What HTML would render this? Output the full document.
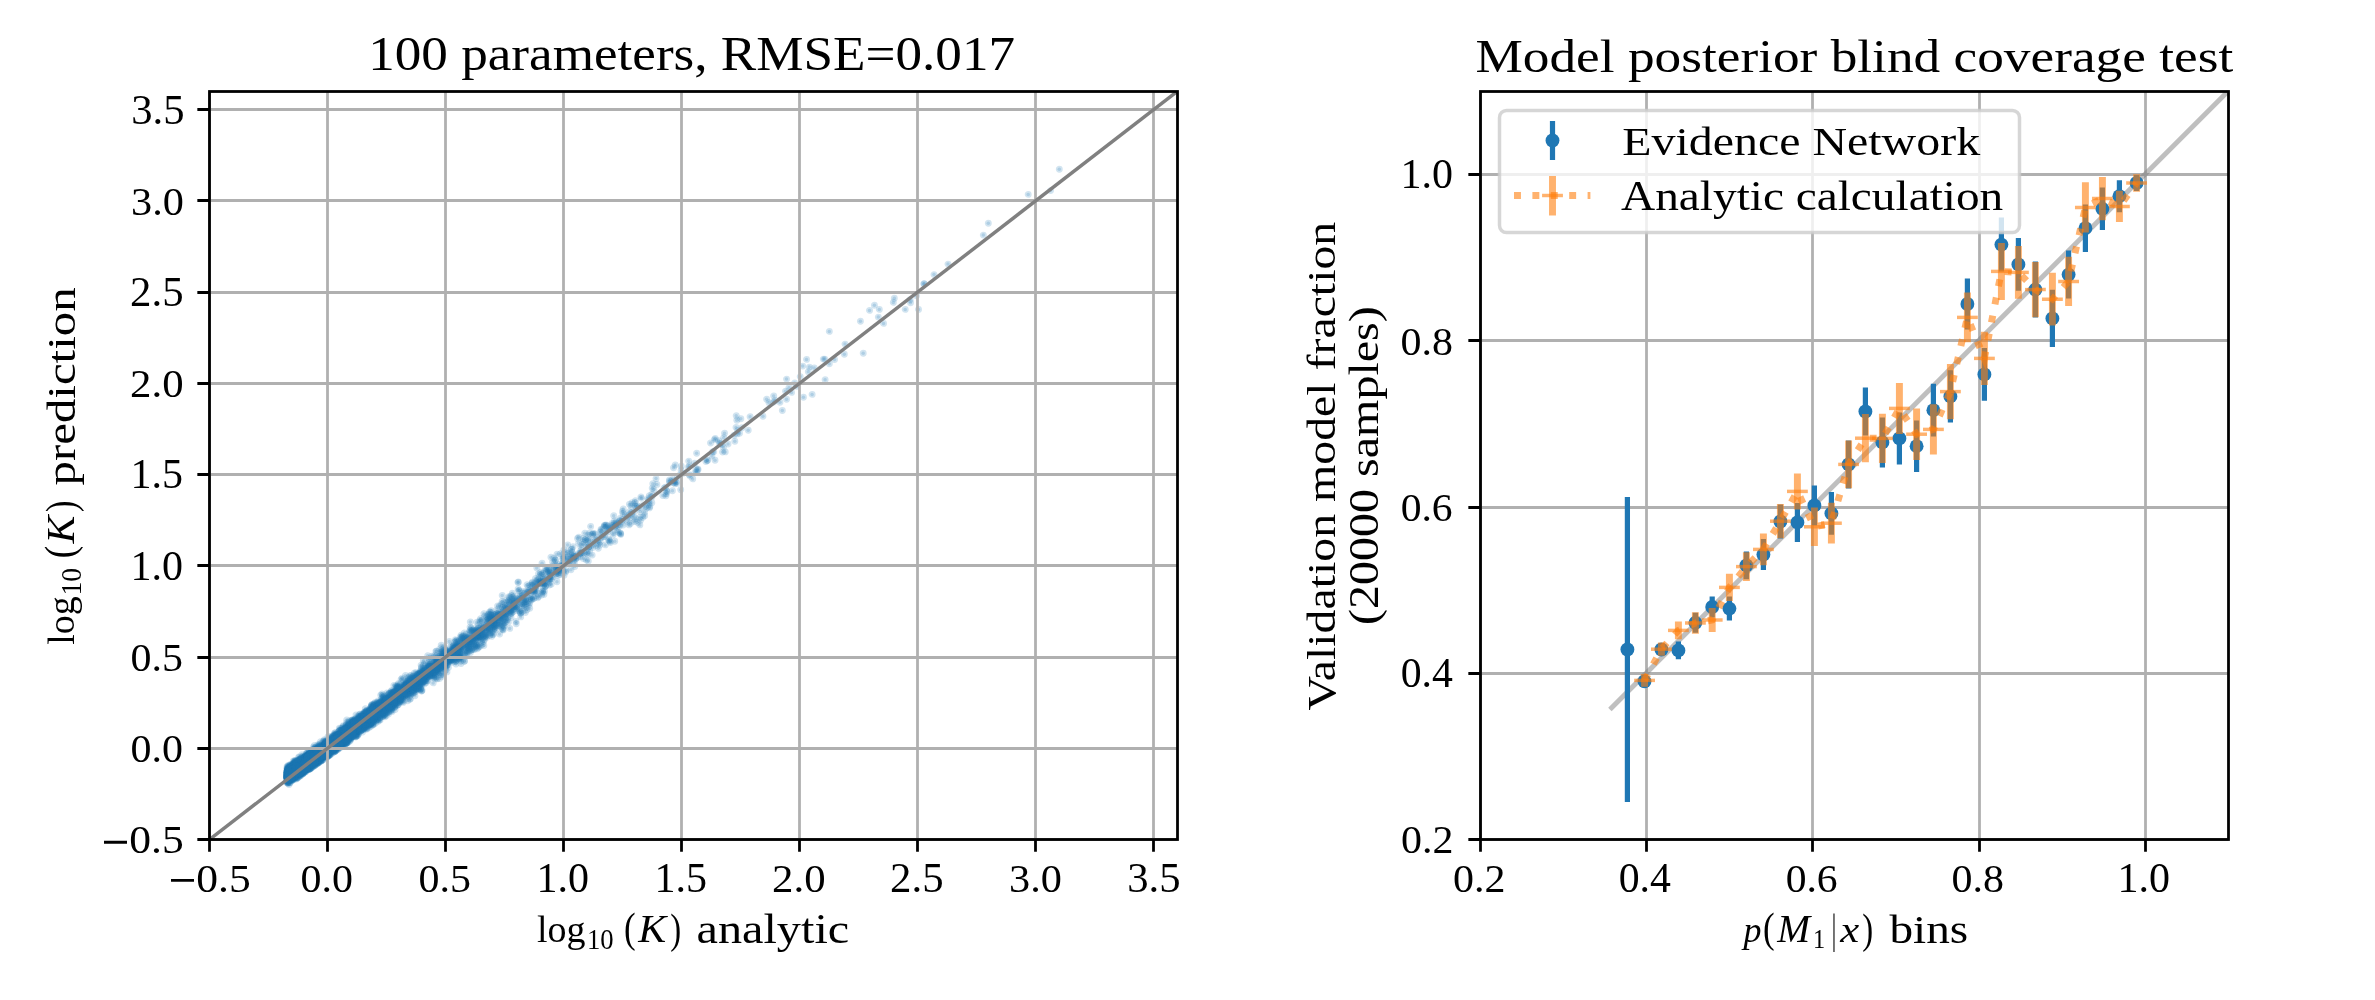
<!DOCTYPE html><html><head><meta charset="utf-8"><title>plot</title><style>html,body{margin:0;padding:0;background:#fff}svg{display:block;will-change:transform}text{font-family:"Liberation Serif",serif;fill:#000}</style></head><body><svg width="2375" height="1000" viewBox="0 0 2375 1000"><defs><clipPath id="cl"><rect x="209.5" y="91.5" width="968.0" height="748.0"/></clipPath><clipPath id="cr"><rect x="1480.5" y="91.5" width="748.0" height="748.0"/></clipPath><marker id="d" markerUnits="userSpaceOnUse" markerWidth="8" markerHeight="8" refX="4" refY="4" overflow="visible"><circle cx="4" cy="4" r="1.735" fill="#1f77b4" fill-opacity="0.2" stroke="#1f77b4" stroke-opacity="0.2" stroke-width="3.47"/></marker></defs><rect width="2375" height="1000" fill="#fff"/><g clip-path="url(#cl)"><polyline fill="none" stroke="none" marker-start="url(#d)" marker-mid="url(#d)" marker-end="url(#d)" points="399.7,692.6 294.3,764.8 343.0,730.9 310.1,763.4 304.5,765.8 310.9,766.2 391.0,709.9 315.7,762.6 324.5,747.5 356.1,727.5 329.1,752.1 309.0,763.4 350.4,733.2 302.1,768.1 382.8,700.3 353.2,736.6 557.1,573.0 391.7,699.1 331.6,743.8 391.3,710.8 292.5,771.6 340.7,743.1 307.5,764.2 395.7,704.9 450.0,651.6 302.5,756.1 295.7,767.1 328.8,748.5 377.5,718.6 355.6,724.0 428.3,666.1 312.2,762.6 311.4,756.7 301.3,772.1 317.1,759.8 321.4,752.2 310.2,764.9 299.7,765.2 369.7,710.7 316.1,756.1 296.0,768.4 359.2,718.2 325.5,748.1 293.1,767.8 340.1,733.8 323.6,754.5 311.9,752.3 338.0,736.3 345.4,734.3 326.4,746.4 288.6,773.7 494.7,619.6 431.0,675.7 292.9,773.1 324.8,751.3 312.0,755.7 292.2,770.8 287.2,774.3 301.1,766.9 352.2,724.9 328.8,755.5 347.3,736.8 346.2,730.7 319.3,755.3 324.4,748.3 354.8,721.6 299.4,765.1 427.5,680.8 333.3,744.7 291.5,776.2 620.3,518.3 293.4,768.3 370.2,717.2 292.8,770.3 306.2,763.8 325.9,743.1 336.8,740.9 335.3,741.7 681.1,470.3 295.8,766.7 360.9,720.4 312.8,758.6 719.9,443.5 293.9,769.6 288.4,772.9 365.4,721.4 385.3,707.4 409.0,688.1 350.0,729.6 297.5,770.2 310.6,763.5 296.3,770.6 298.2,769.9 302.2,763.9 357.1,728.0 311.7,760.6 288.5,769.0 289.0,772.9 310.6,763.0 298.7,764.3 348.3,734.0 330.9,748.4 296.1,767.7 300.3,771.3 307.3,762.5 432.2,666.3 348.8,729.4 309.6,762.4 288.5,776.1 301.4,766.5 622.4,511.5 592.1,555.1 327.5,745.5 296.1,768.8 376.2,705.6 306.8,766.2 302.1,762.3 297.4,771.5 316.7,754.8 342.9,738.1 296.3,777.1 327.3,748.6 312.0,757.8 292.1,769.7 419.9,681.9 400.9,698.7 314.9,754.8 292.2,773.3 336.0,738.2 349.7,726.2 316.0,757.0 309.5,761.3 312.1,761.3 328.6,754.1 315.5,756.6 288.3,772.5 308.3,758.3 340.8,738.3 306.4,757.2 289.1,775.8 487.7,626.5 288.1,776.5 306.7,764.1 312.7,759.4 358.6,727.6 487.4,629.3 350.1,730.1 370.5,715.4 331.5,748.7 454.8,649.0 313.0,760.9 362.7,719.9 374.0,712.9 362.7,729.6 329.6,750.1 346.9,730.1 290.6,775.2 376.8,714.0 442.4,664.0 310.4,759.7 299.4,765.8 387.0,704.8 333.1,738.2 359.8,726.2 471.6,641.6 289.0,774.8 318.8,753.7 288.4,770.3 315.6,749.0 356.5,727.8 319.3,754.5 298.1,766.4 310.6,760.4 300.8,764.0 294.5,774.0 287.9,772.4 289.3,780.6 296.1,768.1 294.1,768.9 288.4,767.2 363.7,724.7 329.0,744.8 326.7,746.6 299.2,770.6 326.4,748.1 493.6,627.2 355.6,731.7 465.1,653.0 400.3,694.5 291.8,775.7 301.4,772.7 287.5,774.4 310.6,765.4 386.3,700.8 310.3,759.5 347.4,736.4 486.8,637.2 451.4,659.9 342.6,741.8 516.6,606.4 311.1,760.8 342.1,728.3 343.8,743.8 303.4,766.8 294.2,769.2 298.4,765.0 311.5,755.1 507.7,617.3 387.8,699.1 302.8,773.8 294.4,771.5 328.4,744.7 557.4,564.2 465.3,652.4 617.2,529.8 350.9,739.0 402.7,695.4 452.0,662.3 324.7,749.3 317.0,758.1 321.8,750.3 306.4,763.3 294.9,771.6 360.9,715.9 293.4,767.9 377.2,716.8 296.1,765.4 379.4,705.8 330.8,741.2 287.3,774.1 351.2,737.5 297.7,769.9 520.7,616.9 295.3,774.6 288.7,776.6 355.6,722.1 559.1,567.5 601.7,533.9 295.8,767.6 310.6,763.0 681.2,466.3 388.9,701.1 561.2,572.8 349.0,734.4 309.5,761.6 296.0,767.9 397.6,688.5 359.0,725.8 307.9,762.6 293.8,765.6 294.7,760.7 325.4,743.7 365.6,718.8 435.9,668.6 334.8,740.4 330.1,745.3 318.8,757.0 287.9,770.9 323.0,743.0 419.7,683.3 303.4,767.6 379.1,711.8 297.6,772.8 340.8,735.3 304.6,768.9 372.6,711.4 321.2,751.4 305.3,761.3 349.6,737.5 360.1,723.2 373.3,712.7 298.6,765.4 311.1,758.5 480.3,635.9 314.0,754.0 295.0,766.1 339.4,734.4 400.7,697.0 287.3,773.8 313.2,761.2 426.6,674.5 357.6,722.6 293.0,776.2 307.6,753.1 340.2,734.2 301.0,769.0 529.9,596.6 287.9,775.2 315.4,757.2 322.9,755.6 314.8,757.6 327.3,753.7 352.0,732.3 288.1,769.3 423.5,676.3 287.9,776.2 288.5,769.8 370.1,714.8 339.2,737.2 290.2,775.3 299.1,764.3 297.9,769.7 331.8,742.0 304.6,762.1 456.1,640.6 304.8,760.8 398.8,694.7 324.7,753.8 332.8,745.4 309.5,763.1 463.0,636.3 323.6,752.5 289.1,781.4 326.4,747.8 292.9,769.3 707.6,460.3 337.6,738.1 338.9,744.6 312.7,757.8 287.5,775.8 294.9,769.5 309.1,759.7 470.4,644.1 296.1,767.2 289.0,775.9 298.7,767.7 289.3,769.7 557.8,575.5 289.3,773.9 327.1,743.1 300.9,762.6 376.1,714.8 357.8,728.1 342.5,735.0 300.3,769.1 361.4,722.5 314.5,761.9 342.0,735.0 308.6,766.7 401.0,692.3 337.5,738.2 301.3,768.6 300.8,771.8 296.7,773.4 293.4,777.6 352.6,722.2 349.6,739.3 291.4,776.9 352.7,728.0 317.3,755.2 307.4,758.9 305.4,759.3 298.2,766.9 362.3,722.4 350.0,733.6 289.7,774.4 328.2,744.5 330.0,744.3 498.2,614.0 467.2,653.0 466.3,647.9 287.0,777.8 376.7,713.8 341.7,741.6 335.5,739.8 766.6,399.3 314.7,751.1 404.3,693.2 301.2,766.8 287.0,775.3 353.8,728.5 311.0,762.6 296.0,767.2 680.7,489.8 364.3,722.7 317.6,761.6 297.9,766.6 374.1,719.5 292.7,775.6 287.0,775.7 344.8,739.3 387.5,702.0 288.5,775.9 476.8,622.3 468.9,648.8 300.7,769.5 303.0,763.4 295.8,769.5 378.0,708.3 302.1,766.8 314.9,753.9 287.0,774.5 409.4,679.6 292.2,776.6 453.2,651.8 299.4,768.3 528.4,591.1 288.4,777.6 404.8,685.8 542.2,591.7 325.2,746.8 430.5,667.5 337.2,747.7 540.0,581.2 340.1,746.1 325.8,747.5 308.5,766.8 317.2,755.7 303.1,766.1 369.5,723.9 316.8,762.0 321.4,750.8 295.9,771.4 309.9,756.9 316.8,755.9 349.2,721.0 593.4,540.3 321.4,746.4 287.4,774.3 311.6,759.0 342.4,735.0 299.0,770.3 324.5,752.6 303.3,759.6 375.0,713.4 303.6,768.6 302.7,763.7 302.1,768.6 501.4,615.1 371.9,709.7 326.9,744.2 296.9,763.3 295.3,766.4 311.5,757.2 340.9,736.1 479.4,630.8 328.0,748.0 351.7,720.8 297.8,768.8 369.5,709.1 390.4,701.4 303.9,760.6 516.2,623.8 317.9,754.3 327.6,750.3 302.3,760.4 300.7,761.7 474.0,640.9 318.1,754.9 297.1,765.9 318.1,753.6 370.7,715.1 313.5,754.6 313.4,762.3 306.9,757.1 549.3,572.4 342.5,746.0 433.9,672.9 315.6,756.6 325.1,741.9 298.8,767.8 362.9,727.8 294.2,766.3 333.5,742.0 302.0,765.6 318.1,751.0 415.1,683.9 414.8,682.6 336.5,737.5 349.0,729.9 288.0,771.6 373.0,715.3 440.3,652.7 343.4,741.4 323.7,755.3 292.6,770.0 367.9,718.7 326.1,748.2 317.5,754.7 306.2,763.3 377.3,715.2 295.5,768.8 293.5,766.8 349.3,734.7 294.5,764.3 306.3,757.5 301.5,768.6 292.2,769.3 325.6,753.0 375.6,712.1 299.2,770.9 416.8,683.2 322.5,757.7 299.2,767.8 312.3,761.9 502.4,620.2 306.9,768.7 297.4,768.4 584.8,533.2 312.4,759.6 296.2,769.7 337.8,744.3 340.2,740.0 318.8,756.8 301.0,771.2 438.6,669.0 299.4,768.8 289.7,772.5 336.2,742.5 315.5,755.3 629.4,504.3 635.0,502.8 333.9,744.6 456.1,661.1 294.5,771.0 298.2,767.7 319.9,749.8 331.3,744.5 346.5,722.6 360.0,724.7 310.6,757.5 309.4,763.6 341.0,741.5 337.4,741.5 320.2,752.3 288.3,772.3 317.7,763.3 328.2,743.5 344.2,729.6 309.8,755.7 325.3,746.5 328.1,747.9 346.1,731.8 303.1,760.7 309.4,763.8 349.6,728.6 307.2,760.5 313.0,758.5 371.1,707.0 329.3,749.0 325.7,752.6 399.2,694.1 321.8,754.1 316.2,751.3 393.1,706.8 298.7,772.1 298.9,766.6 346.6,730.6 304.3,768.1 306.4,769.0 461.8,639.7 321.9,754.9 423.8,677.9 291.4,766.8 561.7,565.4 308.0,763.7 421.8,675.5 353.3,720.9 481.4,630.4 287.0,777.8 442.0,660.3 305.0,767.8 306.4,765.0 467.3,645.5 289.5,771.7 297.5,770.2 296.3,767.9 343.0,732.0 454.4,642.4 435.0,676.6 307.8,762.0 375.2,717.4 368.4,714.5 310.0,759.4 291.3,772.7 290.4,774.9 346.2,737.7 306.0,768.6 287.1,772.3 314.8,757.6 288.4,774.4 337.2,739.6 344.0,732.6 300.1,760.8 343.6,736.6 320.1,751.0 289.3,779.1 370.5,717.5 311.0,761.9 460.0,651.5 715.1,438.5 300.3,766.5 287.7,774.7 318.2,754.3 309.0,761.7 312.9,759.0 351.7,732.4 311.5,761.1 544.4,583.0 287.3,775.8 310.0,766.5 454.8,651.3 379.2,709.3 404.4,688.0 407.6,693.5 381.9,711.5 296.0,767.1 299.0,770.0 296.3,767.9 294.0,773.0 304.9,767.7 288.6,778.9 384.5,708.1 315.7,757.9 420.5,684.6 289.3,769.5 303.0,765.0 295.4,772.8 555.2,560.0 292.3,769.4 380.9,712.7 294.7,771.1 316.5,753.3 696.7,472.2 369.4,711.5 303.2,766.2 404.0,686.1 359.7,724.4 353.6,726.5 342.1,734.7 289.1,770.0 522.1,603.8 371.0,706.9 306.7,766.7 336.9,739.9 331.8,742.5 553.7,571.7 405.8,684.4 416.3,689.7 314.6,757.2 314.5,753.8 288.7,774.3 302.6,768.9 307.1,761.8 377.7,709.4 324.1,753.8 423.4,668.4 304.3,766.0 320.6,756.3 336.0,741.2 342.1,739.5 302.2,766.2 317.6,754.2 299.0,769.0 357.0,723.4 299.2,766.6 301.0,762.5 319.1,757.3 314.2,757.1 326.5,747.9 307.0,761.4 313.2,765.0 311.8,762.5 333.8,742.1 296.5,767.4 290.4,773.1 305.5,762.8 287.6,771.2 296.9,770.1 289.0,776.5 352.2,723.4 329.3,744.6 325.7,749.9 492.8,626.7 311.5,753.9 297.9,769.2 295.8,772.3 301.3,762.1 293.4,775.9 308.8,761.6 291.9,770.2 308.7,762.0 559.2,570.9 334.7,741.0 326.3,753.0 509.1,610.7 287.1,773.1 312.6,762.1 295.5,765.5 290.6,773.7 468.7,641.2 301.3,767.7 440.2,659.5 304.6,765.5 300.0,766.3 396.2,689.9 312.9,754.0 299.0,772.4 309.0,756.5 330.1,747.8 301.2,765.3 339.9,738.3 442.6,659.4 303.4,766.7 353.5,726.1 337.4,736.9 676.3,481.9 351.2,730.2 353.9,724.9 430.6,664.1 302.1,764.6 301.7,765.0 567.9,556.8 318.5,755.4 434.6,665.2 494.1,622.8 287.6,776.0 347.0,742.4 293.0,777.1 423.2,671.8 345.3,733.0 423.3,675.2 376.2,712.7 300.8,764.7 314.1,758.7 352.6,729.2 328.1,742.5 329.5,751.4 316.6,757.6 326.6,749.6 692.7,478.9 294.0,774.6 376.4,706.4 297.4,767.1 292.2,772.5 288.2,770.6 291.2,775.8 382.1,698.0 317.5,755.3 319.4,755.8 308.9,757.5 356.0,724.5 346.9,732.7 737.7,430.5 312.0,764.8 388.7,712.0 299.8,767.2 296.8,766.1 292.5,774.4 309.6,760.3 291.1,777.7 295.9,774.4 353.5,728.7 356.9,723.2 327.1,745.9 640.9,496.9 320.6,755.6 437.8,665.8 321.0,750.0 545.2,586.5 302.1,766.7 295.8,769.8 316.4,755.9 292.0,769.5 340.1,737.1 311.5,760.8 330.1,754.2 298.1,765.8 323.0,747.9 301.2,764.7 310.8,758.6 298.4,766.7 384.1,699.8 375.1,714.6 289.9,773.8 302.6,768.7 309.5,761.4 307.7,764.7 334.0,746.2 391.2,709.9 298.7,768.3 310.0,757.0 303.0,773.6 289.1,770.2 426.1,674.1 336.1,744.2 347.0,732.3 317.1,756.3 393.1,699.2 311.9,754.4 316.7,755.2 291.1,771.8 351.5,731.2 320.1,753.9 293.8,774.0 302.8,765.7 328.7,750.0 308.0,758.1 287.3,776.0 456.4,646.3 472.3,630.2 332.7,740.7 287.0,777.6 305.0,758.5 294.0,777.0 299.8,762.8 312.6,766.9 340.8,741.6 301.6,766.4 302.2,768.0 299.3,774.4 339.3,744.8 361.3,721.7 352.6,736.2 343.9,733.5 304.9,760.3 567.0,551.6 320.0,752.7 426.7,673.7 477.6,636.8 334.5,733.2 337.2,736.6 292.6,770.0 313.2,757.1 315.7,752.9 344.2,742.9 434.6,662.6 302.5,767.4 316.9,763.4 297.7,765.2 369.2,720.2 318.8,752.9 328.6,750.0 299.5,768.8 317.0,750.2 336.1,740.6 440.9,660.4 489.6,635.3 385.7,700.2 328.3,749.9 750.1,416.7 307.5,765.5 316.8,754.5 289.4,772.3 357.0,732.0 514.5,603.4 334.9,745.9 377.2,705.2 324.1,749.4 335.0,742.4 427.7,655.8 293.1,769.0 451.1,657.1 358.8,721.1 319.2,753.1 300.3,762.7 290.9,776.2 299.9,761.0 645.3,506.1 323.2,752.5 354.3,731.0 334.5,744.1 289.1,768.3 344.8,734.5 336.7,745.2 297.0,769.6 335.1,741.6 424.5,669.9 353.4,730.1 361.6,721.7 306.2,753.5 401.4,693.3 320.9,752.4 346.6,738.5 325.5,746.4 344.7,737.1 367.5,710.1 322.9,747.4 327.1,745.7 292.6,773.5 329.7,747.7 332.2,746.0 302.7,765.2 464.9,646.3 287.3,777.0 570.8,557.7 430.6,670.6 292.5,773.2 327.4,745.2 310.3,756.8 290.4,775.1 308.0,754.8 625.4,514.9 315.1,752.8 407.9,677.9 290.2,777.9 299.9,765.6 291.3,769.9 353.3,723.9 324.8,747.4 331.8,741.4 365.4,726.2 297.5,771.8 296.5,767.6 302.4,772.2 290.3,775.1 306.5,763.5 315.1,755.6 304.9,761.0 616.4,522.6 320.8,755.7 287.0,778.5 439.7,661.2 345.7,732.3 291.0,771.8 293.7,770.7 287.9,774.6 307.1,766.9 301.0,766.6 360.4,720.2 320.2,757.1 383.1,704.3 300.7,764.5 314.4,749.6 306.8,762.8 333.5,744.6 319.7,757.7 494.7,628.2 320.3,758.7 288.3,780.3 298.5,765.9 314.6,757.2 315.9,755.3 291.7,777.5 294.6,777.0 319.6,759.7 347.9,726.5 356.7,721.6 298.6,772.3 308.5,761.1 305.1,763.3 305.0,767.0 348.5,734.9 301.5,763.1 302.3,763.4 355.6,723.4 313.5,756.9 365.9,718.8 326.2,747.4 400.4,694.1 362.1,714.9 325.7,748.6 312.5,756.9 289.6,774.1 331.4,747.6 495.4,620.5 293.1,772.6 372.7,717.7 311.7,756.5 312.7,751.9 318.5,753.4 387.5,703.5 293.8,773.4 301.6,770.8 292.5,770.0 325.4,747.7 293.6,773.7 324.4,750.0 381.2,711.6 364.0,714.6 289.2,773.7 292.7,770.4 326.9,742.7 327.4,755.9 291.4,771.3 405.9,687.6 311.5,760.2 317.0,755.3 340.4,733.8 307.9,763.9 326.5,751.0 365.9,711.7 405.6,683.9 343.9,733.9 363.7,717.3 381.1,707.2 349.0,733.0 310.1,760.6 297.7,767.5 329.9,747.9 293.0,776.5 310.5,760.5 290.1,772.5 329.4,747.1 293.1,769.3 310.7,758.8 320.3,749.8 375.8,711.0 499.6,617.9 288.4,772.7 367.5,714.0 306.7,764.0 319.2,756.7 326.1,744.4 319.2,755.6 324.9,748.5 323.3,752.5 298.0,767.6 397.7,688.1 324.3,744.6 300.2,771.0 364.3,726.4 372.4,725.2 437.8,661.3 303.0,760.1 336.1,740.6 303.5,765.7 289.1,771.4 339.3,742.6 295.7,767.7 291.2,768.5 306.3,758.8 310.4,757.7 308.8,762.7 313.5,758.9 300.2,769.7 303.6,758.7 399.2,687.7 298.8,768.0 307.3,762.3 355.2,726.2 310.8,761.8 320.0,751.5 297.3,767.2 554.3,568.3 408.7,686.5 330.5,754.4 311.9,759.5 311.5,763.8 317.1,760.9 326.0,741.5 293.4,772.8 317.4,755.7 288.9,775.1 450.6,660.0 310.0,755.0 287.0,781.1 290.6,771.6 344.6,737.4 290.4,769.3 323.0,748.4 296.3,769.2 337.5,746.0 351.0,727.3 388.6,697.4 300.5,764.6 338.5,740.9 304.9,761.8 384.8,708.6 294.6,769.8 305.8,762.1 309.7,761.3 307.7,765.1 291.6,773.2 303.9,767.4 288.5,778.2 326.6,745.2 291.2,773.3 303.8,766.3 342.2,739.0 288.7,773.0 295.9,770.7 356.8,729.0 296.4,768.6 334.2,742.6 294.7,773.4 290.6,776.5 464.0,636.6 318.4,755.4 425.0,668.0 316.2,754.0 335.7,742.2 325.3,750.5 374.1,705.8 313.0,760.4 325.6,750.8 303.6,767.5 621.8,521.3 383.7,710.3 315.1,756.4 292.0,776.2 306.4,761.1 293.8,770.0 310.0,759.7 318.0,756.8 508.4,601.4 502.1,601.5 291.4,773.1 308.1,764.2 334.2,740.9 289.4,774.6 317.1,755.0 405.9,685.7 302.5,769.8 447.9,652.9 292.4,775.3 295.9,773.7 343.4,737.7 331.4,740.1 324.1,752.7 296.8,767.7 344.6,738.8 387.9,699.7 310.6,758.9 308.3,757.8 344.6,734.6 289.7,773.8 356.3,734.1 365.9,717.9 355.7,723.8 389.4,700.6 332.0,744.1 291.5,770.8 397.1,691.4 289.9,776.4 541.4,583.2 327.5,746.7 295.7,769.1 340.2,742.2 491.5,636.4 342.5,735.7 389.6,698.0 294.2,765.6 298.8,766.6 302.3,768.5 287.3,773.9 300.5,767.2 334.7,745.2 529.3,602.9 308.7,767.2 292.2,774.3 525.6,599.0 386.0,703.8 651.9,497.0 348.4,731.6 348.8,724.7 308.3,761.8 314.3,752.9 427.7,677.0 309.0,763.5 309.1,762.7 303.5,770.7 487.9,615.2 302.3,764.9 293.9,768.8 292.0,766.9 301.6,764.7 421.3,668.7 310.1,768.1 298.2,764.3 292.7,770.9 300.3,768.7 345.6,730.4 340.1,738.6 339.3,741.9 338.4,747.2 383.5,697.7 292.1,780.4 308.5,761.2 303.9,759.5 346.8,731.2 334.6,743.8 478.0,637.8 305.1,763.0 334.0,743.6 311.8,763.4 303.3,769.8 370.8,710.6 326.7,753.1 337.4,745.0 342.8,727.9 305.1,766.6 339.8,743.9 300.6,770.0 476.4,630.3 309.1,763.6 391.4,700.9 355.5,736.6 287.3,777.3 301.2,766.3 343.4,736.2 287.4,770.8 293.9,769.6 306.0,771.4 410.5,694.4 586.6,553.3 366.3,720.4 298.0,768.4 339.8,736.8 295.5,775.6 307.1,769.9 318.7,751.8 301.4,769.6 298.1,776.1 321.6,755.7 294.9,772.0 387.3,709.2 415.5,688.5 288.1,771.8 421.7,683.5 309.9,759.6 312.7,757.9 324.1,752.0 402.7,679.6 459.8,656.6 436.5,651.3 326.0,752.7 308.0,762.8 314.4,756.5 310.0,756.9 325.9,747.1 348.2,734.2 367.4,719.9 298.6,764.4 306.8,757.7 323.7,752.9 328.2,743.6 312.9,756.6 305.0,763.2 364.4,725.4 339.1,744.3 375.2,710.5 300.4,775.7 373.8,715.8 312.4,757.4 308.5,767.1 326.0,743.7 313.5,752.5 291.4,776.1 338.6,740.4 298.3,768.8 328.0,749.9 329.7,748.4 311.6,757.8 303.8,759.3 305.0,763.7 291.4,772.5 356.0,726.3 326.0,751.7 321.8,750.2 316.1,757.9 288.6,777.7 299.8,765.3 402.3,701.7 476.2,638.7 330.5,747.5 305.0,764.4 307.0,767.7 349.7,735.4 304.9,764.5 295.3,768.3 296.5,769.9 601.0,537.6 322.9,754.4 297.8,768.6 326.7,757.1 297.6,766.7 324.4,747.2 334.1,743.4 321.9,755.5 288.1,770.7 334.8,745.3 313.8,753.3 291.6,773.5 676.8,483.4 401.9,693.4 300.4,769.2 307.1,763.0 292.9,770.2 296.1,770.6 377.0,713.2 290.4,773.4 506.5,609.1 343.2,736.5 381.6,705.0 287.6,773.4 305.5,762.7 310.8,757.5 307.4,762.2 364.8,715.4 394.9,695.5 427.4,668.3 372.3,715.4 335.6,747.3 312.7,760.1 287.2,775.3 289.3,772.9 416.5,681.4 322.7,746.6 473.9,645.4 342.8,743.4 297.9,769.1 413.1,687.4 290.9,772.9 406.5,685.4 542.0,563.2 326.9,753.2 292.1,775.7 354.1,728.5 356.7,732.4 287.3,777.7 294.1,767.0 308.7,761.5 319.6,753.8 290.2,770.0 370.5,723.5 301.9,765.6 300.8,766.9 423.1,674.8 459.4,654.5 290.3,774.8 347.7,733.5 444.9,655.5 479.1,637.7 314.3,755.4 300.6,773.6 303.7,763.4 317.8,752.5 304.8,767.0 347.9,734.0 363.4,721.3 310.1,759.4 349.0,727.5 314.8,756.5 308.9,761.9 311.5,760.0 287.6,774.4 295.6,767.6 322.2,751.1 295.1,772.1 303.0,766.3 408.4,691.4 415.4,686.6 304.5,765.9 325.9,751.3 445.3,654.9 290.1,777.2 414.9,682.0 291.9,776.0 315.4,754.1 357.3,724.6 546.9,569.3 307.3,760.5 299.7,770.6 311.7,759.2 291.9,774.4 343.9,737.9 343.9,739.7 290.4,774.3 399.8,693.4 324.8,749.5 293.4,763.8 293.7,771.7 316.0,756.0 347.7,733.4 306.2,763.9 712.6,451.8 294.9,770.3 297.7,769.3 481.4,626.6 323.2,749.8 381.6,711.6 312.5,758.7 312.0,758.1 311.4,760.3 358.7,725.8 373.5,714.0 291.8,770.6 414.4,681.9 319.7,755.5 391.5,700.3 317.5,751.2 545.4,586.0 328.4,745.4 287.8,775.8 314.4,745.4 494.3,617.1 292.0,772.2 424.5,675.7 288.3,779.3 304.1,766.1 307.5,755.8 320.3,752.1 356.8,727.3 370.0,716.3 423.6,675.6 416.5,686.2 305.6,763.2 414.2,680.3 287.4,779.8 322.2,752.7 329.8,754.9 301.0,771.8 291.6,770.1 330.8,741.6 320.1,747.4 384.9,711.0 558.5,568.8 293.2,772.6 298.6,764.8 331.0,744.5 325.8,749.2 330.8,743.8 287.1,776.9 290.2,770.6 510.7,610.7 374.1,708.4 333.4,743.2 295.5,769.4 330.9,749.5 326.4,754.1 574.7,566.6 321.6,750.8 300.1,773.8 393.5,692.1 311.1,760.7 340.6,743.2 312.1,757.9 319.4,757.9 307.0,762.4 346.5,735.0 335.2,738.3 306.9,759.8 290.7,770.4 366.7,720.7 347.2,728.7 454.4,652.7 296.0,769.4 318.0,753.4 304.8,763.2 618.3,532.4 287.5,773.3 351.7,736.1 445.4,656.6 312.2,759.1 392.1,699.3 460.3,654.1 307.5,759.0 741.9,427.7 405.6,685.3 301.8,768.3 305.4,765.9 334.2,743.0 317.9,751.6 437.1,672.9 303.3,766.9 303.0,766.8 335.9,742.9 493.8,624.6 332.4,740.9 337.2,738.5 371.8,714.8 320.9,750.1 401.1,687.8 460.1,651.5 318.4,756.9 408.1,684.1 335.2,735.1 356.0,736.2 302.7,767.4 312.2,756.4 305.6,766.0 302.4,763.0 311.6,758.6 299.1,771.6 481.3,634.2 310.1,759.2 426.4,678.4 304.9,762.2 349.4,730.6 592.7,544.3 313.7,756.6 313.5,759.1 329.0,746.4 324.1,753.9 288.1,770.6 569.6,561.2 386.7,698.4 355.3,718.9 303.1,760.3 314.0,757.7 375.7,711.3 460.5,647.8 307.1,761.5 291.1,775.4 309.3,766.7 337.8,739.4 556.2,569.9 451.4,645.8 329.7,740.5 392.3,706.0 298.9,770.8 318.7,751.9 418.4,673.6 296.5,769.1 617.0,523.5 288.1,780.4 355.0,718.6 322.3,754.2 474.6,633.1 392.5,697.7 287.5,777.9 299.0,765.2 297.5,764.3 479.5,633.1 360.9,722.5 326.7,746.7 389.6,696.9 333.9,740.5 300.1,769.9 705.9,461.5 300.4,768.6 308.9,769.4 308.9,765.4 315.6,757.2 371.6,717.9 300.0,769.8 293.4,768.7 318.9,753.2 346.9,730.6 449.0,657.5 312.5,760.1 293.8,773.8 541.4,581.1 332.5,750.6 341.8,740.7 309.1,759.2 463.3,640.3 406.7,688.9 305.8,767.0 311.4,757.6 346.7,736.6 308.6,761.8 321.7,755.5 330.5,739.8 335.1,737.3 309.6,763.4 344.0,740.1 334.8,742.9 322.4,749.8 289.3,770.3 350.3,731.3 458.4,656.5 289.8,772.9 312.7,757.7 300.2,772.0 287.0,776.4 321.1,753.7 290.9,776.0 288.8,773.7 288.5,771.5 384.3,700.9 306.5,765.7 295.3,772.1 368.2,714.7 307.8,763.0 329.8,747.7 295.0,763.7 410.4,698.8 393.1,702.0 467.9,646.9 350.5,731.2 287.4,770.2 335.0,743.1 386.4,705.3 396.3,695.7 429.5,673.0 437.6,663.2 305.6,755.5 290.7,775.3 379.1,710.4 288.0,775.2 345.9,742.3 296.7,767.5 323.1,751.5 380.0,717.6 301.4,767.2 414.9,681.6 294.7,773.3 295.3,766.9 492.2,626.7 524.2,607.4 476.8,629.9 316.6,756.3 301.0,766.1 305.0,769.0 288.1,779.0 335.0,746.1 365.1,720.6 313.0,758.8 306.8,758.3 291.9,767.8 290.2,773.1 615.3,526.0 333.2,737.5 322.4,751.6 296.8,766.2 385.9,706.6 314.5,757.7 498.5,619.8 323.8,753.1 302.8,764.3 324.7,752.9 288.9,774.7 343.3,734.9 290.4,767.0 305.4,769.6 301.3,766.1 318.8,752.2 289.3,775.1 290.7,770.6 382.9,704.2 340.7,736.6 397.3,697.8 329.1,747.8 330.8,746.5 395.7,701.7 294.0,770.5 481.1,638.2 303.3,768.0 304.0,761.2 311.7,761.1 501.8,621.2 316.9,753.1 342.6,738.5 365.9,718.0 344.4,736.3 311.1,758.5 397.5,694.7 526.8,609.7 359.7,718.1 304.0,761.5 309.0,765.8 325.2,747.0 301.4,767.0 353.3,728.4 327.4,744.1 300.3,763.9 368.4,713.4 317.5,748.8 288.8,771.2 562.0,569.5 293.8,775.1 307.5,759.5 295.9,775.1 299.8,768.4 293.7,772.3 487.9,630.7 386.1,698.0 341.1,736.9 303.8,765.5 453.0,648.2 305.2,765.1 288.4,771.1 355.5,719.2 314.2,757.9 461.2,648.0 332.1,740.9 300.9,772.7 289.3,777.9 340.7,742.0 328.1,753.2 462.8,645.8 294.5,769.9 595.4,540.4 302.9,765.5 290.4,770.7 290.9,769.8 375.1,707.1 311.2,760.1 352.3,729.5 358.5,719.1 301.3,765.1 304.7,760.0 333.3,745.5 683.0,473.2 400.9,696.2 327.5,748.4 321.7,750.9 318.7,755.8 327.9,741.5 308.0,766.6 357.0,722.7 293.2,774.9 419.2,677.7 293.6,773.7 329.6,746.5 302.2,765.6 336.9,744.0 384.7,710.8 356.1,729.6 441.7,662.0 302.4,763.2 296.3,764.7 300.3,772.4 350.6,729.2 425.5,676.9 313.7,757.9 313.5,757.0 301.9,763.6 305.3,762.5 346.5,734.1 316.8,750.7 311.4,758.6 379.4,709.3 291.6,769.2 347.2,737.7 303.2,768.1 362.0,716.5 385.9,705.3 370.9,723.2 326.4,746.4 294.3,767.3 465.9,648.0 434.0,675.1 314.8,757.3 288.9,773.3 313.4,760.0 398.0,699.7 347.7,731.1 300.0,765.6 458.8,658.3 297.0,772.6 323.7,752.0 316.1,758.3 535.6,586.4 310.3,758.6 308.3,755.9 292.0,771.3 469.1,635.4 331.4,750.6 301.4,768.5 366.4,714.7 598.3,548.3 307.7,758.0 378.3,707.7 338.1,739.9 334.9,743.2 289.0,777.8 292.7,775.2 293.7,772.9 389.1,704.0 360.2,718.8 391.7,704.8 427.9,676.0 294.9,775.8 299.1,767.4 308.9,761.3 582.9,542.1 364.6,712.6 456.5,647.7 296.5,772.1 299.3,767.0 287.6,774.4 356.3,726.9 334.4,746.9 307.0,761.6 290.9,776.8 403.9,691.3 287.7,776.1 319.2,762.3 334.7,740.9 293.8,764.9 413.2,685.7 322.9,753.6 307.2,759.6 297.6,772.9 287.0,775.6 562.9,563.0 340.1,740.9 307.0,762.9 313.9,760.5 308.9,763.1 329.8,744.5 361.1,726.6 341.8,739.6 347.0,736.2 293.6,769.9 354.5,729.5 313.1,761.1 304.2,763.6 543.9,594.4 313.1,764.4 288.6,773.8 313.4,752.2 312.0,760.7 385.1,703.5 296.6,773.7 337.3,740.5 333.3,743.3 294.4,769.2 289.0,776.6 317.3,749.2 374.4,717.2 331.5,740.2 364.7,724.8 335.1,739.9 294.7,766.6 318.3,747.8 338.5,740.5 321.9,757.6 294.6,768.2 292.6,774.2 287.5,778.5 338.7,742.0 324.6,753.3 303.7,762.5 311.9,758.6 439.5,660.1 322.3,749.1 295.3,771.5 376.6,708.3 302.7,761.8 293.9,765.5 314.0,757.2 317.9,755.8 288.1,777.7 356.8,727.9 395.1,697.4 297.3,768.2 608.9,539.5 306.8,764.0 326.6,749.6 303.1,767.1 337.1,743.2 302.6,764.5 300.9,769.7 299.0,766.5 298.7,771.4 305.2,763.1 298.4,771.7 394.5,692.3 327.1,746.1 312.2,754.7 319.4,756.7 381.8,713.4 299.4,771.7 291.7,773.3 319.1,750.7 304.1,762.4 327.5,746.1 293.5,775.1 407.0,683.1 417.3,676.9 289.8,775.4 441.6,676.4 303.3,767.6 312.7,759.0 583.0,538.5 411.5,684.0 324.8,750.4 294.3,766.1 392.1,692.4 291.4,771.7 303.7,762.9 402.8,685.4 522.9,603.4 332.3,743.4 311.6,760.7 306.7,765.8 374.2,711.0 343.0,732.7 358.8,717.3 297.1,766.8 295.7,766.5 389.3,702.6 291.7,777.1 301.8,764.8 293.3,773.3 288.5,768.9 322.4,747.9 349.1,732.8 310.9,754.4 320.2,751.3 295.8,764.9 543.5,582.3 386.4,700.3 454.9,653.3 296.0,769.7 309.0,757.5 339.5,732.4 300.9,766.2 341.0,737.1 297.2,771.7 289.0,774.9 301.0,765.0 447.5,664.8 299.5,768.8 384.6,710.4 344.6,734.7 332.6,741.3 301.6,765.1 290.1,774.4 302.3,768.9 411.5,693.2 297.2,768.9 296.1,765.0 505.4,614.4 563.1,564.8 500.7,619.1 300.4,770.4 336.5,737.8 310.1,758.1 317.7,759.9 380.7,713.8 407.7,681.1 297.3,771.7 542.2,582.4 353.4,732.8 293.8,770.2 298.2,770.8 338.1,742.4 331.9,748.8 304.4,758.4 351.7,720.1 331.1,744.8 309.4,758.8 292.3,770.4 340.3,738.6 292.1,772.6 388.5,704.0 465.8,638.7 316.0,760.2 303.5,767.6 302.8,763.2 386.8,710.1 288.1,769.9 597.7,540.3 288.6,774.0 300.1,763.0 373.1,714.1 300.4,766.5 435.8,669.8 365.0,717.9 310.4,758.0 562.9,570.6 294.2,768.9 314.4,754.3 323.5,749.5 325.6,752.1 317.9,751.9 308.4,757.2 331.0,747.3 483.5,641.2 306.0,765.5 300.1,767.0 330.0,742.0 316.1,752.3 296.2,767.5 317.8,757.1 328.6,744.9 344.9,735.2 294.7,773.7 318.2,760.6 384.6,700.7 337.2,746.7 291.4,768.9 306.1,756.0 307.5,762.1 379.2,713.1 310.8,761.9 415.7,685.3 302.9,764.1 301.7,763.0 307.3,764.7 292.2,773.2 334.5,745.3 329.2,743.1 287.4,772.3 499.4,622.8 376.7,712.6 307.3,761.8 644.7,515.7 329.7,748.4 347.3,732.8 401.4,699.6 288.8,773.7 295.2,770.1 298.4,770.0 387.1,698.6 329.0,750.3 325.0,748.6 374.6,713.9 288.7,771.1 297.5,771.2 307.6,760.2 306.3,761.1 297.3,765.4 325.5,744.3 322.4,756.8 321.6,752.6 295.6,773.4 295.1,767.3 305.1,759.6 340.0,739.9 385.3,703.7 474.3,628.7 345.1,734.2 299.4,768.0 296.1,774.8 450.5,659.4 331.7,741.7 399.5,701.3 543.2,579.2 426.5,672.4 448.3,657.1 321.5,749.8 320.7,755.4 320.6,748.5 322.7,753.0 334.6,739.4 287.4,777.1 385.3,703.5 289.4,775.0 293.2,766.4 346.7,737.7 290.0,775.6 347.7,727.5 325.5,747.0 321.9,752.2 288.7,775.2 307.3,766.4 299.9,768.1 292.7,770.8 291.7,768.9 290.1,770.7 288.0,770.5 413.3,681.6 294.4,773.0 316.8,756.8 331.4,740.1 293.2,771.2 310.3,755.7 293.1,776.5 290.8,774.6 323.5,753.7 302.2,764.9 350.0,734.3 288.6,778.6 293.5,771.6 321.3,760.1 339.4,741.5 327.3,747.0 287.3,778.9 297.2,769.1 294.4,773.5 388.0,704.3 294.8,769.8 334.2,741.6 325.1,748.5 336.0,744.5 297.2,764.2 292.2,771.2 344.3,738.0 297.7,764.5 506.5,614.3 289.7,767.8 311.5,756.7 353.0,729.4 316.0,757.8 298.9,770.5 505.0,618.0 314.5,758.2 393.2,692.2 328.8,746.6 381.0,708.3 312.0,757.6 721.9,444.5 354.7,732.7 314.2,762.3 293.6,766.9 306.0,764.1 365.9,712.5 301.9,759.9 320.3,752.3 327.0,745.9 297.6,769.8 317.3,755.7 304.1,764.2 297.2,768.9 338.1,734.7 294.8,770.8 343.5,732.7 305.4,763.1 335.4,740.0 297.2,763.1 296.1,774.5 321.1,748.7 557.5,573.3 345.3,734.0 425.6,676.1 297.1,770.5 380.4,714.6 318.5,762.7 434.4,655.4 292.5,769.2 335.3,743.1 305.8,769.3 512.1,602.6 397.2,687.8 309.7,759.2 327.6,754.0 343.4,738.2 413.0,682.3 340.8,738.5 292.4,768.5 305.4,766.7 317.4,757.4 302.9,773.3 303.6,761.1 308.2,759.5 440.9,665.1 287.1,781.1 337.7,737.3 287.7,779.5 301.4,770.4 363.8,729.2 289.2,778.6 341.0,741.6 290.9,776.5 331.3,741.5 306.5,760.5 342.5,736.6 314.3,759.3 306.1,763.3 327.1,753.1 529.0,590.5 316.3,759.2 303.4,766.7 318.8,753.1 300.8,769.5 307.6,766.7 301.4,763.0 314.4,763.2 287.6,779.2 294.4,774.5 290.3,775.7 331.1,746.1 296.2,778.9 434.7,670.3 290.7,768.7 355.3,722.4 311.5,756.5 348.1,733.1 394.8,696.6 298.2,770.2 715.0,460.3 304.8,762.9 302.3,762.2 294.1,770.1 288.7,774.6 464.9,638.7 318.6,753.4 301.6,762.5 300.6,768.2 296.3,775.4 377.4,708.5 326.4,745.9 292.9,774.3 301.4,765.5 346.3,731.3 301.2,775.0 300.8,758.7 491.6,618.1 294.1,771.6 309.3,764.8 325.4,755.3 320.5,741.6 369.3,718.3 399.6,690.4 418.0,683.7 397.1,697.6 372.1,711.7 287.3,778.4 302.1,766.1 386.0,705.3 337.1,739.3 323.8,747.9 312.1,759.6 347.9,727.4 291.8,774.0 343.9,737.5 325.3,749.5 414.6,684.1 305.1,761.3 461.0,663.6 297.8,774.4 356.3,735.8 296.0,765.2 298.3,765.6 306.2,765.4 311.5,758.1 350.9,737.9 321.1,753.8 343.9,730.2 323.7,748.7 332.7,736.6 299.5,769.2 331.5,741.1 299.0,767.5 308.5,760.4 472.6,636.4 296.1,767.2 328.9,742.5 694.5,463.3 382.0,705.4 307.6,762.4 297.3,768.0 443.3,665.7 299.3,764.3 301.4,764.0 304.5,763.2 311.4,759.5 386.4,707.1 320.9,756.1 355.0,732.2 343.2,739.5 383.4,701.7 315.1,755.4 339.1,744.9 287.8,778.1 323.7,746.2 320.8,747.1 426.3,668.9 288.5,767.8 332.3,747.1 400.6,690.8 325.7,751.7 319.6,746.0 429.5,668.7 288.5,773.1 334.6,741.4 311.0,759.8 314.7,764.9 524.5,600.0 336.3,745.2 317.3,752.5 293.7,766.7 309.3,759.8 365.1,724.3 298.0,771.9 295.0,767.8 307.6,762.8 358.5,725.8 295.1,773.7 330.3,745.1 346.1,733.2 298.5,765.3 306.8,765.6 392.0,699.6 608.7,540.3 304.1,763.6 491.6,622.8 398.0,696.8 294.7,767.5 288.7,778.3 309.4,755.4 388.7,699.8 321.7,750.0 301.4,765.1 306.3,765.1 342.8,738.7 294.1,767.7 409.8,686.0 287.9,773.7 325.4,750.7 312.8,755.3 294.9,768.1 288.6,778.4 301.9,759.2 319.4,750.0 422.2,671.7 367.5,716.4 495.4,620.2 299.6,764.4 402.0,678.2 323.1,751.3 316.7,759.2 314.4,757.2 314.1,757.0 492.6,615.4 295.5,773.9 313.1,759.5 301.3,767.2 359.1,720.0 404.4,684.1 287.7,774.2 293.4,767.7 313.6,757.3 315.0,756.4 302.6,772.8 320.7,755.8 324.4,754.1 303.6,763.2 332.0,744.4 297.8,771.9 292.5,771.7 343.6,736.4 414.8,680.1 321.1,754.5 293.5,773.5 303.6,760.7 307.0,763.3 316.7,752.1 305.5,766.4 382.8,707.5 293.0,772.6 317.8,758.2 342.9,733.8 543.0,590.8 294.6,769.8 310.7,767.0 289.1,771.9 314.9,756.8 308.5,757.6 318.1,747.8 291.0,775.1 368.1,717.5 301.6,770.3 302.8,766.8 441.7,661.6 337.0,740.9 311.6,756.6 309.6,759.0 289.2,771.0 389.7,704.7 384.1,704.8 322.4,755.3 320.4,753.7 314.9,765.3 302.6,765.8 312.1,758.8 393.6,700.8 291.8,773.7 459.4,658.9 356.5,729.1 311.0,761.7 311.6,758.6 291.8,770.9 480.6,634.7 425.8,674.9 291.8,771.3 387.5,707.4 438.0,658.9 321.8,745.2 310.6,758.7 306.3,764.6 294.7,769.9 292.1,768.5 408.1,680.8 288.2,779.0 288.6,773.5 321.5,754.9 356.8,728.0 324.1,749.6 348.9,730.0 419.6,680.3 723.4,447.4 352.4,730.3 287.7,778.3 323.4,745.1 288.4,779.5 318.9,752.2 375.7,711.5 719.9,443.7 347.2,737.5 351.1,732.4 323.5,752.2 305.5,765.3 290.3,774.2 306.9,762.2 287.4,776.7 314.4,755.9 327.3,745.8 406.0,692.0 315.8,753.9 297.9,768.4 312.4,760.7 306.5,761.3 293.9,767.6 317.3,756.4 315.7,762.6 376.8,707.6 298.9,764.7 298.2,772.0 423.4,676.7 367.0,716.6 339.5,748.1 299.4,765.1 338.8,737.1 287.4,772.8 302.0,761.1 302.9,768.8 336.9,737.8 310.6,752.5 358.3,734.6 401.2,694.8 312.6,756.3 337.6,743.4 297.9,774.5 296.2,768.7 329.9,745.9 289.8,776.1 295.7,769.2 421.0,672.9 354.8,723.7 309.4,759.6 491.9,631.6 292.3,773.2 503.2,630.0 525.2,604.2 296.7,768.9 310.4,758.4 312.2,759.1 323.2,751.4 355.9,735.1 485.5,636.8 322.0,756.1 363.6,723.8 388.0,705.8 353.2,720.2 340.6,734.7 292.7,775.3 306.2,765.4 307.5,764.1 393.8,701.5 443.4,664.1 292.8,778.5 331.4,741.4 291.5,770.7 326.3,747.1 343.8,735.8 391.3,698.2 302.9,766.7 327.8,755.1 491.8,622.7 304.2,764.6 300.4,771.4 379.4,720.0 303.0,761.7 316.7,759.4 313.4,759.0 298.3,770.7 299.5,762.2 332.4,750.1 288.0,771.8 344.5,744.6 290.9,770.3 296.5,771.2 286.9,782.9 434.9,667.2 422.6,677.3 332.3,750.6 545.7,577.0 390.1,701.6 366.3,717.2 307.0,767.4 313.6,760.7 326.7,752.4 307.0,762.3 301.4,768.2 395.5,702.5 291.5,768.5 312.4,760.7 290.4,770.1 312.3,756.2 295.5,772.6 318.9,760.8 517.8,601.8 292.9,769.8 324.2,746.7 363.4,719.8 317.0,754.3 294.1,773.2 445.0,664.2 328.0,736.8 308.4,757.9 314.9,761.7 319.0,753.3 306.9,761.2 473.5,649.4 344.1,737.1 289.6,772.3 298.9,762.7 347.6,727.0 295.5,771.4 326.8,750.0 326.9,750.5 383.0,705.7 311.9,756.4 337.3,744.9 333.5,744.6 289.9,775.7 320.1,756.2 340.1,740.9 325.2,743.7 297.7,763.2 295.0,765.9 363.1,728.9 356.2,725.6 483.9,613.7 289.0,773.1 288.5,777.0 335.5,740.2 334.0,744.5 326.2,750.7 336.4,740.8 308.1,760.3 309.4,761.6 385.8,704.7 305.4,767.2 306.8,763.0 327.4,746.0 324.7,750.1 372.1,715.7 301.7,771.0 295.6,766.5 290.6,777.1 421.6,679.6 303.8,762.2 294.4,767.6 329.1,748.4 378.0,721.4 384.2,715.7 398.5,700.1 299.5,770.7 294.3,770.1 300.9,760.3 294.8,768.5 434.4,668.7 301.7,761.8 300.0,767.9 333.1,741.1 314.1,756.5 315.7,763.2 429.8,665.8 323.8,744.9 327.6,745.7 326.9,747.0 299.1,768.8 293.4,772.8 306.4,759.8 579.9,556.8 335.6,744.3 304.5,761.6 337.1,737.7 289.2,769.3 301.3,768.4 307.3,766.9 302.9,761.8 620.2,533.3 310.2,761.8 335.5,743.2 294.8,765.1 301.8,766.0 360.2,728.9 459.9,648.4 314.8,752.7 404.3,700.1 410.6,692.9 305.5,760.2 290.5,773.0 289.4,777.4 333.3,744.7 326.2,749.0 635.7,518.8 475.3,640.0 321.2,747.7 381.0,706.6 299.8,763.8 358.2,725.4 310.6,762.0 294.9,769.6 454.4,658.1 291.1,771.8 324.7,751.4 318.4,755.7 352.6,730.6 423.9,681.1 287.0,771.3 350.7,737.0 341.2,737.2 320.3,757.7 318.2,751.8 287.4,776.1 366.9,717.9 319.9,752.1 293.4,770.4 298.2,767.8 341.3,736.6 465.6,641.5 289.4,775.6 477.2,636.7 310.9,760.7 303.1,767.7 341.1,740.2 578.6,543.2 319.2,759.1 322.4,746.1 299.0,769.7 374.2,710.4 315.4,756.8 315.4,757.4 422.1,674.0 323.8,745.1 300.5,767.4 305.2,764.0 288.2,776.6 341.4,730.2 347.8,728.5 361.0,718.4 321.9,752.1 308.4,767.9 306.0,761.7 375.6,720.4 298.7,770.1 387.7,698.4 325.8,751.5 412.0,688.4 502.5,629.6 288.6,772.4 351.3,728.8 292.8,773.4 302.1,764.7 537.6,597.7 287.4,778.3 309.1,760.5 387.2,699.2 459.3,648.8 346.7,738.7 288.6,776.2 324.8,746.4 294.7,772.6 310.9,759.1 291.5,771.4 334.2,745.3 315.6,756.5 340.4,745.4 360.4,726.1 298.8,768.0 456.9,646.6 298.8,763.9 293.1,773.3 376.1,709.7 290.7,773.7 333.1,747.0 323.5,753.9 289.3,774.4 328.2,747.8 418.0,684.3 294.3,762.2 360.6,723.6 335.8,739.7 366.3,720.3 380.7,695.2 346.0,743.2 294.9,770.0 324.4,746.4 418.8,679.9 470.8,646.0 389.8,693.9 314.9,755.0 364.8,721.5 423.6,677.4 447.5,659.4 352.8,728.8 304.9,769.7 319.8,753.3 296.1,771.8 292.9,770.4 449.2,654.6 300.6,770.4 289.5,769.9 350.4,728.2 329.8,749.9 315.7,760.1 300.2,769.4 314.5,756.3 289.3,770.3 526.0,601.6 368.6,715.3 311.6,759.6 310.7,760.3 314.4,758.0 310.3,761.5 303.7,759.2 292.9,768.8 290.0,774.8 297.1,765.2 289.4,768.2 298.9,766.6 360.2,722.6 299.8,769.1 320.9,752.6 297.4,768.3 398.9,688.1 389.5,706.4 306.3,768.5 287.4,777.0 288.3,773.7 299.7,774.0 372.2,715.7 345.6,737.9 300.7,770.5 301.5,765.9 303.6,761.2 295.5,774.6 572.6,555.8 373.5,714.6 492.2,618.8 388.4,702.7 297.2,771.2 418.2,675.3 304.3,763.2 298.8,771.4 358.1,733.7 324.3,753.1 293.5,770.9 322.0,749.6 318.5,756.7 359.4,726.1 325.8,755.9 317.0,757.3 321.2,752.5 343.5,738.7 305.0,764.5 446.5,664.6 289.6,776.9 335.8,741.2 308.5,766.8 324.5,750.5 370.1,719.0 443.7,663.9 319.3,757.0 416.0,688.9 341.0,740.5 303.6,769.2 338.9,740.8 313.6,760.0 489.8,632.8 355.6,727.3 406.4,684.1 319.6,751.4 329.2,748.2 352.4,730.0 288.2,778.3 299.2,768.8 399.8,690.9 342.8,734.2 411.7,678.2 424.3,684.1 287.1,770.9 288.8,773.5 315.4,751.8 366.9,719.0 307.6,758.4 293.3,771.9 311.5,763.3 289.8,773.1 298.0,770.4 291.3,773.3 651.8,494.2 305.3,761.5 357.9,723.1 298.9,765.1 300.2,772.4 328.3,744.0 360.7,727.2 322.2,752.0 337.2,742.8 356.1,731.9 296.3,767.1 302.8,769.0 369.6,719.5 310.7,755.5 313.6,765.7 418.0,689.7 287.0,772.9 422.9,679.2 403.6,687.4 293.7,771.6 449.3,659.8 425.6,671.0 320.2,756.1 392.0,702.9 334.1,742.8 352.1,734.6 310.9,764.9 303.2,770.8 288.0,772.3 297.7,762.9 348.2,728.5 339.2,742.2 318.5,756.6 307.0,766.1 607.5,531.9 299.2,764.7 356.4,727.2 429.8,671.8 320.4,761.4 336.3,740.8 312.2,763.2 287.5,776.3 302.7,764.6 371.5,715.0 311.9,757.0 311.3,754.8 304.4,772.1 418.5,688.6 319.5,748.6 287.7,773.9 305.9,765.9 336.9,742.5 538.7,585.6 312.7,755.4 292.0,773.7 301.1,766.8 288.2,779.2 324.1,745.9 503.2,611.8 302.7,767.2 338.9,745.0 499.6,617.8 442.2,657.0 287.2,768.4 298.5,762.2 323.7,752.4 354.7,729.7 307.5,765.6 375.2,710.5 320.9,755.6 341.3,735.9 398.4,693.5 317.5,754.0 302.1,769.2 302.3,762.2 322.9,752.3 290.7,777.2 292.9,772.1 299.0,767.4 501.3,615.7 348.7,728.8 391.9,694.1 395.5,685.9 362.3,722.7 444.3,653.2 310.7,768.2 300.1,761.2 288.6,774.8 512.1,598.9 335.0,743.6 318.6,752.8 392.8,696.2 309.5,762.9 324.0,752.8 310.5,768.3 384.7,702.7 311.4,760.1 300.8,767.5 303.7,760.9 293.7,770.2 321.5,751.8 366.2,727.6 298.0,768.1 349.5,733.0 641.4,498.4 399.1,697.1 392.9,705.3 401.4,694.0 346.1,727.1 288.9,777.2 308.6,757.2 297.0,769.8 382.8,716.5 304.1,762.6 308.8,753.5 294.5,769.4 375.4,717.3 364.8,721.3 312.6,761.7 356.0,715.0 302.1,764.1 421.4,690.8 322.7,748.9 323.7,749.5 333.8,747.4 417.2,684.2 330.8,746.2 330.6,739.9 385.4,707.4 375.3,715.9 316.8,752.5 327.1,750.9 306.6,766.4 386.0,705.0 290.9,770.6 291.1,772.6 505.1,615.6 623.2,508.9 325.4,745.0 481.2,642.2 320.4,757.3 312.2,762.1 420.2,679.7 364.5,719.8 514.1,606.6 290.8,773.0 349.7,729.9 299.8,771.6 346.7,742.5 317.7,754.2 358.9,719.5 426.6,672.6 302.7,766.9 521.8,595.7 399.4,695.9 288.0,779.1 414.3,685.1 452.1,649.6 289.2,773.2 318.0,752.7 630.1,518.1 291.6,770.9 355.9,721.1 300.3,768.1 333.9,745.3 356.0,721.8 359.2,724.1 347.7,737.8 296.0,771.2 331.8,740.4 297.1,767.9 292.5,766.2 309.5,758.7 305.6,762.7 395.0,692.3 295.9,771.8 488.2,618.9 300.1,767.5 372.5,715.6 318.1,753.5 375.5,714.4 304.4,768.1 478.0,639.8 331.6,743.4 296.1,768.8 424.9,674.4 311.1,757.3 364.4,724.4 305.7,764.8 346.2,727.9 360.7,727.3 305.1,759.7 306.1,764.1 300.3,765.4 332.8,743.4 317.2,756.3 322.5,751.4 295.2,767.2 294.5,773.0 400.6,698.2 366.4,715.3 330.2,747.6 329.1,747.6 322.1,752.7 288.0,776.3 520.6,613.0 330.2,746.6 413.7,685.8 326.5,753.6 405.1,692.8 356.6,725.4 300.4,761.4 300.6,768.6 372.2,708.6 379.1,711.6 293.1,770.2 460.7,648.9 301.3,764.0 335.5,741.7 310.4,761.5 461.2,656.6 291.6,769.5 289.6,778.6 287.9,776.9 366.4,711.3 293.5,770.6 377.1,710.6 293.2,771.2 339.5,738.3 437.6,667.2 310.1,759.3 305.0,764.5 331.2,746.7 342.7,735.0 325.5,747.5 405.8,687.4 320.2,750.1 295.8,764.0 342.9,730.1 298.3,767.9 328.4,751.4 502.1,607.4 360.7,722.8 300.7,764.2 543.0,583.9 326.6,745.9 437.3,671.7 327.1,747.9 313.6,762.4 288.1,768.5 334.3,744.0 304.3,771.1 298.9,763.7 363.1,717.3 313.6,753.3 320.0,757.2 317.4,753.9 548.3,567.4 297.5,769.3 491.5,620.6 299.8,767.9 293.6,772.2 336.8,736.1 301.4,768.7 358.4,724.7 302.1,763.9 304.9,763.7 300.1,764.3 333.0,751.0 292.1,768.6 296.2,773.3 387.5,703.9 302.9,766.3 395.9,694.2 326.4,749.6 320.5,754.4 333.1,741.5 290.7,766.6 354.0,730.6 334.5,745.2 345.5,736.8 308.2,765.6 298.0,772.2 356.1,728.5 343.8,733.2 471.5,642.0 337.4,743.7 295.5,770.3 302.1,768.3 405.5,675.4 442.1,652.7 301.9,765.8 325.0,755.7 288.0,776.6 294.4,773.6 380.9,712.1 301.5,773.1 291.4,774.3 366.5,721.4 322.2,754.2 300.1,771.2 296.7,768.1 298.5,770.8 335.4,750.4 341.6,741.4 318.3,751.9 293.7,767.5 346.2,738.5 310.9,760.4 342.5,734.9 287.1,772.7 318.7,755.9 347.8,731.8 343.7,737.7 420.5,687.9 314.7,754.1 350.1,731.5 287.6,773.9 422.8,677.5 345.2,738.3 294.6,772.2 386.1,702.6 319.9,757.8 445.7,650.1 371.4,705.2 324.8,757.9 301.7,763.1 321.0,754.3 446.1,655.2 356.1,726.0 296.2,770.2 548.9,570.0 361.5,722.3 296.8,764.5 316.1,755.1 445.3,667.7 344.3,736.2 301.0,766.5 304.9,765.8 348.1,737.5 296.0,763.5 344.0,736.0 316.6,755.9 368.5,724.4 298.7,766.2 312.2,759.3 546.4,570.7 318.3,749.0 290.8,775.1 345.9,737.1 332.3,740.6 532.0,583.2 357.4,724.4 352.5,726.5 381.5,709.0 287.9,775.0 305.3,763.6 350.1,739.5 293.6,768.9 293.8,768.7 291.9,775.2 301.5,767.9 360.2,722.3 306.8,760.2 362.8,721.5 287.4,776.7 330.2,744.7 375.9,711.2 324.6,753.6 325.7,750.5 411.4,686.9 570.4,554.0 295.2,774.4 347.7,736.1 373.3,715.5 289.9,773.5 296.2,762.1 515.9,605.5 395.0,692.2 380.8,704.5 290.4,769.3 330.0,740.3 300.6,764.9 289.8,776.7 450.2,657.5 300.9,761.8 313.1,751.2 435.2,659.7 359.6,714.2 298.1,766.2 301.2,769.0 489.7,624.0 341.1,736.8 315.6,753.4 364.5,716.7 326.4,751.9 310.5,756.2 525.6,599.9 290.0,772.7 293.7,769.1 334.4,740.5 293.8,769.5 346.8,735.8 363.2,721.9 318.6,751.3 364.4,722.4 289.7,777.4 291.5,780.5 355.9,726.8 293.7,774.0 434.1,667.7 363.9,722.6 332.0,746.2 297.0,766.1 315.0,759.8 294.7,774.3 296.2,769.2 315.0,754.2 312.6,761.6 331.3,743.6 294.3,770.8 325.4,748.0 288.9,780.1 287.8,774.7 330.1,747.2 312.7,757.8 391.2,703.6 287.6,775.5 299.0,774.8 319.5,753.9 338.8,734.7 303.8,764.1 306.9,762.4 292.0,771.3 292.6,767.6 320.3,755.5 306.0,768.0 289.8,777.2 294.9,772.6 346.8,733.4 538.0,579.9 453.3,657.6 309.2,764.3 344.2,732.3 300.7,763.3 320.2,755.9 302.1,763.4 310.8,760.5 353.7,730.5 336.6,741.9 334.4,746.1 556.9,581.8 639.8,517.2 304.3,766.9 314.4,756.4 351.5,728.7 287.2,772.8 376.1,715.3 303.7,765.0 296.5,774.1 330.8,749.3 423.3,670.5 386.5,704.6 464.3,633.0 296.0,767.6 323.1,753.0 379.9,712.1 420.6,689.5 287.9,770.9 688.7,461.1 346.7,719.9 442.1,649.9 293.1,770.7 365.0,724.6 290.1,779.1 535.4,590.6 290.7,773.4 467.9,651.1 356.6,723.6 350.9,726.9 359.4,728.4 336.1,742.7 634.2,521.6 299.7,764.2 333.2,747.2 314.6,761.1 320.2,760.1 326.7,752.4 522.3,611.2 529.9,585.2 324.9,747.9 486.2,635.8 441.4,667.6 369.7,717.0 433.9,667.5 367.4,723.0 304.6,759.9 375.0,709.7 306.5,756.3 509.7,628.4 323.0,756.9 344.5,732.8 688.2,467.2 354.4,729.2 331.5,749.4 344.0,734.0 293.8,772.9 316.4,751.5 398.3,689.5 594.9,533.9 335.9,748.8 330.0,745.3 330.2,740.1 391.3,691.2 369.3,711.3 289.2,770.6 294.1,773.5 613.7,515.7 329.8,740.0 309.1,759.7 376.5,709.1 366.5,719.6 397.5,694.7 341.7,738.8 306.6,761.2 321.6,753.0 338.0,746.1 329.9,748.7 288.8,773.2 483.0,628.7 321.9,747.2 308.8,758.1 317.2,751.0 302.5,765.7 298.4,764.8 437.5,669.5 437.5,669.2 296.3,766.8 433.5,667.0 314.7,759.9 350.7,727.0 336.9,735.8 304.3,761.9 431.9,662.1 311.3,756.5 316.0,753.1 290.1,776.2 308.0,768.1 408.3,689.3 309.6,769.0 310.0,762.3 350.2,735.7 384.4,705.0 291.9,774.7 465.3,643.9 302.4,768.6 338.6,741.0 297.9,763.7 385.5,709.7 373.2,721.9 321.7,747.5 290.4,771.0 298.1,768.6 310.9,761.2 297.5,767.9 327.8,749.4 350.1,727.5 356.6,727.7 300.3,769.1 553.7,568.4 442.4,666.5 398.1,692.4 321.8,756.3 293.1,773.5 297.8,768.1 315.3,759.2 344.8,731.5 350.1,731.7 458.8,647.7 319.8,760.4 318.5,752.7 309.5,760.6 338.8,747.2 333.8,742.7 290.0,772.7 525.7,601.3 295.2,773.9 302.6,770.2 303.3,765.0 313.5,758.0 315.1,757.7 317.6,748.4 329.5,746.9 288.0,774.5 725.2,451.9 290.8,772.2 333.6,740.4 316.8,758.8 374.0,703.8 291.4,774.6 319.1,753.7 315.2,758.1 323.5,752.5 314.4,765.6 306.5,760.2 320.6,760.7 300.1,763.1 400.1,699.5 308.5,763.3 300.0,759.1 313.1,761.6 287.9,775.8 527.2,603.8 472.8,639.3 375.6,710.3 552.6,562.1 326.0,757.5 718.6,440.6 301.9,763.2 762.9,416.3 287.1,775.3 315.3,750.5 301.6,765.0 304.3,757.5 304.0,768.7 458.8,653.4 287.2,775.4 358.6,729.3 326.0,747.1 305.2,767.6 320.5,752.1 293.1,776.5 480.6,637.6 308.9,760.5 503.3,610.3 306.3,766.3 544.5,591.2 298.8,766.2 306.4,766.4 434.8,665.2 297.4,764.7 308.2,759.6 342.6,742.9 299.2,763.7 309.1,757.4 335.1,744.8 316.2,757.6 306.2,758.4 325.0,749.0 315.0,753.3 295.8,768.2 324.0,741.0 287.6,770.8 332.5,744.0 369.7,716.0 445.8,660.8 328.8,743.1 316.8,759.8 308.3,758.7 308.2,763.6 299.4,773.6 376.2,707.0 299.3,766.2 330.5,745.0 298.6,769.1 318.2,754.8 382.7,709.7 290.0,769.4 291.8,768.1 321.2,752.8 344.6,735.4 321.5,751.4 360.8,719.3 490.4,622.7 290.7,774.6 313.6,758.7 324.0,749.7 392.7,699.8 310.8,761.2 367.8,712.4 327.0,747.1 291.0,770.0 321.6,755.3 382.7,702.6 287.0,775.4 289.7,774.6 322.6,754.0 344.9,737.6 286.9,777.0 290.4,772.9 341.5,737.9 291.5,766.2 312.0,757.4 311.5,758.5 312.4,759.0 398.8,698.5 307.9,764.5 371.8,713.2 300.2,772.0 308.2,756.2 361.2,716.1 288.5,779.2 288.8,770.5 367.8,712.9 355.5,722.4 295.0,765.0 319.6,756.4 328.4,749.1 315.8,754.2 324.6,750.0 330.5,751.0 310.5,757.3 288.1,771.5 291.1,773.5 319.7,752.3 297.2,765.8 435.3,678.9 345.7,736.6 313.3,761.0 324.1,751.0 414.6,689.2 644.5,512.3 301.4,765.5 329.1,740.5 287.4,779.1 388.9,694.0 346.8,729.8 330.2,742.5 300.0,762.8 324.0,752.1 356.0,722.0 294.7,775.3 386.6,707.5 312.6,757.4 331.8,742.2 310.5,764.6 311.5,765.6 318.5,753.0 368.7,715.8 300.6,764.4 302.4,765.8 364.0,726.3 290.9,769.3 290.4,770.8 320.0,752.8 335.8,733.9 309.2,760.1 314.2,752.3 370.3,716.5 349.2,741.4 312.7,762.4 388.5,714.1 313.0,759.0 333.7,739.2 471.1,650.0 358.3,721.9 300.9,767.4 301.1,763.4 348.7,730.6 336.4,745.1 331.7,742.8 298.9,767.9 288.9,771.4 319.7,746.9 377.2,711.6 297.8,763.2 384.5,705.7 297.6,766.6 388.3,701.4 301.1,768.6 295.8,769.3 309.3,762.3 295.4,768.2 302.9,768.6 297.2,771.9 325.7,746.3 290.0,771.8 306.9,760.6 297.2,767.0 304.4,760.8 366.3,716.8 292.6,768.9 288.9,776.6 294.3,769.0 349.5,734.4 297.5,772.6 296.6,770.0 310.8,757.5 329.6,746.4 351.6,722.7 294.6,768.3 306.5,761.3 314.1,757.0 315.1,761.3 290.3,773.1 312.5,758.4 309.1,755.0 323.0,753.9 365.6,719.8 343.7,738.7 672.5,479.5 364.9,727.4 349.4,730.4 299.3,767.4 607.9,529.0 335.4,732.5 470.4,640.0 303.9,762.9 351.2,730.3 287.0,771.9 371.9,704.5 298.2,762.6 378.7,707.9 325.2,754.0 292.0,770.8 457.0,660.1 395.8,701.1 317.8,756.9 304.7,767.6 327.9,747.8 304.1,765.5 289.1,776.4 363.1,719.7 289.9,775.9 384.4,699.0 291.5,770.5 304.3,765.6 453.8,649.8 346.2,736.5 308.9,757.6 328.4,753.0 300.2,765.4 314.3,750.8 341.6,746.0 302.5,757.5 287.8,781.0 341.8,745.9 321.1,759.8 341.4,742.1 311.0,761.6 383.6,715.0 316.8,756.2 288.5,771.9 288.2,777.1 327.7,747.6 328.8,745.0 317.1,749.5 368.5,717.6 377.9,706.8 327.5,746.4 289.0,774.0 351.5,731.4 308.6,760.0 341.3,735.1 433.6,675.7 292.1,773.4 360.1,722.2 289.9,772.6 539.5,581.8 309.7,755.0 393.8,692.9 400.2,699.9 359.6,717.2 297.5,771.0 308.0,764.5 294.5,767.1 446.1,660.6 293.7,776.7 332.8,741.9 513.6,602.8 328.3,745.6 292.0,776.8 305.2,761.0 362.6,724.4 296.5,766.4 533.5,598.3 308.3,764.8 294.8,776.9 343.5,739.2 585.3,539.6 433.6,666.8 348.5,734.7 294.8,766.0 306.8,761.9 290.5,770.7 311.7,758.0 322.1,752.3 346.8,733.1 365.1,717.9 308.4,757.6 303.5,762.9 303.7,761.8 399.0,700.1 368.3,725.9 299.3,766.6 348.8,731.5 310.2,758.7 473.4,644.0 362.0,721.6 294.1,774.4 315.8,756.1 288.6,774.7 305.3,764.3 293.2,770.5 306.5,764.5 313.3,758.2 288.7,772.2 294.4,765.8 454.3,649.8 359.6,720.6 291.7,770.6 304.3,758.8 332.3,736.9 551.8,578.5 508.1,605.5 377.1,709.4 290.4,768.2 499.6,634.0 362.0,725.1 339.7,745.7 292.0,767.8 287.4,774.4 305.6,761.2 300.3,765.6 309.4,759.8 288.8,773.1 326.6,750.3 358.5,733.6 334.1,742.1 328.6,747.6 408.9,689.9 343.3,738.7 362.4,716.2 287.1,777.8 298.0,771.9 320.4,750.9 491.1,632.5 330.5,749.6 322.9,755.1 332.2,743.3 297.9,766.7 296.3,764.9 342.2,737.3 356.7,727.3 349.4,734.2 292.9,768.1 291.8,774.4 296.8,771.9 473.6,638.8 452.7,653.7 293.4,770.1 298.1,770.5 304.5,758.4 300.1,760.8 308.2,765.5 291.2,772.4 287.0,778.8 300.5,767.8 343.2,741.2 394.9,699.0 288.9,773.5 418.9,678.4 481.9,639.9 347.2,741.4 332.7,751.1 316.6,751.6 399.7,694.9 311.8,758.9 319.9,748.5 649.8,506.5 321.5,751.0 292.3,774.4 343.4,735.6 314.1,764.0 299.1,769.1 331.2,745.7 316.7,755.4 459.8,657.1 330.9,746.6 349.7,727.9 290.7,773.5 298.6,765.3 353.7,725.8 339.1,738.6 288.5,775.8 298.7,767.8 413.7,688.5 393.8,694.9 417.6,678.5 310.4,756.1 304.4,756.8 307.2,759.5 327.0,746.6 358.0,724.5 316.1,753.2 298.8,763.4 290.5,774.2 397.3,702.3 459.4,657.0 303.7,761.4 291.8,771.0 420.1,675.5 466.6,653.6 289.5,775.8 399.1,702.5 293.6,775.0 304.0,766.5 293.3,773.8 289.0,769.1 315.9,760.7 299.3,769.7 495.6,625.4 512.6,606.4 290.7,770.8 315.0,759.7 294.8,776.0 385.7,706.6 349.7,729.9 358.6,729.5 299.8,764.1 324.3,754.0 382.9,709.7 337.6,742.4 455.4,639.6 538.0,579.9 365.1,718.4 574.4,563.4 365.9,724.4 295.6,772.3 499.6,606.0 314.2,753.0 312.3,758.4 301.2,768.8 331.8,751.4 401.9,694.7 298.5,766.5 548.7,572.5 291.1,771.7 317.5,757.7 345.7,732.5 294.6,771.2 295.2,767.4 290.2,772.7 359.9,720.5 299.0,766.8 341.8,739.3 329.6,742.5 294.7,774.0 318.2,752.4 291.1,774.4 309.8,761.8 356.0,725.7 304.7,765.8 326.2,752.8 301.4,769.4 337.8,744.8 309.4,759.8 313.9,758.0 538.5,596.5 304.4,763.9 294.2,767.8 305.1,767.7 345.4,738.3 308.7,758.2 396.4,697.3 357.7,720.9 293.3,772.6 330.5,751.2 352.4,729.7 336.2,741.9 299.6,766.5 304.0,767.4 294.2,772.4 317.0,748.5 301.9,767.8 313.9,752.3 300.8,770.4 295.9,769.1 294.5,769.5 523.8,591.5 393.5,698.6 307.5,764.4 619.1,521.6 336.9,746.8 337.3,749.7 369.9,723.3 300.6,761.6 308.0,759.0 383.0,697.5 434.0,665.1 371.1,722.1 299.1,771.1 290.6,772.2 589.6,550.7 353.3,732.8 369.8,721.4 318.6,757.1 300.5,773.2 297.1,767.7 422.8,680.5 380.9,702.0 352.7,722.5 299.1,768.0 385.0,699.9 392.7,693.6 322.2,751.2 290.9,773.6 324.2,746.1 385.4,701.5 336.2,742.4 380.1,711.1 315.6,756.5 289.6,770.9 329.2,744.5 318.3,756.7 291.9,772.9 483.5,628.6 308.3,763.0 641.8,505.8 312.0,762.3 305.1,766.5 360.9,721.9 358.9,723.6 389.5,703.1 339.7,730.8 420.1,679.4 288.1,772.6 398.6,693.3 288.6,776.0 323.6,748.6 305.6,759.9 306.7,762.7 309.7,758.9 502.2,595.5 308.3,764.6 291.0,773.6 326.2,747.2 393.9,698.2 448.9,661.4 298.7,769.6 289.4,774.7 387.5,704.4 374.0,713.0 294.2,765.8 363.4,720.2 327.1,749.8 329.7,744.2 296.5,767.3 363.2,726.0 320.5,755.2 455.6,658.0 320.6,751.9 301.8,763.2 340.8,739.1 296.2,765.6 323.3,753.1 342.8,737.9 313.4,758.3 335.5,741.6 288.5,769.3 355.2,725.0 298.6,767.8 287.0,771.8 292.8,776.0 463.8,652.2 376.1,703.8 371.0,709.8 294.4,767.3 293.4,771.8 320.1,749.7 297.2,768.9 381.7,712.5 438.5,665.2 287.8,775.8 295.3,773.5 441.4,665.6 313.8,760.0 356.7,724.1 310.2,757.0 412.6,678.1 306.1,759.5 305.1,767.3 295.0,768.5 314.5,754.5 308.3,760.2 422.4,681.9 310.6,768.2 304.3,763.8 384.2,709.5 347.5,729.6 307.4,767.1 303.2,763.3 288.4,776.0 410.3,692.9 343.2,738.2 333.5,744.3 386.1,700.1 623.0,513.5 289.8,769.8 300.5,764.4 380.0,710.9 412.5,686.5 297.0,768.6 335.4,743.6 290.2,778.7 307.9,768.7 312.5,756.1 349.7,731.1 332.2,737.6 333.1,745.9 301.7,762.7 306.4,762.4 400.9,690.5 367.1,718.1 322.3,748.1 422.2,674.0 289.4,775.5 357.7,726.0 341.3,738.7 295.2,770.0 354.1,727.3 348.0,734.5 321.6,754.3 289.2,774.2 386.3,712.6 368.2,715.9 302.6,764.3 308.4,769.8 382.5,712.1 330.9,745.8 372.6,724.4 312.9,756.9 428.2,666.7 355.4,725.3 352.8,725.4 325.0,750.3 310.9,757.0 288.8,772.2 336.7,741.8 333.9,743.1 297.5,774.2 316.1,760.8 298.8,764.7 404.7,684.7 351.1,733.8 293.4,776.3 302.5,772.1 296.6,765.6 307.1,761.3 372.8,705.6 635.4,500.7 512.3,593.2 327.1,745.6 294.7,772.4 354.8,729.1 485.9,620.4 417.5,688.2 287.1,773.7 296.5,770.8 329.8,742.0 360.2,726.0 350.5,733.9 325.0,746.7 323.1,759.6 462.7,639.2 328.5,746.5 394.9,700.6 307.8,759.7 331.4,747.1 395.6,693.9 373.5,713.2 291.7,770.1 303.6,768.0 300.7,768.9 312.2,752.8 350.7,729.6 300.4,767.5 349.6,735.2 295.7,771.6 331.1,744.8 300.9,770.6 345.1,735.2 418.3,681.3 340.3,746.1 309.9,760.5 304.6,760.2 330.2,747.8 325.7,750.3 328.4,746.7 393.6,701.6 448.4,667.4 323.9,750.7 352.7,731.2 357.0,728.8 334.6,737.9 461.5,646.1 342.4,739.9 633.8,516.6 372.5,707.3 438.1,660.1 374.1,721.4 413.7,680.1 321.6,754.1 296.1,771.6 585.2,539.6 313.1,755.9 302.9,768.1 363.9,721.0 320.1,751.3 311.8,759.6 307.5,760.8 311.7,761.6 308.5,757.2 345.2,729.3 317.4,757.5 348.4,738.2 389.5,704.0 477.8,628.5 399.3,693.2 338.7,740.0 378.4,709.1 293.9,775.9 313.0,758.5 360.6,723.8 293.4,773.5 290.5,770.8 315.4,758.9 319.2,756.2 305.7,761.2 305.7,761.3 308.8,761.1 484.2,627.6 303.8,763.5 288.2,773.8 287.1,778.6 435.1,662.3 295.7,763.5 304.9,762.8 363.3,722.5 288.5,770.9 296.2,767.7 322.9,754.1 474.1,637.6 317.9,756.9 428.3,666.5 291.5,776.9 291.9,768.4 311.8,761.5 346.0,733.2 315.0,758.5 307.9,760.7 288.4,771.0 311.9,757.0 293.9,775.0 340.0,739.8 336.3,741.2 421.4,667.1 327.2,750.3 288.8,775.7 296.5,772.0 324.5,750.6 330.7,743.5 302.9,768.6 325.9,744.5 339.6,734.4 319.6,751.0 313.1,756.2 297.9,760.6 304.3,767.9 293.0,773.5 300.0,760.2 291.4,776.6 287.7,774.2 295.3,770.8 292.4,775.1 308.0,765.0 300.2,767.8 391.5,698.7 395.6,694.5 323.4,749.1 292.0,772.1 287.7,775.0 359.8,721.4 296.7,771.4 319.8,758.2 380.0,704.8 317.9,762.1 287.3,773.6 443.6,653.1 583.2,558.5 293.9,778.3 295.9,772.6 304.4,763.3 296.0,772.9 363.1,717.0 360.2,720.9 294.9,773.7 301.7,763.6 502.4,624.9 297.5,770.3 328.5,746.8 305.4,759.3 311.6,756.7 335.4,736.8 292.6,776.7 313.3,747.3 291.7,775.4 294.0,770.2 364.0,714.0 299.2,766.1 299.7,763.5 306.8,766.8 395.6,702.8 441.9,664.6 315.5,758.6 326.7,748.4 303.5,766.0 298.1,772.2 304.1,763.8 349.7,737.3 293.0,774.0 288.8,773.4 343.0,740.1 360.5,723.6 293.3,769.4 348.6,726.5 338.8,735.3 345.9,731.0 487.5,623.3 300.8,770.9 290.5,776.1 293.7,774.1 327.4,750.3 363.0,722.2 352.2,733.6 292.2,773.7 295.8,766.3 334.4,744.7 297.3,775.3 350.3,732.3 300.2,767.6 297.3,770.1 308.7,754.2 332.4,741.3 336.5,735.3 292.8,773.9 293.5,769.0 373.0,712.9 378.7,710.2 317.9,757.9 291.4,772.1 300.8,773.1 345.6,731.0 343.2,725.8 377.7,703.6 301.5,773.2 295.7,769.4 320.1,756.1 327.4,750.6 418.7,681.2 308.1,757.9 356.0,723.9 428.7,676.9 377.3,708.3 303.6,764.5 287.0,769.2 294.7,775.4 305.3,764.2 314.3,760.8 325.6,749.8 328.0,755.1 482.2,637.0 352.5,730.0 287.1,777.5 331.8,748.3 373.3,714.5 306.1,765.2 357.9,729.4 351.1,731.6 438.9,664.3 421.9,675.5 343.9,742.8 296.1,771.2 351.6,725.5 322.4,756.9 294.5,770.4 297.9,770.3 417.4,674.8 343.2,731.9 330.6,745.1 333.4,745.8 311.2,765.0 309.9,762.4 287.8,777.8 300.2,767.0 309.5,755.8 296.7,763.3 314.9,756.1 333.4,743.5 290.3,774.0 374.4,711.8 354.8,728.7 347.5,726.5 370.4,719.5 313.4,757.8 322.9,753.7 490.5,618.0 293.5,765.7 365.9,716.6 301.8,765.5 296.1,769.6 359.5,721.8 335.7,743.9 293.9,765.9 299.8,761.7 552.4,566.3 287.6,772.7 298.0,769.8 297.6,762.9 291.4,777.1 287.4,777.6 557.0,554.3 298.0,769.9 490.0,630.0 311.2,765.1 502.6,607.7 652.2,488.2 344.8,734.5 295.7,775.1 313.6,758.2 378.6,713.5 287.6,772.3 319.3,749.0 367.3,716.3 306.8,761.2 348.3,726.5 372.4,706.8 538.2,593.8 290.8,771.6 371.0,720.7 379.1,712.9 287.7,771.5 355.0,732.1 329.9,746.9 436.2,659.0 303.8,763.2 609.7,541.3 297.0,769.4 345.3,735.6 287.2,778.2 309.5,753.9 387.1,703.0 330.4,745.8 293.8,767.8 358.6,724.0 314.7,761.4 330.6,744.3 567.1,559.8 330.5,742.1 425.5,669.3 378.1,707.6 302.5,766.0 299.0,767.5 311.7,752.7 289.2,779.1 319.2,750.0 319.4,752.2 306.8,764.7 290.4,773.2 365.1,717.1 287.0,779.7 413.2,682.5 320.1,751.2 372.2,718.3 322.3,751.2 366.3,712.7 315.5,755.8 424.4,679.6 288.8,779.2 308.2,767.3 301.6,762.8 361.0,723.6 401.6,692.6 343.3,736.9 356.0,729.5 511.2,595.7 313.9,755.2 336.0,736.2 748.2,430.2 322.7,749.3 288.2,772.5 348.3,736.7 349.3,735.0 364.2,723.8 292.4,768.7 368.7,715.9 303.4,767.1 295.8,767.5 300.3,768.9 314.7,756.5 473.2,637.7 376.8,714.8 323.5,747.6 326.1,748.8 345.4,743.3 364.5,720.9 364.1,714.0 287.4,772.3 318.7,753.4 324.0,754.6 287.9,774.8 304.1,767.9 312.2,763.7 506.4,608.7 298.5,767.1 394.6,706.3 297.8,770.1 317.0,755.3 312.2,763.9 368.8,712.1 308.2,763.9 307.6,760.6 310.7,757.6 299.9,770.1 328.9,745.8 480.7,630.6 291.4,771.3 294.1,772.1 295.0,767.2 320.1,750.8 461.5,637.0 291.9,768.9 355.6,732.3 316.2,757.8 303.8,763.1 288.2,771.5 368.6,720.1 377.2,710.5 414.7,680.5 305.9,763.4 300.3,763.6 335.1,745.8 407.1,685.3 303.9,767.0 330.3,744.5 309.4,763.7 426.4,674.9 309.3,757.7 307.4,765.1 372.4,713.9 358.1,722.3 634.1,511.6 291.0,773.7 299.4,767.3 381.6,711.3 309.2,758.3 467.6,637.1 490.6,612.2 345.9,733.1 291.0,769.4 349.5,733.4 306.2,761.3 291.3,775.5 557.8,566.6 299.6,768.3 316.5,752.5 303.5,771.2 296.3,769.9 318.1,755.6 296.4,767.2 470.9,643.5 319.5,755.0 289.5,769.9 333.6,745.7 299.7,768.4 326.4,745.0 298.9,774.3 320.6,751.5 291.4,771.5 307.4,761.2 328.3,753.5 324.7,754.7 485.0,633.4 303.6,767.4 302.8,763.1 321.4,753.8 297.4,764.2 314.3,757.3 370.8,712.7 291.9,774.3 429.2,674.5 295.2,768.8 329.2,743.8 368.8,719.7 288.7,770.3 331.5,745.8 310.7,754.6 288.5,778.2 296.7,770.2 335.5,739.7 347.5,733.2 321.5,754.1 303.0,763.0 307.4,759.0 309.0,762.2 653.9,489.6 309.0,762.3 311.3,761.9 445.9,651.1 306.3,764.6 365.0,721.8 300.8,764.0 294.1,773.9 310.8,762.7 289.4,774.6 384.3,704.8 327.2,745.1 578.6,553.5 287.1,777.3 309.8,764.5 372.7,715.4 291.6,773.8 290.8,769.5 305.0,768.8 315.4,762.3 317.9,760.9 310.8,760.5 297.1,767.5 289.9,768.6 291.7,777.4 287.1,774.8 367.5,720.5 319.2,748.5 336.1,740.4 368.8,710.3 330.4,746.0 604.6,525.2 290.2,772.3 410.5,688.8 331.4,741.9 299.1,768.6 290.9,779.9 306.3,763.2 321.0,756.7 383.9,703.1 311.6,754.1 290.4,772.3 298.1,766.5 294.0,774.7 314.3,759.9 319.3,755.7 299.2,761.3 363.3,722.9 311.6,758.2 364.0,728.3 336.6,743.1 311.8,758.6 441.5,662.7 485.4,629.7 317.9,753.4 335.6,740.3 325.0,753.9 326.8,753.1 310.2,758.3 496.7,613.7 305.7,767.7 293.0,769.5 309.3,765.3 289.9,774.1 306.2,758.9 311.1,764.9 302.1,765.7 316.7,756.3 300.0,770.7 333.1,741.2 646.1,508.4 338.3,742.4 442.7,667.5 404.8,687.6 429.1,668.3 331.0,740.7 322.0,752.8 296.2,772.1 311.2,754.6 316.9,757.6 483.2,625.3 307.4,756.9 295.9,767.3 308.2,767.5 345.3,738.7 287.2,777.8 311.8,756.3 358.6,728.0 315.2,754.2 446.5,657.0 306.4,762.3 291.2,772.8 587.0,551.7 339.8,733.9 347.9,732.3 310.9,754.8 335.5,745.4 364.2,727.8 327.2,743.6 506.2,619.8 313.1,757.9 297.1,770.2 319.9,754.0 648.6,502.2 309.6,764.3 319.6,757.7 342.5,736.1 325.2,752.3 324.6,744.4 325.8,749.2 361.7,716.7 292.5,773.5 367.5,714.7 368.6,719.9 294.0,774.1 367.7,719.1 511.2,609.5 298.5,759.9 324.6,754.8 287.1,777.6 327.4,745.9 303.9,765.3 307.8,761.6 305.6,761.0 301.4,766.8 347.6,736.0 289.8,778.1 306.6,763.1 393.9,695.7 391.6,699.1 292.6,768.3 314.9,758.5 298.2,767.5 295.3,772.9 305.0,770.2 333.1,742.0 294.9,772.0 347.4,730.8 292.1,774.3 366.3,725.8 346.8,737.4 386.4,705.5 510.5,613.5 297.4,769.8 343.4,734.3 320.8,753.1 343.8,734.3 335.2,743.1 294.2,773.2 327.5,751.7 291.2,779.9 612.2,523.5 346.2,730.1 405.1,695.2 324.5,753.7 310.1,763.3 328.6,746.4 360.6,723.1 298.6,769.0 345.4,735.2 298.9,773.3 326.9,749.3 360.8,724.1 356.6,724.5 383.3,709.8 497.6,622.5 316.8,755.1 536.8,568.1 294.9,772.5 396.5,686.3 363.5,725.2 344.3,735.6 297.0,772.2 395.2,690.6 334.6,742.5 299.7,766.8 411.2,679.9 310.9,755.6 319.5,756.2 338.3,739.3 365.1,722.2 323.5,747.2 478.9,646.9 333.9,735.7 355.5,728.2 292.0,778.9 512.6,605.2 297.2,771.7 293.9,771.1 464.2,644.1 321.1,749.2 311.2,765.7 323.8,749.5 395.2,691.6 335.3,747.2 297.9,766.2 328.4,744.9 307.2,764.2 305.1,770.2 484.5,628.0 287.9,776.5 343.2,730.5 398.3,696.2 292.7,769.8 287.3,774.3 336.8,740.6 302.4,769.7 402.3,695.7 305.2,763.5 296.7,769.6 299.1,768.1 447.0,653.6 305.1,763.7 289.7,771.6 288.4,774.4 335.5,740.9 396.3,699.2 370.0,723.0 347.4,730.0 312.0,756.9 345.0,738.3 314.5,753.7 432.2,668.8 295.5,769.6 360.6,726.2 325.9,751.1 349.7,734.1 308.2,760.6 363.5,724.2 290.8,773.2 445.9,662.2 289.9,777.8 344.4,735.4 319.9,753.1 492.4,622.3 343.6,745.3 300.1,763.9 328.6,747.5 366.2,723.4 396.8,686.6 305.1,763.8 407.9,683.9 300.9,766.2 347.2,742.5 350.5,726.2 322.7,755.5 350.3,726.9 302.6,766.0 402.4,696.4 345.2,744.2 435.0,670.0 288.8,777.6 472.3,638.3 287.3,778.8 335.9,739.4 297.5,770.6 451.9,657.1 348.6,724.7 331.2,742.8 289.1,776.3 364.3,719.1 358.4,731.7 357.6,728.8 304.0,765.3 326.5,751.6 403.1,696.6 317.0,753.5 739.5,433.2 308.8,764.0 354.1,730.7 405.8,692.8 377.5,707.1 333.6,742.7 300.3,771.9 372.3,708.8 290.4,770.1 308.2,762.7 295.0,773.6 648.4,500.0 315.3,758.8 428.1,669.7 292.3,772.4 385.8,698.5 372.3,721.9 333.9,745.7 347.5,732.3 331.7,747.0 298.6,769.5 291.5,776.3 317.9,748.7 313.1,759.0 300.0,765.1 298.8,770.5 287.4,776.9 299.9,767.6 314.5,752.0 406.6,681.8 371.6,706.0 381.2,700.9 336.1,736.5 288.1,775.6 457.8,654.0 304.6,760.1 354.8,730.7 297.0,767.5 359.3,727.0 319.7,757.3 341.4,737.7 311.8,762.2 340.9,739.4 365.8,715.8 312.1,759.7 457.0,644.4 287.5,776.7 296.9,768.2 336.1,745.5 297.1,765.0 297.4,775.4 289.9,772.9 312.3,757.1 289.1,782.4 352.2,736.3 439.6,672.5 343.2,736.9 295.7,770.9 306.4,764.1 296.5,767.6 346.3,725.5 326.4,752.6 385.8,702.9 362.1,722.2 372.1,710.1 337.3,748.7 287.7,780.2 306.3,766.6 311.8,758.5 291.5,774.2 315.6,763.3 288.1,777.3 335.2,748.4 345.6,737.7 476.7,636.4 367.9,721.4 364.0,715.8 313.0,751.1 288.4,773.3 291.6,777.5 319.9,748.9 311.5,752.7 298.8,768.7 316.0,755.2 290.9,769.8 293.7,770.8 331.4,741.1 309.1,759.4 305.5,765.7 304.9,765.7 416.3,682.9 299.6,769.7 323.7,746.6 322.4,750.9 303.0,766.0 413.0,679.8 306.1,763.0 465.5,637.5 291.0,768.1 295.4,769.7 359.4,726.8 493.6,629.8 289.8,768.4 298.7,767.0 320.8,755.1 287.5,775.7 298.4,771.9 303.4,760.9 335.3,741.4 516.5,606.7 474.3,646.4 293.5,764.9 312.1,758.8 294.9,777.6 326.3,751.2 369.0,717.3 377.6,710.1 290.9,776.6 539.0,577.1 344.0,733.8 389.9,701.3 301.1,768.8 445.7,669.7 383.7,708.3 290.6,774.0 373.1,719.4 342.3,736.2 298.7,765.7 315.9,758.0 351.6,731.9 321.2,752.9 336.7,735.5 294.1,766.7 331.7,751.1 387.7,705.5 306.7,754.7 307.0,763.8 352.4,722.7 338.5,738.3 593.0,533.1 301.1,767.7 304.0,764.4 349.9,729.5 432.8,669.2 296.3,769.9 343.4,731.1 304.6,764.8 381.3,701.9 295.2,772.3 330.1,747.5 307.1,760.2 319.2,752.5 319.2,751.0 292.3,772.1 513.8,606.5 319.8,755.3 367.0,725.4 301.5,767.7 342.9,732.9 305.4,764.0 291.0,772.5 333.0,739.9 350.3,734.8 379.3,707.9 371.4,717.8 298.2,764.9 298.7,772.7 338.6,741.3 359.4,726.5 297.4,770.0 347.3,735.6 306.2,757.2 306.8,763.5 307.6,762.7 291.7,777.1 297.1,773.3 293.0,774.2 406.0,695.6 303.4,763.5 313.0,760.4 322.2,753.5 413.0,684.8 301.5,769.2 294.0,775.1 375.3,715.5 328.0,747.3 351.7,730.6 304.7,766.9 335.4,736.8 325.0,748.9 306.0,761.2 398.6,687.3 448.4,662.5 324.7,747.1 384.8,704.1 335.5,741.4 314.3,762.5 340.5,741.5 289.0,774.4 355.4,727.6 378.5,703.1 334.1,744.8 383.8,704.9 294.2,772.0 565.6,571.9 477.5,636.7 430.2,670.4 313.1,752.8 290.2,769.8 307.6,763.9 294.8,773.4 306.3,763.2 301.3,768.2 349.4,722.4 436.1,661.8 328.3,747.9 317.3,757.2 290.8,776.5 371.6,715.6 304.5,772.5 361.7,724.2 303.1,766.7 314.9,752.1 438.3,674.6 322.6,748.8 336.9,742.5 299.7,765.0 320.9,755.4 304.8,762.8 308.4,758.9 294.4,762.9 309.8,763.2 339.4,739.9 397.7,696.0 361.6,725.1 297.8,769.0 298.5,768.1 333.7,744.9 328.9,753.1 292.1,771.5 377.9,716.9 306.0,763.5 440.6,657.3 295.7,774.0 342.6,737.4 400.9,692.1 349.3,732.1 550.1,578.7 353.7,728.6 344.1,733.3 301.0,769.8 426.1,674.9 462.4,641.8 390.5,703.8 311.2,763.5 303.8,762.4 289.2,772.1 416.2,676.5 367.6,718.2 320.1,755.6 412.6,676.4 324.3,746.4 369.1,713.6 377.2,713.1 314.4,757.0 311.2,762.4 531.1,598.7 334.9,742.4 614.3,523.8 439.4,660.7 309.2,760.7 305.3,757.2 296.0,772.8 292.5,768.0 384.3,707.4 324.7,747.2 331.2,748.7 289.0,767.6 312.7,754.0 570.9,569.8 347.1,728.6 440.2,662.2 369.6,712.7 462.4,646.0 329.6,747.1 302.6,769.8 296.2,771.1 336.7,741.4 307.9,767.2 347.4,737.0 290.3,773.4 498.6,614.9 288.6,775.9 311.1,755.1 293.6,772.8 535.1,583.8 337.3,736.2 330.2,748.8 324.6,746.4 378.6,710.3 292.1,774.8 289.9,768.7 337.1,735.1 300.1,768.0 408.7,681.5 606.0,525.0 297.3,768.9 329.5,739.2 394.1,698.5 320.8,754.9 306.5,762.6 307.8,762.2 308.3,762.9 311.6,760.1 373.1,719.6 347.0,731.1 630.4,523.4 509.4,601.9 436.4,662.0 309.6,761.8 290.7,774.2 422.4,680.0 291.1,772.8 337.0,734.7 377.5,709.0 315.7,757.7 365.7,711.9 673.7,482.7 302.5,766.5 578.7,537.1 299.5,765.3 355.4,722.2 386.9,700.4 342.8,734.5 449.6,651.7 295.9,767.3 308.0,754.6 364.5,725.1 341.3,746.4 300.6,767.5 324.0,755.5 337.3,740.2 316.5,759.6 308.2,761.4 393.0,693.3 297.8,770.0 402.8,695.0 329.7,743.8 289.0,776.4 474.9,636.5 335.6,742.5 367.1,723.7 321.0,749.5 307.9,765.2 330.9,742.4 302.0,764.5 364.3,724.8 293.9,772.1 491.8,617.3 354.8,728.6 338.7,731.7 319.7,756.8 336.0,737.5 288.4,779.6 308.7,762.0 309.3,757.6 308.4,767.5 358.6,723.6 345.5,738.7 549.3,585.0 305.0,766.1 478.8,636.5 318.7,755.9 296.3,771.3 392.4,703.4 433.1,682.9 306.9,758.2 305.3,756.8 356.4,724.5 339.8,739.9 300.6,769.8 364.8,718.9 404.2,688.9 404.4,694.8 300.8,767.2 339.5,736.4 295.8,768.9 292.4,772.1 324.1,750.1 335.6,744.6 375.0,712.6 346.6,733.5 448.1,661.3 312.7,758.8 324.6,747.1 333.5,740.0 480.2,646.0 394.8,704.5 355.7,722.9 294.7,769.2 354.2,726.3 304.0,769.0 289.0,774.0 305.1,761.9 289.0,772.8 302.4,767.9 290.7,774.9 297.5,767.7 562.7,563.2 320.5,748.7 301.3,773.5 341.3,740.0 319.9,749.3 333.1,748.0 302.2,765.3 316.4,751.2 308.0,765.0 296.7,768.2 319.1,747.6 403.7,697.2 376.9,719.9 305.1,760.3 334.6,744.6 291.9,772.5 297.4,768.6 361.1,717.8 346.2,735.2 293.6,768.2 349.5,728.6 510.8,608.3 360.8,718.8 292.2,771.2 428.5,672.5 339.3,728.3 381.1,717.0 495.0,628.2 340.2,742.4 290.1,774.8 363.0,720.7 373.1,714.8 338.7,731.5 306.8,764.3 346.6,737.9 300.4,766.8 306.6,764.2 737.0,433.9 297.4,765.9 402.9,689.8 318.9,750.4 295.2,773.6 299.5,765.6 290.2,773.4 316.1,758.2 299.0,772.8 296.1,769.9 309.8,764.3 453.1,649.0 522.0,596.0 288.9,772.8 315.6,747.3 296.6,765.3 299.2,774.1 292.9,769.9 331.1,744.8 314.9,756.3 331.7,746.8 373.9,709.2 294.4,779.6 324.1,755.1 349.8,729.1 295.0,769.8 342.1,733.8 341.5,739.1 295.7,771.6 505.9,606.9 314.7,756.6 299.6,773.0 308.1,758.7 407.3,693.8 407.1,683.7 364.5,719.6 413.5,680.4 394.4,692.8 288.9,777.5 298.6,766.0 320.7,753.2 305.8,764.2 404.2,690.5 290.5,774.9 319.2,753.9 293.1,770.9 289.7,775.8 307.4,758.7 314.8,756.7 698.0,469.1 298.2,766.9 289.3,772.5 292.5,776.5 312.7,757.6 294.5,771.9 290.8,772.3 289.4,774.5 289.5,772.7 393.4,697.7 366.5,728.7 334.7,742.5 347.3,731.2 296.7,767.1 292.8,767.9 302.4,764.6 295.0,766.3 357.3,722.3 334.8,744.4 310.5,762.4 315.9,752.0 300.8,764.4 471.7,649.8 300.5,770.2 324.0,746.7 290.4,772.9 303.1,770.7 450.8,652.5 288.0,771.8 374.0,710.3 348.5,732.7 558.5,569.6 295.4,771.8 339.5,741.1 355.3,726.2 300.5,758.8 289.9,765.6 295.1,770.9 477.2,644.0 289.0,774.5 320.2,754.2 391.4,701.4 323.6,756.6 288.9,774.5 312.4,760.9 291.7,772.4 358.9,731.1 326.3,749.0 342.0,741.9 368.8,720.8 626.9,521.3 385.8,707.0 322.3,753.7 364.9,722.5 310.2,762.3 290.2,775.7 648.4,504.2 603.0,537.0 294.6,764.7 319.4,750.8 321.7,754.3 384.1,712.1 308.4,757.9 332.6,744.5 347.2,732.1 343.6,731.7 290.9,779.0 289.9,775.6 299.0,767.3 336.2,736.6 316.8,756.0 350.7,730.5 293.1,771.8 288.8,774.6 402.0,691.4 450.3,658.9 362.3,725.1 310.0,761.7 329.4,744.6 368.1,712.6 481.3,630.5 304.7,765.0 381.1,702.2 424.0,672.4 396.4,692.7 294.3,771.3 293.2,772.9 337.3,739.1 364.3,721.2 532.3,582.3 320.1,756.4 390.1,699.5 293.5,771.3 298.3,771.5 341.1,739.3 339.4,743.2 362.3,723.5 312.5,759.6 401.1,679.4 292.7,775.2 297.6,766.7 312.2,760.4 292.0,771.2 337.6,741.9 297.1,771.6 305.1,759.2 314.8,753.4 308.8,766.9 291.9,772.8 309.7,761.8 455.5,661.0 294.6,770.2 321.0,751.0 479.6,632.3 388.9,699.8 304.6,758.4 331.9,746.5 348.7,727.4 331.4,737.7 334.9,751.4 337.2,741.7 305.2,759.4 296.8,768.2 289.2,776.0 337.3,735.7 308.7,758.4 433.7,677.2 349.8,728.2 475.5,636.9 305.8,762.7 366.1,724.2 296.2,767.8 481.2,630.3 505.2,619.0 379.1,710.9 309.0,756.4 327.6,742.9 293.9,775.8 292.7,770.3 333.4,744.9 430.4,673.4 307.5,757.2 397.5,692.7 287.5,778.2 398.2,694.7 316.4,754.4 308.4,757.8 317.8,755.2 316.8,755.2 287.0,774.7 371.8,712.0 379.6,717.6 328.2,742.9 384.1,704.0 295.0,770.3 311.5,762.9 402.2,690.5 310.3,753.7 290.2,775.3 290.7,778.2 669.4,480.0 622.9,519.2 307.1,762.5 350.4,736.9 330.5,744.5 338.2,737.8 321.3,760.8 342.5,736.3 360.6,720.0 306.3,765.8 291.3,779.4 354.1,727.8 295.2,763.4 304.9,762.7 398.4,683.4 302.5,764.4 337.7,741.3 300.4,769.4 346.5,728.4 318.4,759.0 431.7,673.0 380.8,710.0 290.1,772.6 318.2,754.5 421.8,685.1 290.1,777.2 353.2,721.9 348.9,731.7 309.2,760.9 311.0,760.8 332.4,743.5 305.2,766.1 410.2,679.9 317.9,751.9 355.7,727.0 342.9,733.1 301.9,766.4 304.0,765.9 304.8,760.8 320.3,753.5 435.2,671.5 364.5,713.5 300.1,767.6 386.4,701.6 290.1,768.8 308.9,765.3 320.1,754.3 494.0,614.8 317.6,756.1 309.6,762.1 325.2,750.3 288.3,775.6 291.4,773.6 293.2,770.2 368.4,716.9 298.9,762.3 335.5,741.0 349.5,724.9 295.8,769.4 296.2,764.0 288.3,775.0 292.8,767.9 367.4,717.3 300.1,761.8 312.2,761.3 298.4,769.6 304.9,762.6 298.1,771.4 289.0,769.6 383.5,706.7 321.5,750.5 287.3,772.1 287.7,773.1 289.0,776.4 346.6,738.9 291.8,777.6 428.9,676.6 433.1,672.6 308.1,764.2 295.4,768.6 359.6,729.6 383.3,713.7 299.4,766.9 306.0,757.3 311.8,762.1 428.4,672.6 296.5,769.5 489.3,617.7 411.8,680.0 449.3,658.7 292.5,769.0 304.2,764.1 355.9,723.4 414.4,672.9 317.8,762.2 290.7,777.5 295.2,774.5 321.9,756.2 290.0,773.2 479.2,632.0 324.3,744.4 312.1,754.2 357.9,724.0 320.1,753.7 322.8,749.1 435.6,664.1 324.3,752.0 304.8,761.7 337.7,742.4 319.0,754.4 290.6,773.6 294.8,772.3 412.9,687.2 311.4,759.2 456.9,650.9 307.8,766.0 290.4,768.1 299.9,761.7 374.4,705.5 314.1,753.6 288.6,774.8 316.8,758.8 523.8,604.6 309.3,766.6 359.9,725.2 289.7,779.2 331.6,744.8 317.2,754.5 461.8,649.7 295.8,771.6 323.4,751.3 290.6,771.4 342.7,738.0 340.3,732.3 336.8,744.5 314.5,759.3 321.9,753.7 291.0,773.6 324.1,749.9 302.8,763.6 549.4,578.2 308.1,756.6 395.0,706.6 310.0,759.5 288.0,774.8 314.1,762.1 299.8,771.9 317.7,754.8 364.3,715.7 349.0,730.6 408.3,687.9 413.8,685.0 298.6,769.7 390.8,702.6 304.9,762.0 311.2,756.1 305.3,762.0 303.7,767.1 338.1,738.3 329.1,743.6 292.7,777.7 368.9,715.9 420.2,681.4 493.8,621.1 314.5,761.6 485.2,635.3 395.9,697.5 290.8,774.9 298.8,769.6 352.1,733.3 378.9,707.7 306.5,759.5 317.5,758.5 348.5,731.6 342.4,738.8 294.4,770.1 376.0,706.9 378.5,708.9 319.6,754.3 302.2,769.2 384.1,700.6 519.3,590.7 397.1,705.5 346.3,732.0 349.3,732.7 289.3,778.1 290.1,768.4 304.8,762.5 304.8,757.5 288.2,777.3 290.2,775.1 329.1,752.3 340.3,738.5 331.3,751.4 345.5,736.1 454.8,645.4 311.4,757.9 358.9,720.9 372.4,714.1 347.4,730.5 304.9,764.5 328.4,752.0 290.1,772.2 406.3,689.4 287.3,777.9 441.4,668.9 322.3,748.0 469.4,651.0 376.5,715.3 384.0,704.3 354.6,725.6 304.2,763.9 290.4,778.2 322.4,748.3 415.4,682.9 310.7,764.8 302.7,762.1 289.8,774.2 369.7,724.6 342.6,746.0 293.6,771.9 343.6,738.7 287.6,774.5 327.0,748.3 311.2,762.3 328.4,746.3 291.3,772.2 303.0,768.7 327.6,745.7 322.5,751.2 292.7,772.6 366.4,717.7 313.2,760.9 288.8,777.0 475.5,636.8 313.9,760.9 314.8,752.3 304.4,763.7 385.1,701.8 313.3,752.4 289.0,770.0 307.9,755.3 318.7,757.3 291.3,767.8 314.1,759.0 368.8,718.2 299.2,767.1 313.7,757.6 350.7,730.9 290.7,772.3 412.9,676.1 460.8,660.6 338.3,745.4 372.6,720.1 364.2,719.5 300.6,766.5 431.5,667.8 287.2,769.7 310.9,759.8 408.4,694.7 312.3,757.5 306.0,757.5 374.4,704.2 353.0,729.4 400.6,692.5 310.3,759.1 314.5,755.3 352.5,730.1 287.1,776.9 318.2,749.6 545.7,568.4 328.8,747.2 329.1,749.0 395.7,700.0 370.4,721.0 288.3,778.5 580.5,553.3 296.3,771.8 287.7,774.3 337.9,742.3 294.8,773.4 346.3,735.6 483.8,645.5 341.8,736.2 349.2,732.9 294.3,766.6 299.0,769.3 296.4,770.0 290.9,775.9 307.3,755.7 380.0,707.5 362.9,716.6 356.5,727.9 292.9,769.9 344.0,739.5 350.3,733.6 318.8,755.4 337.9,743.7 376.1,708.5 308.7,758.7 325.0,746.1 315.8,759.5 316.2,758.1 338.6,740.1 301.3,764.3 307.9,766.0 336.3,742.7 311.5,756.1 319.2,753.7 301.9,766.4 287.9,778.5 371.6,716.6 332.9,741.8 297.3,765.8 472.3,649.0 329.0,745.9 292.3,773.4 290.7,776.2 314.6,751.3 378.0,707.4 328.9,751.0 343.9,739.9 293.0,771.3 354.4,734.0 289.4,774.8 296.6,768.0 307.0,766.9 302.8,765.0 346.0,732.9 294.1,773.2 308.3,760.6 289.9,771.8 308.1,760.6 524.3,602.2 336.2,738.9 322.4,753.1 295.3,769.8 301.4,766.3 391.1,700.7 294.9,776.9 349.7,727.8 321.9,750.8 342.6,736.6 299.6,765.7 356.2,728.6 295.4,770.8 343.3,734.7 327.3,755.9 598.6,543.5 400.5,696.6 309.8,761.8 320.0,755.5 371.2,719.1 378.2,709.3 303.2,762.9 307.5,760.9 336.0,738.5 332.4,743.1 461.4,638.4 310.0,755.5 320.5,754.8 414.2,687.5 302.5,767.6 319.4,755.3 304.4,762.2 396.4,694.1 295.4,769.7 302.9,767.6 293.4,772.9 373.4,714.8 318.0,754.3 409.8,699.2 342.1,736.5 338.8,738.2 300.5,769.3 291.9,768.2 316.1,753.8 380.0,705.9 564.0,575.2 293.2,769.3 359.6,723.7 320.3,752.8 437.0,678.9 341.5,743.7 305.7,764.6 331.4,750.2 311.5,755.4 407.7,694.0 292.9,769.6 304.2,763.5 340.2,728.6 338.1,740.3 512.5,597.5 391.7,702.3 328.4,751.7 327.0,747.6 310.1,756.4 297.2,770.8 339.3,735.8 356.5,724.3 325.1,750.1 310.8,759.4 300.8,766.4 333.9,745.7 292.7,771.6 423.5,673.9 337.2,743.7 321.2,760.9 532.9,585.9 385.9,707.7 307.8,760.3 689.0,474.6 305.7,762.3 293.0,772.6 322.9,752.7 446.1,659.3 494.7,618.9 414.3,692.3 291.6,768.9 298.3,765.2 304.5,763.4 293.3,776.8 300.1,764.6 288.2,774.9 384.8,697.7 384.1,708.0 327.7,748.9 315.8,753.3 299.6,774.4 370.9,717.5 331.4,746.1 525.3,612.6 296.4,772.6 293.6,770.7 343.9,734.8 356.9,719.6 291.2,770.1 460.3,656.1 317.4,752.8 375.8,710.4 295.6,769.8 418.8,685.7 509.6,597.1 348.9,725.5 327.4,747.4 336.6,744.5 391.4,705.9 334.4,747.1 319.2,751.2 295.4,775.6 406.5,683.1 506.1,613.5 321.8,751.1 409.6,682.7 334.2,734.8 305.0,761.6 378.8,710.6 425.1,672.8 293.9,770.8 317.1,755.5 292.8,771.6 296.6,772.6 300.2,766.2 295.1,774.7 293.8,767.8 317.1,756.8 335.6,746.4 321.0,750.7 387.0,700.4 323.8,750.5 287.0,780.3 318.5,759.0 366.1,717.0 301.9,758.9 328.3,746.9 318.7,753.5 288.2,773.0 381.3,711.9 308.7,757.8 292.7,773.9 335.7,742.0 315.5,759.4 297.4,772.8 516.8,609.1 418.4,684.8 376.2,713.5 306.8,757.8 386.4,702.6 304.9,765.8 328.0,746.6 295.8,771.7 710.5,443.0 332.2,742.0 477.9,636.4 374.0,713.5 297.0,768.9 324.2,754.0 313.2,762.1 316.0,756.8 359.8,727.7 296.9,769.3 301.2,763.8 312.4,759.6 322.4,749.9 389.7,693.1 315.4,758.1 298.9,763.4 306.4,765.7 344.4,739.9 320.0,752.9 299.9,767.8 304.1,769.3 312.0,754.9 429.3,666.8 300.3,770.1 535.4,589.3 321.4,752.8 312.2,762.9 420.4,676.5 338.9,744.7 324.9,755.9 298.0,763.9 336.6,743.7 297.2,771.4 321.9,752.9 361.4,725.8 300.5,760.1 288.9,772.9 382.1,703.3 325.9,746.4 305.3,756.9 292.5,779.0 355.1,724.4 351.4,729.6 291.4,772.5 299.7,763.7 414.0,679.8 294.5,776.2 291.8,771.7 329.1,747.6 371.2,710.5 298.8,774.6 356.5,723.9 338.5,739.5 287.0,773.5 361.0,721.5 441.1,674.5 307.5,760.0 339.1,739.7 327.3,751.1 383.3,701.9 294.6,770.8 354.2,721.6 306.4,759.5 339.6,743.3 312.6,756.1 334.1,743.3 338.5,740.1 324.4,751.0 371.4,710.8 337.5,743.7 297.3,767.6 420.3,686.6 300.2,766.1 311.2,763.8 391.4,706.4 292.2,772.4 334.8,746.8 342.3,733.0 307.2,766.0 540.4,572.5 332.1,741.9 305.5,763.3 333.8,741.3 300.8,766.0 304.8,756.5 300.5,765.3 356.5,728.8 441.6,660.0 374.8,714.2 320.1,753.7 288.7,776.3 456.3,654.0 305.9,760.6 297.0,769.2 324.8,747.5 327.2,749.5 378.0,710.6 361.5,724.6 410.8,678.8 299.6,762.2 314.6,757.6 336.1,738.6 359.7,730.0 353.5,733.8 377.6,707.2 312.0,764.7 296.5,760.6 306.9,759.3 652.8,483.8 449.4,656.7 343.6,741.2 293.7,774.0 420.0,683.2 317.1,752.7 370.0,720.8 301.0,769.1 320.8,747.6 332.2,749.0 305.2,765.8 302.5,761.1 449.3,641.4 334.2,749.1 359.3,727.2 300.0,766.5 288.5,774.7 312.0,760.8 312.5,762.9 419.4,674.4 307.3,764.0 368.9,719.9 396.2,696.3 319.2,749.1 291.9,771.8 315.2,748.1 403.5,692.6 317.2,753.3 614.7,541.3 326.1,751.4 337.7,740.6 369.7,719.6 327.1,751.2 292.1,774.0 487.3,633.0 295.9,771.5 418.8,678.9 585.6,544.6 312.5,762.2 292.8,772.4 357.6,728.8 296.8,766.2 442.0,651.6 307.2,761.7 387.0,701.3 328.9,748.0 314.8,755.4 418.1,681.0 334.4,747.6 287.0,771.6 360.2,714.1 310.1,758.2 343.5,736.1 315.3,755.0 501.6,603.9 296.5,770.8 364.4,717.2 290.0,772.9 588.3,561.1 341.8,738.7 392.4,696.4 325.6,748.2 309.2,761.2 587.9,554.6 318.6,753.4 398.6,693.6 401.8,689.3 304.7,758.1 491.9,622.5 344.4,731.1 314.0,755.9 470.3,622.0 293.5,769.6 312.8,749.4 329.2,750.3 322.2,755.9 288.7,772.8 360.4,723.9 438.5,656.5 303.1,762.3 419.7,673.9 296.2,771.9 434.6,667.2 336.2,738.4 575.8,558.4 345.5,734.3 300.1,762.9 297.9,768.4 294.6,769.6 290.5,769.2 295.0,768.7 294.6,775.1 327.5,747.5 287.5,774.9 343.2,734.8 296.4,761.8 439.8,656.3 321.9,751.3 287.5,777.0 349.4,728.0 320.1,752.4 299.5,762.9 396.0,694.6 331.4,741.4 480.5,636.6 428.2,672.8 293.2,771.1 469.0,645.6 294.1,769.4 401.3,694.2 395.4,698.5 300.1,769.1 318.4,754.6 308.1,766.9 293.0,768.6 304.2,762.8 324.0,748.4 346.0,729.2 414.6,680.7 565.0,564.4 360.0,717.9 290.0,774.6 323.8,750.0 307.0,769.4 308.0,763.4 296.2,769.5 375.9,708.5 329.4,744.7 321.5,748.9 330.2,748.0 288.4,776.3 357.3,724.7 494.2,626.3 411.6,686.7 322.4,751.4 344.3,743.1 288.9,779.2 498.8,614.6 305.3,765.9 301.0,763.9 321.4,754.0 559.6,574.6 344.0,733.4 291.6,773.3 340.3,737.1 288.0,777.0 338.5,742.8 288.1,775.8 324.1,753.2 295.1,770.9 323.2,754.6 299.8,766.2 319.9,750.8 324.5,748.7 322.9,755.7 312.7,754.4 361.2,730.2 302.1,765.1 291.7,772.2 328.6,744.7 323.5,753.3 489.6,628.2 288.3,771.0 304.3,760.7 431.2,675.8 301.6,767.0 468.7,646.0 335.2,751.1 299.6,763.8 314.1,759.8 309.9,760.3 294.9,769.6 290.2,777.6 355.0,723.8 333.8,745.9 292.3,776.7 293.5,770.3 311.7,758.7 300.6,768.6 294.4,770.9 316.7,750.1 429.4,667.5 326.8,748.7 309.8,761.8 294.7,764.7 297.3,770.3 335.1,749.6 297.3,765.0 304.4,766.0 304.6,771.3 332.1,749.8 551.1,584.3 295.7,777.0 287.8,777.4 330.7,747.9 326.4,743.3 396.0,697.1 331.8,747.1 298.6,768.6 319.5,753.1 294.1,767.8 304.5,760.0 287.1,781.7 339.6,744.7 318.4,754.6 341.7,730.3 291.1,774.5 321.2,748.9 309.1,762.9 296.3,771.3 296.6,770.2 307.6,757.5 327.2,750.1 307.3,762.1 324.3,749.3 299.3,764.6 331.2,745.3 321.6,749.3 397.2,687.1 320.5,750.4 308.1,762.9 477.0,635.5 308.3,760.6 436.6,667.4 291.4,776.2 320.5,756.3 287.3,777.1 301.6,772.5 441.2,645.3 292.3,769.4 311.2,761.4 321.6,754.9 336.5,736.9 294.5,775.2 308.6,764.8 338.4,736.1 318.0,755.1 332.2,741.8 305.5,763.2 295.3,770.2 317.4,757.4 303.0,763.6 292.6,771.1 338.9,738.8 320.5,754.5 306.4,758.9 290.4,773.1 303.0,763.2 444.6,666.7 477.0,645.3 291.6,770.2 332.3,746.9 331.1,748.5 343.8,734.5 317.9,750.3 300.5,767.7 366.9,719.8 413.7,680.8 304.2,762.6 292.6,771.7 345.2,741.8 289.5,771.4 336.1,744.6 299.0,761.0 323.4,753.4 322.9,750.6 469.2,641.0 318.0,754.1 365.3,708.8 308.7,762.1 288.9,771.0 422.2,676.7 296.1,770.8 384.4,701.7 333.4,742.5 293.0,772.2 484.2,635.4 392.6,697.0 298.8,756.9 295.6,770.4 441.6,658.3 323.8,752.7 301.9,754.6 311.8,763.9 381.3,710.4 340.7,745.3 334.1,740.7 295.7,769.4 305.3,762.2 385.5,704.5 295.8,764.8 497.0,609.6 292.3,768.3 327.4,756.6 299.5,770.4 502.0,614.3 362.9,717.6 287.9,783.6 305.1,758.5 295.8,768.7 319.6,748.2 379.0,714.8 291.7,774.9 293.1,774.9 308.4,763.6 511.4,613.1 290.0,779.1 323.1,746.8 319.0,752.3 529.7,598.4 326.9,755.8 389.5,695.7 302.7,772.9 290.2,777.0 326.4,753.4 337.6,743.4 389.7,699.1 351.3,726.8 360.9,721.7 446.3,665.5 297.1,764.8 298.3,764.4 304.2,761.8 295.1,762.7 362.4,726.5 287.3,777.8 294.9,773.0 291.0,774.9 295.0,768.3 346.6,733.0 383.9,707.7 302.1,762.1 330.3,746.4 372.0,717.3 358.3,727.7 317.7,759.5 302.8,766.2 291.1,775.7 297.3,769.3 473.0,635.4 305.4,762.1 353.8,730.4 287.9,769.0 391.3,706.0 309.1,758.7 359.7,723.9 540.8,581.3 290.8,775.3 332.4,747.4 345.6,732.2 329.0,753.2 389.1,701.3 303.5,769.8 346.8,741.0 388.7,701.9 343.8,738.2 491.1,610.7 520.7,612.7 298.4,767.8 311.8,758.9 305.6,763.0 302.5,767.2 305.8,768.8 299.4,765.2 376.7,707.8 492.0,620.5 371.9,713.6 396.7,690.1 288.5,771.6 344.1,733.1 480.6,636.1 287.3,772.2 457.7,655.2 454.2,650.1 394.9,702.6 334.2,743.8 430.0,666.5 343.4,737.5 317.6,752.0 330.8,747.5 307.8,756.4 303.5,765.5 299.3,759.2 305.4,761.3 302.6,765.6 466.5,650.0 295.9,771.2 410.0,675.7 301.8,770.1 325.1,755.4 527.4,592.6 354.1,723.1 288.6,775.7 361.3,726.5 384.5,706.4 331.3,746.2 307.0,758.8 312.7,752.3 387.4,703.9 307.2,765.1 395.1,703.4 315.3,762.6 348.0,733.1 288.3,779.7 324.9,747.7 342.7,737.8 289.3,776.4 361.4,716.6 541.6,595.1 316.2,753.1 311.0,759.4 341.1,737.1 315.3,756.9 315.7,760.3 330.8,743.7 286.9,771.9 305.2,770.5 541.1,582.4 333.7,744.1 376.2,713.1 333.9,742.0 287.0,776.2 305.9,764.7 328.3,743.5 344.8,739.1 309.6,762.2 306.2,764.6 294.0,773.7 316.2,758.0 384.1,699.1 434.2,672.7 290.8,765.2 356.3,733.3 297.5,776.7 288.2,777.1 298.7,772.3 324.2,746.3 289.9,772.4 299.7,771.0 295.5,770.9 289.6,775.0 343.2,726.4 380.3,708.0 336.4,740.7 372.8,711.9 308.3,761.0 335.6,742.3 296.5,772.3 316.5,755.7 287.6,774.6 296.0,774.2 361.0,722.9 328.9,751.7 297.7,774.2 310.1,760.7 300.0,765.6 297.0,766.2 375.9,714.6 292.6,776.8 377.8,714.8 300.7,767.7 310.4,760.7 334.4,741.5 324.3,751.2 334.6,739.2 311.8,761.5 345.8,732.8 390.6,697.8 313.0,757.2 301.6,764.5 332.5,748.6 367.7,714.3 296.3,771.4 445.2,660.8 338.1,744.2 477.5,632.2 331.1,747.3 321.0,755.2 325.5,747.4 295.3,772.8 319.5,752.7 303.2,764.7 311.3,757.8 306.5,762.8 336.4,746.2 300.2,766.7 299.3,766.6 353.9,720.8 293.6,765.4 364.9,716.4 287.5,772.3 439.5,678.6 432.4,672.3 319.9,757.4 309.1,759.1 300.9,764.9 306.2,761.3 293.9,769.3 386.1,702.5 334.6,743.4 674.8,483.8 305.8,761.0 638.4,507.9 298.1,765.0 289.7,775.3 491.9,625.1 353.3,732.2 311.8,757.0 426.6,678.3 422.1,690.2 292.5,774.7 297.3,771.2 319.5,753.9 379.3,711.1 469.8,632.3 354.9,726.4 351.9,726.0 293.5,766.9 325.0,746.4 287.9,772.1 318.4,756.3 359.9,722.0 481.3,632.0 322.9,748.8 352.2,732.1 420.0,674.9 291.2,774.5 328.2,745.1 350.7,725.9 309.8,756.4 301.0,767.9 297.6,764.4 361.0,730.4 326.3,748.5 297.5,773.4 313.4,758.0 335.4,746.7 291.5,772.8 450.8,659.4 289.5,769.9 424.7,662.8 311.2,756.7 321.2,749.0 377.7,708.2 287.1,775.7 438.6,665.6 288.4,778.3 371.6,718.6 334.4,740.1 314.1,758.9 301.7,764.8 299.0,770.7 431.8,656.3 294.0,766.6 395.3,697.6 325.8,742.8 327.0,746.7 308.0,758.1 308.2,762.1 326.8,750.2 330.3,741.0 562.8,558.9 351.8,726.5 419.0,673.5 418.8,678.5 319.7,755.1 310.5,758.7 324.1,756.6 290.7,772.8 294.9,766.7 468.2,642.7 335.8,735.0 558.1,570.8 289.3,777.3 288.8,772.4 288.8,774.8 318.1,752.5 310.9,761.8 305.1,761.9 365.0,719.3 367.4,716.9 294.6,767.5 288.4,777.0 302.8,765.8 368.3,712.5 347.9,727.9 409.1,682.8 301.4,769.8 357.0,725.0 313.5,759.2 397.4,697.1 361.5,729.1 335.9,749.5 400.5,688.0 287.7,772.5 289.5,778.4 428.0,674.3 444.8,659.2 312.4,760.6 288.2,773.1 322.3,753.1 438.9,672.1 321.5,753.8 319.6,752.1 332.7,747.6 309.6,758.1 325.3,746.1 322.4,749.7 334.4,741.0 363.7,721.3 294.8,768.7 600.1,541.8 312.1,766.7 290.4,775.5 342.1,731.7 305.0,760.4 292.1,775.6 441.0,663.9 319.4,756.3 690.0,476.0 310.7,761.0 332.1,742.0 370.9,715.3 317.6,756.0 298.6,775.1 375.1,702.4 304.5,768.0 295.0,770.3 313.8,755.0 387.1,702.5 310.2,757.5 446.9,671.9 319.7,756.7 437.4,669.3 384.9,711.5 311.6,764.6 370.5,712.0 326.4,753.5 309.3,757.3 313.0,755.3 372.8,715.8 304.4,768.9 297.9,770.5 297.4,771.2 345.1,737.6 310.5,762.7 302.6,765.4 290.0,774.6 293.8,771.4 298.9,768.0 396.5,690.2 318.7,747.6 333.2,743.9 631.3,514.0 296.8,769.8 300.3,763.9 295.7,767.8 402.6,691.2 326.8,749.3 324.8,748.2 486.8,620.2 299.7,768.8 300.3,765.6 307.5,768.2 321.7,754.6 297.0,767.6 323.5,756.5 316.1,761.3 379.1,708.3 312.6,765.2 341.5,739.0 314.0,750.7 386.7,702.1 400.1,684.6 328.0,742.5 305.5,766.1 354.3,729.0 309.2,759.8 326.3,745.3 317.0,750.8 327.2,745.8 307.1,761.4 390.5,706.1 303.2,761.7 619.3,526.6 343.0,732.8 535.5,578.4 345.0,740.7 480.5,618.8 295.8,770.5 342.7,732.7 318.8,751.1 310.1,754.2 289.0,770.5 322.2,746.3 365.6,715.9 711.9,456.0 420.2,679.4 456.4,646.5 305.7,760.3 334.4,742.5 287.5,777.5 373.9,719.0 326.2,748.9 287.9,765.5 287.9,775.4 382.7,709.0 295.6,768.1 305.5,761.1 353.4,728.2 370.5,724.8 291.5,774.8 426.3,677.2 293.8,769.2 333.6,745.9 358.1,726.1 347.2,737.7 287.2,777.2 304.1,757.3 351.7,726.7 423.0,673.8 349.8,734.8 468.2,649.2 309.3,757.5 432.2,669.3 325.9,747.2 538.6,582.9 324.3,750.0 516.0,621.4 299.7,764.4 345.4,727.9 443.7,660.1 300.1,767.6 338.8,738.9 292.4,772.8 295.8,775.7 300.1,768.3 294.0,771.0 434.4,661.5 330.0,749.8 357.5,726.9 346.1,734.1 321.6,750.7 291.9,766.2 291.4,770.6 364.9,717.2 322.3,755.9 303.1,759.9 314.9,762.8 466.2,634.5 292.6,769.1 314.5,756.9 347.0,737.6 304.2,762.6 373.5,715.7 336.1,736.7 395.1,709.5 338.2,739.8 299.6,775.9 301.9,765.6 308.4,762.5 351.3,726.9 331.8,749.0 288.4,777.7 377.8,720.3 359.9,725.7 445.7,657.9 291.6,773.3 388.4,707.1 333.8,744.3 305.6,761.6 302.8,764.3 443.8,672.1 377.5,712.9 320.4,756.2 346.2,743.5 339.7,736.8 297.7,767.6 313.4,761.5 307.3,760.6 311.0,758.9 370.3,718.1 299.6,766.4 289.9,774.4 317.0,757.9 319.1,750.6 296.3,774.6 461.0,635.3 347.5,732.2 290.0,774.9 291.6,771.2 299.4,770.6 287.0,776.8 303.8,758.2 295.4,768.6 295.9,770.3 417.5,681.2 399.6,689.2 305.5,760.5 424.2,677.1 353.6,723.7 324.5,750.3 293.0,771.8 311.6,756.8 340.5,741.2 324.5,755.7 383.7,706.6 295.4,767.3 326.9,749.7 292.5,769.2 374.8,707.1 287.6,776.2 336.6,741.3 328.0,748.3 411.3,681.5 390.7,698.2 448.0,656.0 306.5,758.3 327.0,747.2 530.6,589.7 333.4,746.4 310.8,759.5 289.1,769.9 317.8,752.5 357.1,725.4 296.6,769.6 321.6,755.4 321.8,754.6 348.6,728.2 312.1,758.8 311.0,759.3 288.3,770.6 321.9,753.4 310.1,761.8 319.5,748.9 315.6,754.3 301.4,771.3 318.3,754.6 304.2,766.9 371.3,717.4 322.3,752.5 288.8,779.4 333.6,746.1 314.6,751.0 353.9,729.1 345.2,736.6 348.7,728.4 287.7,779.3 290.2,774.1 348.7,727.0 289.6,773.7 355.7,725.4 340.7,739.0 381.4,705.9 582.2,544.5 344.6,735.8 383.2,705.6 295.7,769.0 460.4,659.0 300.2,764.0 433.6,657.5 337.7,737.3 301.1,765.6 296.8,770.3 372.5,712.5 305.5,757.0 317.7,749.9 329.3,749.1 387.6,695.3 344.5,737.9 333.6,745.8 291.6,772.9 287.5,773.1 321.0,753.4 376.7,706.3 611.8,525.2 299.0,762.6 542.5,591.2 491.3,622.3 326.9,746.2 297.1,763.9 388.2,712.3 331.5,745.9 289.9,779.7 736.0,427.4 287.5,776.7 305.8,762.1 297.3,765.5 351.8,726.2 348.0,733.3 297.9,766.3 324.3,739.6 287.3,776.6 291.9,770.3 291.8,773.7 299.7,764.4 318.0,757.3 455.7,647.1 303.2,769.7 335.5,741.2 314.7,748.5 367.6,722.7 358.9,726.7 348.3,728.7 303.6,768.1 373.0,724.1 391.8,707.6 434.1,666.2 452.4,646.7 290.1,773.0 467.7,641.0 325.0,746.0 339.2,739.2 328.4,742.6 589.3,533.2 292.2,772.9 313.8,753.2 304.2,761.9 289.8,773.8 309.2,760.8 338.2,735.9 288.4,778.2 291.4,777.4 299.2,763.6 304.4,757.7 341.6,736.3 371.6,710.1 289.3,778.9 300.7,770.8 328.5,749.1 289.9,774.6 327.8,747.2 338.9,741.2 399.7,693.9 309.1,761.4 289.7,771.6 293.9,767.4 348.4,728.8 373.8,706.7 303.6,765.2 290.8,774.3 288.5,780.3 290.9,778.2 334.0,740.2 296.9,767.4 296.5,769.1 395.1,698.6 318.6,758.4 337.7,748.5 342.1,739.3 490.9,625.2 292.3,780.2 289.7,769.5 470.5,643.7 330.0,744.6 305.3,759.2 374.6,705.7 588.7,546.9 333.7,739.9 297.1,766.0 329.4,746.4 452.4,651.5 342.6,740.0 287.8,774.1 313.7,759.9 365.7,720.2 296.7,768.8 360.5,719.2 296.4,770.1 338.7,740.6 356.6,727.9 307.0,753.3 312.9,759.7 314.1,755.8 299.4,772.3 324.2,750.2 307.1,766.3 352.0,731.9 293.8,768.7 295.2,764.5 353.9,727.5 295.4,768.0 304.3,763.7 309.8,761.9 327.8,747.6 453.6,646.7 328.5,746.6 297.8,769.7 316.2,757.5 301.7,764.4 327.6,749.2 363.4,717.0 299.0,772.2 454.8,647.0 294.6,773.1 318.9,754.4 308.5,754.2 293.2,768.1 496.6,622.6 333.5,744.9 293.0,768.7 288.6,771.4 311.2,759.5 457.1,645.2 400.6,695.1 332.1,753.3 430.1,664.3 308.7,762.8 398.9,691.2 319.9,753.9 298.8,768.7 349.7,734.9 346.3,730.9 340.1,735.4 297.6,764.4 297.0,766.7 293.8,769.6 289.3,775.6 322.1,751.6 324.3,748.8 639.8,524.9 289.5,777.5 298.2,768.7 358.9,721.0 295.6,765.3 488.1,614.2 305.2,766.1 295.9,769.4 291.9,773.9 292.1,774.7 450.9,656.8 301.1,765.9 304.6,761.3 323.3,756.1 401.5,693.0 313.0,761.6 338.1,734.8 347.7,726.1 361.6,724.4 306.1,765.3 292.5,769.9 296.0,766.5 442.6,667.0 319.7,755.0 449.8,654.0 387.9,707.8 300.9,761.5 311.2,759.3 350.9,730.2 350.4,735.5 302.9,761.2 288.7,778.6 302.0,768.2 419.3,682.2 296.7,769.6 315.1,761.7 328.1,750.4 288.7,772.5 323.0,751.4 366.9,718.0 308.0,758.4 294.1,769.4 505.3,605.5 344.6,735.2 291.3,775.5 335.0,736.4 295.0,775.8 399.2,701.2 298.6,771.7 550.9,557.3 315.5,756.2 417.2,674.6 303.6,769.9 365.6,724.3 318.0,753.7 339.2,741.1 299.5,767.0 340.9,735.7 294.6,770.2 337.6,740.2 322.1,751.2 335.3,743.0 296.6,768.2 335.6,738.5 289.6,776.7 322.1,750.9 331.9,741.6 306.8,763.2 314.8,757.3 554.0,558.3 372.8,708.9 301.9,758.3 384.5,696.2 302.2,766.7 534.2,593.5 338.6,740.8 292.9,768.8 373.9,724.2 309.9,760.2 420.4,671.3 362.3,721.6 303.2,763.9 321.6,753.0 291.9,777.6 350.6,726.8 392.1,700.9 333.3,742.0 297.0,768.9 289.1,767.9 635.6,506.1 290.1,772.0 304.5,764.4 309.9,763.1 448.1,654.4 300.9,762.9 344.1,735.5 308.1,768.8 321.8,754.7 293.8,764.8 387.2,705.8 494.7,619.3 298.4,774.3 343.0,738.6 315.8,759.2 437.5,660.3 363.6,718.2 291.8,770.6 313.6,754.3 305.3,765.1 326.8,742.7 301.6,766.8 322.6,748.3 352.7,720.4 313.0,759.9 349.4,730.1 377.1,711.2 302.3,765.1 294.5,769.6 305.1,763.9 298.5,768.0 304.4,761.8 288.4,778.7 486.1,632.2 353.7,730.4 291.9,776.6 330.9,744.3 336.3,743.2 304.2,767.1 323.9,755.3 320.8,755.8 291.7,771.0 315.0,761.1 506.2,605.3 346.8,731.1 444.9,657.6 315.7,762.0 292.9,774.0 323.6,747.2 358.1,726.6 323.8,753.3 315.0,759.3 340.3,737.0 307.2,768.3 342.6,732.8 297.4,768.0 393.9,703.2 303.5,762.8 317.1,763.7 410.4,692.2 322.1,750.8 348.0,726.8 326.5,752.9 390.8,707.4 664.1,487.9 327.9,747.5 317.1,758.0 303.1,767.6 290.6,768.2 294.7,773.5 351.6,736.5 300.4,768.2 325.0,745.4 388.3,699.0 308.9,761.2 288.1,778.8 673.7,480.6 290.1,764.4 398.8,691.4 309.2,757.4 348.5,738.7 306.1,764.5 577.3,557.6 305.5,757.8 460.1,649.5 313.2,758.3 365.9,721.4 311.1,767.9 291.8,768.8 310.9,766.1 292.2,774.0 291.5,777.6 343.2,738.1 314.7,758.8 299.1,763.0 315.5,760.6 322.7,752.6 361.9,720.0 534.1,591.8 300.1,768.8 374.4,704.0 307.0,759.9 347.6,736.3 343.4,735.2 411.9,689.4 588.1,542.2 291.1,777.4 360.4,720.0 319.4,752.6 344.9,733.8 287.8,775.0 290.4,772.6 364.7,724.0 415.2,681.7 288.8,772.4 389.9,699.1 325.1,753.1 536.6,582.7 338.6,744.3 320.8,755.4 441.6,667.1 301.9,767.9 665.6,487.3 334.8,740.2 310.3,756.6 305.2,762.2 305.5,766.0 325.4,747.1 420.4,672.8 292.2,774.6 317.4,759.3 321.1,753.2 489.5,611.9 313.4,759.1 310.4,760.8 305.1,761.5 503.3,622.3 307.0,766.1 344.2,736.1 360.6,719.7 476.2,637.3 338.2,742.6 319.8,759.3 292.6,766.9 390.8,706.8 292.1,768.1 294.2,773.2 287.0,771.9 300.3,761.4 299.0,770.7 358.5,722.5 325.0,747.4 317.1,751.3 414.8,684.2 298.7,764.0 610.1,528.3 370.8,720.2 392.3,694.5 305.7,759.3 353.4,728.8 292.5,772.4 289.0,771.8 321.2,746.9 312.2,763.0 309.8,757.0 300.0,760.6 297.7,771.5 289.3,772.2 398.8,694.3 287.5,774.1 456.8,642.7 455.0,661.6 342.4,739.0 298.8,772.5 294.3,771.9 497.6,605.9 350.4,735.2 302.8,766.9 448.7,660.4 346.1,732.7 501.2,618.1 290.6,775.8 623.1,525.1 305.9,763.8 293.8,775.1 380.1,719.9 447.1,651.0 370.6,715.3 304.0,766.6 317.1,756.1 295.0,768.1 289.9,776.4 556.5,569.8 430.0,674.0 288.4,770.8 357.3,735.8 299.0,772.4 290.7,768.8 324.6,754.4 305.2,766.4 298.6,772.1 318.6,762.4 313.1,758.7 294.5,768.6 317.8,754.0 302.7,769.5 302.0,767.7 316.8,750.2 309.2,761.6 291.5,775.7 347.9,729.5 534.1,591.1 293.3,777.5 296.9,772.0 296.4,766.6 291.6,773.2 337.0,741.5 315.5,754.5 294.8,773.1 313.3,763.3 298.5,768.2 296.9,771.3 290.5,773.4 292.8,774.2 292.5,774.5 317.4,760.2 293.4,770.6 309.4,754.4 499.2,626.0 324.9,746.1 296.4,767.3 318.9,756.5 423.3,681.8 387.2,700.7 293.4,772.6 310.3,761.2 481.2,634.5 359.0,716.5 295.0,775.6 298.0,767.1 310.3,753.9 298.9,767.4 309.3,753.8 302.3,765.7 301.8,765.5 415.1,678.0 345.2,737.8 396.4,696.2 287.7,773.3 335.8,744.5 300.9,765.1 373.8,708.4 697.8,470.0 371.3,715.8 629.3,511.8 345.5,737.5 303.7,761.4 453.3,645.6 315.9,758.2 390.7,699.5 339.7,741.4 363.0,722.0 309.4,759.3 296.9,769.7 298.7,767.4 292.7,773.3 313.9,753.6 314.4,754.2 291.5,774.6 294.5,768.9 309.4,752.0 350.9,732.4 321.9,747.3 319.9,744.3 320.1,754.0 333.5,740.7 293.9,778.1 398.4,687.7 315.9,754.0 372.9,710.1 295.7,769.2 293.5,768.2 372.5,709.1 347.1,730.5 293.7,772.0 370.1,716.8 410.0,685.7 403.3,692.1 292.9,774.3 455.1,659.3 500.8,616.6 315.5,759.6 300.6,767.9 695.0,472.7 296.7,773.6 325.7,750.9 293.0,772.3 307.5,754.9 677.5,477.5 312.2,755.3 414.7,679.6 292.1,771.2 377.9,711.6 455.7,647.1 431.4,666.7 319.3,758.6 316.2,753.7 575.7,556.1 331.4,750.9 435.7,670.9 451.3,650.2 289.9,770.6 287.2,775.7 309.3,756.7 329.3,744.0 379.4,716.3 293.0,775.1 390.7,698.8 287.4,778.0 316.0,758.3 326.9,747.5 299.2,768.5 292.3,774.3 331.9,749.9 309.9,753.5 329.2,751.8 288.8,775.7 294.8,766.9 615.3,525.7 337.6,744.1 288.4,778.2 291.9,768.6 392.7,695.2 302.0,772.3 337.5,745.8 480.5,627.6 289.5,768.7 304.5,766.0 292.6,768.8 476.4,645.5 332.0,750.8 380.4,714.3 318.6,752.7 610.8,526.9 294.9,768.1 335.3,748.8 327.7,742.2 294.1,772.3 289.1,765.7 334.2,742.2 376.6,719.6 289.5,774.0 391.6,704.2 321.0,747.4 375.0,711.4 316.6,751.5 448.3,661.7 291.6,775.0 440.7,661.9 309.4,760.6 291.9,775.4 334.1,741.3 367.3,713.0 297.4,770.0 573.8,559.9 306.9,764.2 580.8,547.0 354.1,728.7 372.1,712.6 458.7,641.9 307.5,763.1 308.3,762.5 308.2,762.6 322.1,746.8 337.8,740.9 331.8,744.7 307.3,763.3 337.9,737.1 300.4,765.6 329.9,750.6 318.2,751.5 388.0,700.7 300.0,763.2 314.8,755.3 531.8,591.3 365.9,723.8 414.3,677.4 334.0,738.7 452.1,659.5 448.9,657.0 408.0,685.1 311.5,759.8 444.8,657.4 331.0,747.0 321.2,754.9 312.4,754.6 492.7,634.2 321.9,749.9 325.0,752.8 322.6,751.6 289.7,776.0 315.0,756.4 316.0,758.4 295.6,769.2 366.7,725.1 361.0,727.7 345.9,735.0 337.3,738.5 300.5,769.7 341.5,730.3 555.6,573.5 423.6,671.5 337.0,747.9 300.6,770.1 317.6,758.6 305.8,767.3 484.5,639.6 334.3,744.8 316.0,759.2 298.4,763.0 346.0,734.7 434.3,666.2 346.7,742.2 292.7,767.1 305.5,758.5 315.1,760.8 311.3,763.2 299.1,770.3 333.1,738.9 314.7,761.8 356.7,730.7 299.6,772.7 296.6,768.5 333.2,740.9 317.8,758.4 298.6,764.4 289.5,773.5 521.5,605.7 387.4,700.5 356.2,721.3 337.1,736.3 304.6,762.5 329.4,742.2 470.0,640.2 304.1,763.5 411.2,675.5 318.6,754.9 549.1,582.2 291.3,776.7 543.0,585.2 315.2,763.2 298.2,771.4 422.9,682.9 335.5,742.9 475.9,644.6 384.0,706.3 327.3,748.4 308.9,758.5 328.4,743.9 287.3,770.4 415.3,683.5 333.8,748.6 294.3,768.3 349.1,730.3 291.0,774.4 330.4,743.1 316.5,749.1 343.6,734.6 297.6,770.1 299.3,766.9 304.7,767.1 316.1,749.3 507.4,619.5 315.0,760.4 315.4,753.1 290.3,774.0 300.7,770.7 319.1,750.8 491.7,615.3 301.6,771.5 292.9,769.6 397.6,690.3 310.8,753.5 300.9,765.0 474.4,631.7 355.6,726.6 291.6,770.2 320.7,746.9 287.5,772.9 311.2,761.6 415.4,682.3 736.2,415.8 370.6,721.4 291.1,774.8 340.7,740.8 336.3,736.6 420.0,683.4 604.3,536.5 301.5,766.3 334.5,740.9 298.5,766.1 531.3,599.4 289.9,777.3 364.8,726.4 296.6,765.6 321.7,753.1 296.6,768.7 337.7,740.5 361.2,729.3 370.8,723.1 305.2,767.5 315.3,750.0 519.9,603.7 299.9,765.6 349.1,736.0 292.4,763.6 314.4,757.0 313.3,763.4 294.5,772.3 298.6,767.0 304.8,760.6 295.2,771.4 614.6,520.7 378.0,708.8 324.8,749.3 504.4,616.1 723.7,437.8 314.5,753.5 312.2,758.9 287.2,776.5 295.2,761.2 301.6,763.9 331.4,742.9 288.2,779.4 389.8,695.9 287.7,780.2 459.1,641.1 406.1,687.2 308.4,763.1 323.5,753.4 356.2,725.9 314.6,758.5 287.3,780.8 377.3,705.8 364.4,727.1 291.9,772.9 439.8,666.3 316.1,750.9 308.7,766.4 389.2,696.9 289.3,772.6 384.7,716.7 293.8,775.8 300.3,769.3 388.6,707.5 367.6,717.1 415.5,678.9 472.0,631.8 314.9,759.5 287.3,773.7 322.7,752.4 315.1,755.1 297.1,769.3 332.0,744.9 403.0,693.2 346.7,731.8 325.9,749.0 319.5,757.2 301.2,773.3 289.2,771.0 445.4,654.7 318.9,754.6 320.6,749.0 291.2,773.0 307.5,762.5 308.5,762.9 289.0,770.2 302.7,759.5 302.9,766.0 290.9,775.1 287.8,771.6 291.1,770.0 378.4,706.9 302.7,770.2 317.8,754.0 305.8,762.7 386.1,705.5 317.4,753.7 340.4,739.1 328.5,746.1 312.4,758.8 308.3,762.5 560.5,553.8 365.7,719.6 317.3,753.2 290.7,770.1 315.3,759.9 346.1,734.9 364.2,724.3 293.9,771.6 434.1,674.5 383.1,702.1 313.2,758.1 353.3,733.8 309.9,758.8 288.7,777.5 318.8,759.1 417.2,678.3 461.6,646.2 318.1,757.2 298.9,765.5 649.3,495.7 291.9,771.8 398.8,689.3 321.6,751.3 319.0,749.8 296.5,768.3 379.2,707.6 289.8,782.7 378.5,711.4 423.6,665.0 354.6,730.1 338.2,740.6 294.8,771.9 415.8,691.4 342.8,734.4 508.8,596.7 316.3,750.3 429.2,672.7 307.5,765.0 437.6,668.2 321.1,750.9 390.2,702.9 437.3,660.7 444.0,658.5 295.2,774.2 344.0,740.2 367.8,714.1 305.5,760.7 669.5,483.1 306.8,757.7 297.6,768.8 290.6,774.1 385.9,704.4 293.7,769.4 287.3,782.5 294.1,770.5 318.0,754.3 311.7,762.0 291.5,775.3 323.8,746.5 333.7,745.2 373.8,714.7 336.9,737.7 398.2,701.2 300.5,758.7 496.5,624.4 294.1,773.0 305.4,768.3 449.5,659.6 383.8,710.4 550.2,578.5 299.0,771.4 293.3,779.1 300.0,763.3 301.0,764.0 311.5,757.1 322.8,749.6 300.8,764.7 294.0,773.3 323.4,741.1 306.6,764.8 310.8,763.9 335.9,734.4 347.3,734.9 312.7,758.4 294.5,773.9 447.1,659.5 309.9,758.8 359.6,722.7 287.8,778.9 437.3,660.9 315.3,759.4 333.3,749.5 310.0,757.4 637.4,506.1 306.6,763.5 296.2,772.1 324.1,747.9 293.9,772.0 312.9,760.7 498.2,614.3 296.2,768.7 365.8,724.7 313.4,753.8 302.6,771.0 289.6,776.4 296.0,768.6 351.6,730.4 291.4,770.2 291.8,770.6 287.9,782.4 310.8,755.4 322.3,753.6 305.0,763.9 363.6,724.3 311.1,763.3 297.2,766.9 409.3,684.1 302.1,765.0 316.3,758.2 324.4,744.9 323.0,750.0 291.8,770.5 289.2,773.8 298.8,766.9 300.2,763.2 297.7,765.2 287.7,771.6 348.7,731.8 356.6,725.7 292.3,775.8 322.6,752.2 301.4,768.0 292.3,774.7 301.4,766.2 291.0,772.7 640.2,511.6 321.4,758.2 486.4,629.0 391.8,699.7 298.2,767.3 360.9,726.8 317.9,759.3 297.6,774.6 363.4,721.2 320.0,755.5 287.2,773.6 505.2,622.5 303.5,760.6 325.3,750.4 341.8,738.3 346.3,733.5 339.0,737.0 298.3,765.7 295.4,776.1 321.0,754.7 349.5,729.9 407.9,684.6 314.8,756.4 350.5,734.5 310.6,758.6 286.9,776.2 364.6,720.3 290.3,769.6 391.9,700.3 414.3,680.4 316.9,750.7 352.7,725.2 290.2,777.4 400.3,698.9 306.4,769.5 348.6,728.2 287.3,775.9 448.5,660.1 627.3,516.9 304.4,768.2 389.5,698.8 308.0,764.7 391.3,695.8 344.8,734.2 321.4,752.7 363.5,718.8 320.2,754.2 298.9,768.0 322.8,747.4 358.0,718.3 407.5,685.1 354.8,722.0 501.0,626.7 327.2,747.9 308.1,761.8 358.5,726.8 349.5,729.6 391.6,690.5 297.9,766.8 296.5,765.8 332.5,739.5 298.0,764.1 302.7,765.1 313.0,760.3 326.1,745.2 603.8,527.2 315.0,758.3 488.9,614.4 296.4,772.1 376.3,717.0 307.2,762.4 400.3,700.0 357.5,726.2 295.6,770.1 436.5,669.1 408.4,686.7 308.0,765.8 299.8,774.5 404.5,685.9 300.5,763.8 312.7,755.6 301.1,767.7 337.0,739.3 302.7,766.4 439.1,657.0 318.6,758.3 459.2,646.5 317.0,757.0 314.6,754.7 345.0,734.7 304.1,770.2 307.6,763.0 305.0,767.0 454.0,649.6 324.0,747.7 315.6,760.4 362.8,719.7 467.9,647.8 292.6,773.4 337.1,740.3 378.9,703.8 299.5,765.9 293.8,769.0 300.6,768.2 304.0,764.9 338.4,737.6 300.9,766.0 292.4,771.4 292.9,770.4 443.1,651.1 326.9,743.9 295.1,765.7 346.1,732.6 289.6,776.1 323.9,754.5 311.9,758.5 430.6,675.8 317.1,761.8 317.6,756.0 335.3,734.2 316.1,756.0 328.9,746.5 453.0,653.4 465.4,642.4 306.8,766.8 290.8,772.1 474.7,631.1 305.5,762.5 311.7,758.1 294.6,770.3 318.9,751.6 301.1,769.9 302.7,771.6 295.3,771.5 303.8,764.6 297.5,766.7 345.5,737.3 296.2,768.9 407.5,687.9 588.7,539.5 306.9,763.9 292.4,769.9 350.8,727.5 309.9,761.2 409.2,687.2 445.1,661.9 419.5,682.4 298.4,770.0 293.6,774.5 327.1,745.9 306.8,761.1 306.7,762.9 331.9,744.3 310.6,759.7 309.9,755.4 307.8,758.9 375.2,713.6 323.1,748.8 400.8,701.1 290.3,774.8 319.6,756.2 294.9,769.3 305.3,765.3 651.8,502.7 325.5,751.9 341.3,743.0 331.4,749.8 351.4,733.9 457.6,647.3 303.5,763.9 319.2,751.4 289.6,768.6 366.6,714.8 309.9,766.3 313.0,760.3 310.9,754.8 293.4,770.8 431.4,667.6 317.2,754.6 303.3,769.4 343.3,734.7 310.5,760.5 288.4,777.6 325.6,748.2 333.8,737.4 311.8,759.7 305.6,767.5 399.8,694.3 287.5,777.9 305.7,771.2 383.7,708.2 303.1,763.9 355.0,731.3 306.6,763.1 314.8,757.5 300.8,768.1 302.0,767.1 291.6,773.6 327.1,749.4 333.8,744.0 290.5,771.7 300.1,768.7 298.0,771.1 295.0,768.9 302.4,767.8 290.1,767.0 403.4,692.4 308.4,755.1 342.7,735.9 347.5,732.0 380.0,704.6 304.1,763.2 381.8,707.9 309.9,761.6 326.4,752.1 293.1,774.6 298.3,765.6 369.0,727.5 314.0,752.0 326.0,746.2 441.7,663.8 361.2,715.7 335.8,735.3 307.3,758.7 327.6,756.3 333.8,750.6 292.0,770.4 297.2,772.8 323.0,750.1 314.5,758.7 302.2,764.6 291.9,773.5 311.8,759.3 340.5,744.8 289.0,774.5 367.7,721.9 334.1,739.7 375.5,715.3 304.1,763.3 310.1,758.6 290.4,774.0 294.8,773.3 303.7,764.6 506.0,613.3 350.3,728.3 461.7,652.5 320.6,757.1 301.5,764.2 326.7,748.2 333.7,739.6 343.0,731.7 398.4,704.5 333.8,742.8 301.4,766.0 290.9,773.0 313.7,755.0 311.4,753.4 573.3,558.5 319.0,754.9 516.9,599.6 290.6,771.1 292.9,772.4 305.5,761.0 292.4,768.1 429.5,674.7 571.7,549.4 335.3,745.4 304.0,760.8 391.6,704.7 482.3,636.6 335.5,747.5 396.9,698.0 320.1,753.9 496.9,620.8 329.0,748.7 415.8,683.5 321.9,754.2 329.2,748.7 312.6,758.5 308.2,763.8 430.4,670.4 313.3,762.0 313.9,762.5 310.2,758.2 319.3,757.0 472.3,638.5 310.4,763.8 529.1,604.3 290.8,777.7 288.1,777.9 311.9,755.3 298.6,770.7 360.4,723.0 353.1,731.1 309.7,760.7 628.8,524.9 353.4,725.0 292.2,772.0 340.1,741.0 331.2,743.2 302.1,771.2 347.1,736.8 371.9,713.9 299.9,762.7 334.9,745.0 301.6,760.8 443.0,655.0 455.8,657.3 468.8,638.6 300.9,763.4 302.2,769.2 353.9,722.9 362.3,729.1 312.9,754.3 305.9,760.0 370.0,709.5 306.1,760.8 289.3,773.6 319.2,759.6 343.2,730.2 288.0,773.2 340.8,735.5 293.9,773.2 318.4,762.3 322.6,750.4 324.0,754.0 332.8,744.7 446.2,656.0 290.6,777.6 293.3,770.4 440.0,668.3 288.7,776.6 333.5,741.4 318.0,760.1 306.2,765.3 342.9,737.9 384.5,701.1 346.6,734.6 315.5,754.8 293.2,775.3 417.6,688.9 369.6,717.7 309.9,755.8 319.3,752.6 346.6,736.0 288.1,777.2 306.9,758.6 343.5,734.2 300.2,772.0 290.0,780.1 328.6,741.1 307.2,762.2 294.0,771.4 292.0,771.5 390.1,702.1 402.7,692.9 299.0,768.4 307.5,769.0 310.9,761.3 353.7,730.9 292.4,769.1 315.8,753.5 302.0,767.4 333.4,744.7 312.9,758.5 287.6,769.4 318.9,751.0 368.9,720.5 296.8,765.0 439.3,669.9 295.8,766.7 326.3,749.1 289.4,778.0 489.7,628.4 342.9,737.8 388.1,698.0 332.2,740.5 610.3,542.5 287.7,777.0 344.6,731.7 327.3,747.0 297.4,767.6 333.0,742.2 381.2,704.8 324.6,746.2 406.3,691.5 304.4,771.9 291.1,771.7 287.7,780.6 321.9,752.3 294.8,773.3 605.1,534.2 304.1,771.5 330.5,744.5 353.9,729.0 365.4,719.4 334.3,746.1 348.8,735.8 314.6,754.5 287.0,774.0 296.5,770.7 308.7,765.7 319.1,752.8 388.8,705.1 294.0,768.8 695.9,468.7 347.1,733.3 310.0,759.7 295.5,772.2 344.2,734.2 330.2,751.4 305.9,759.4 323.3,753.0 400.1,696.4 333.1,745.1 298.6,769.6 335.3,745.4 318.1,754.5 347.0,736.5 372.5,716.3 287.4,775.2 316.2,757.2 290.4,776.3 349.5,729.1 377.6,702.3 314.8,754.6 288.4,777.2 356.7,727.9 425.9,680.6 439.9,667.5 385.3,708.9 382.2,708.2 364.6,722.3 308.9,754.6 499.5,623.8 335.4,740.6 388.1,699.3 287.9,780.7 291.0,778.6 328.5,745.0 287.4,779.3 312.1,760.3 323.2,759.5 296.2,773.4 330.7,747.1 340.5,734.7 289.5,768.0 313.5,760.4 435.7,659.1 312.6,759.0 321.3,753.6 302.0,766.9 320.8,754.0 426.3,682.5 310.1,760.9 388.9,707.8 647.8,498.6 331.4,736.2 287.6,779.5 319.0,749.0 371.4,720.5 290.7,774.5 601.0,529.2 456.5,648.1 528.0,586.5 293.2,767.6 288.7,775.6 381.3,710.6 293.4,769.7 311.7,757.9 354.5,721.4 321.4,759.9 305.5,760.5 332.2,743.2 288.6,775.7 363.0,725.3 391.2,704.5 320.9,755.7 340.0,733.2 296.7,769.5 293.6,772.4 334.6,743.0 317.5,753.6 327.3,746.1 365.9,719.7 406.0,690.5 300.3,769.7 324.5,750.7 311.7,759.9 367.6,721.0 334.1,744.6 301.0,762.8 301.6,763.8 290.6,772.5 293.9,767.6 370.1,716.0 308.4,758.0 342.1,737.6 563.7,553.9 395.6,694.6 560.5,569.2 302.9,769.3 574.7,555.0 296.9,768.9 290.1,777.1 376.3,712.8 295.8,771.9 336.9,740.4 336.5,746.3 290.5,773.6 292.9,766.0 315.8,753.4 293.7,771.5 350.2,725.4 317.4,756.7 345.3,731.9 689.5,465.8 289.9,775.2 337.9,738.8 421.1,665.3 453.5,658.4 316.3,759.1 292.0,767.2 298.9,770.1 292.3,772.6 323.0,753.1 366.8,722.1 298.0,767.2 666.2,493.7 347.8,737.2 291.9,773.4 339.8,737.2 291.3,768.5 574.5,556.3 370.0,712.5 291.7,768.4 356.0,725.1 288.8,771.9 378.6,711.0 340.7,744.5 309.2,758.6 291.2,776.5 324.0,749.0 451.0,660.1 332.5,748.8 366.4,719.7 326.5,753.5 475.7,635.6 401.8,693.6 298.5,769.0 369.4,710.4 407.5,684.1 289.7,774.8 299.8,764.9 293.0,770.6 288.9,775.5 299.0,772.2 292.3,774.6 484.7,616.4 292.5,772.0 368.5,715.2 301.2,761.2 339.8,741.9 386.4,699.1 375.6,723.0 405.6,695.0 334.1,751.2 409.1,687.1 295.8,770.0 313.0,761.0 324.4,752.8 381.9,694.0 357.6,724.1 287.6,773.7 296.6,772.4 292.3,774.8 486.6,626.3 310.8,761.1 322.6,752.4 305.3,764.9 413.7,692.8 476.9,632.7 296.5,768.9 315.5,755.0 315.2,754.7 296.7,763.7 318.6,755.9 351.4,729.7 307.2,758.1 294.1,772.3 292.7,768.5 549.8,579.5 311.5,761.0 357.3,730.5 301.4,766.9 290.2,767.2 352.1,722.6 376.4,711.2 297.1,767.6 298.5,764.6 294.5,774.2 313.0,759.9 588.6,546.9 329.7,753.2 291.9,775.0 298.9,770.0 340.8,739.6 314.1,758.5 333.8,751.8 309.3,759.7 327.9,749.9 298.2,767.1 302.9,763.6 310.8,760.7 295.8,764.5 357.3,733.1 545.1,580.5 301.7,766.1 343.2,731.3 336.3,742.2 298.2,766.9 291.5,772.4 324.3,743.8 384.7,707.2 340.3,742.2 331.0,747.6 383.6,704.4 373.4,707.7 311.5,767.4 414.0,690.4 358.6,719.3 336.9,743.0 302.9,768.0 309.0,762.9 431.4,675.3 324.6,754.2 342.6,736.9 292.2,774.9 345.0,728.8 296.1,777.9 346.3,732.3 319.0,756.8 482.0,620.4 320.2,756.9 288.5,773.3 469.7,630.6 384.3,703.2 357.6,728.5 299.2,768.6 397.1,695.3 573.0,546.8 293.0,771.5 359.3,722.0 404.3,696.5 300.7,766.8 336.1,737.5 319.0,755.4 299.5,769.3 305.7,764.9 330.8,742.0 342.3,735.4 338.5,738.7 290.4,775.9 435.9,677.0 328.3,744.2 291.8,774.1 440.9,658.2 300.9,765.2 300.2,769.2 442.4,668.4 355.7,723.6 308.6,768.7 339.6,748.1 345.8,728.7 437.6,670.4 295.3,769.9 369.3,712.5 316.0,749.6 411.7,690.6 346.2,735.2 301.8,763.4 334.4,743.4 315.9,759.2 407.3,683.6 322.1,758.1 337.6,737.3 321.0,753.3 305.6,763.8 384.0,709.5 335.2,743.7 301.6,763.0 293.8,770.7 494.2,614.4 455.2,648.7 468.6,644.2 288.4,775.8 311.5,759.5 310.0,762.2 351.8,724.8 371.5,720.7 322.1,746.5 308.0,764.4 306.1,766.4 348.1,733.2 373.1,720.2 314.8,751.9 291.0,768.1 298.8,763.7 291.1,767.7 290.1,769.9 394.7,707.3 294.9,768.7 430.6,675.0 339.4,736.5 441.3,664.6 302.9,767.1 311.5,762.8 291.0,771.5 399.5,689.0 346.9,738.2 365.1,718.8 299.6,766.3 322.0,752.8 306.8,763.6 297.2,765.5 335.4,737.9 303.2,763.0 288.6,772.6 287.2,773.4 305.4,765.8 288.0,775.4 299.8,767.5 300.9,769.9 413.7,679.6 292.8,766.1 332.7,737.4 290.4,774.3 413.7,686.3 313.6,760.9 315.6,754.5 338.4,740.7 325.9,745.7 499.1,625.5 342.8,736.5 316.2,758.5 315.6,756.0 297.2,770.0 305.1,770.1 290.4,771.1 291.4,772.8 340.0,738.6 347.9,733.6 287.1,778.7 377.5,710.9 317.0,753.3 297.5,763.8 299.2,767.3 311.9,761.1 414.0,677.3 508.4,612.2 413.3,685.3 288.0,775.2 330.5,744.1 475.8,643.9 295.8,769.8 301.5,766.7 345.9,736.4 295.6,765.0 605.2,544.9 506.2,612.8 311.6,758.9 358.0,724.8 288.7,770.1 290.8,780.0 481.5,633.9 292.2,775.2 343.8,741.7 299.3,769.8 287.3,774.4 294.5,771.9 479.8,620.6 317.4,760.6 292.1,771.5 497.8,617.0 315.6,756.4 303.9,762.9 289.7,774.9 332.1,743.3 378.6,711.2 304.4,766.1 373.2,718.3 287.5,776.7 296.9,767.1 320.0,755.3 314.6,755.0 588.9,546.7 306.9,762.7 308.1,757.7 349.5,736.4 427.5,673.6 429.4,666.6 350.6,728.8 302.9,764.2 294.1,766.7 352.0,731.7 295.8,769.6 346.6,727.2 340.9,742.5 302.1,764.1 367.6,715.6 352.0,728.6 317.6,753.7 322.0,754.9 327.6,747.6 321.2,753.0 304.6,762.9 377.8,709.6 307.9,755.9 361.3,718.6 290.6,766.6 380.3,703.8 543.3,578.0 313.6,755.4 310.7,755.5 456.9,655.0 382.9,713.4 304.6,768.7 329.8,743.8 428.1,674.1 336.0,742.8 294.9,770.0 478.3,628.4 297.2,770.2 354.6,731.0 294.0,772.5 292.9,769.3 386.5,704.6 302.6,763.5 358.7,720.5 298.2,769.1 474.8,641.4 566.1,570.6 349.4,733.8 371.6,719.6 310.2,759.6 342.0,742.1 333.9,742.9 450.6,657.7 601.5,529.9 315.9,759.9 308.2,761.4 348.2,730.0 288.9,779.3 303.0,764.2 329.7,748.5 294.8,773.4 302.4,770.5 368.0,717.6 351.2,732.9 393.8,700.3 341.5,735.1 385.9,715.9 384.5,701.3 567.7,544.9 334.3,743.5 314.1,759.0 290.5,773.8 300.8,764.0 333.0,735.6 435.8,671.4 335.5,750.9 297.2,768.2 316.4,756.4 298.7,768.7 307.9,762.8 324.5,757.8 373.7,712.3 308.6,763.9 335.2,741.6 318.6,756.2 394.9,702.2 383.4,714.9 369.3,711.0 558.7,568.9 287.4,774.4 555.4,560.3 319.6,752.2 421.4,676.5 295.2,777.7 288.7,771.1 400.2,689.4 302.6,769.2 314.3,762.6 355.2,726.1 424.7,676.2 320.3,748.6 347.7,738.3 300.6,767.2 338.4,737.9 415.5,679.8 416.0,688.4 333.5,749.0 346.1,736.3 398.4,684.5 297.7,771.4 371.6,717.3 305.8,760.8 298.3,767.0 478.3,625.3 309.9,762.9 327.3,750.9 316.2,753.6 471.0,641.2 311.2,759.8 312.1,762.5 291.7,775.1 323.6,753.8 344.5,738.1 383.0,710.1 342.0,738.7 306.8,764.0 420.1,673.1 673.5,467.8 441.5,664.5 292.5,767.4 291.9,771.1 443.1,674.2 493.7,620.3 326.3,754.1 425.8,668.5 494.3,625.1 344.7,729.6 320.7,748.4 303.2,766.9 292.3,775.4 290.9,769.9 297.4,771.8 309.3,761.3 307.6,759.1 615.0,526.8 292.8,769.8 408.5,677.6 293.7,770.3 295.1,768.3 307.2,764.4 355.5,737.0 315.2,756.5 317.0,755.7 340.3,736.8 306.1,763.2 296.2,771.7 287.8,777.0 331.5,745.1 338.0,745.5 321.1,752.0 289.5,774.1 452.1,651.0 400.0,696.6 296.6,769.9 302.0,769.0 345.3,736.6 298.3,765.8 351.7,723.5 300.1,768.2 288.1,773.6 326.8,751.3 314.2,762.4 354.7,730.2 511.2,610.0 318.7,755.5 301.1,766.1 299.1,764.3 510.4,612.6 293.1,770.5 302.6,763.8 298.3,765.3 306.9,760.6 420.3,673.2 306.3,762.9 665.9,495.7 290.0,777.1 303.6,766.4 293.7,774.4 301.1,769.0 315.6,756.8 287.1,776.9 364.8,718.9 302.8,759.4 289.2,777.2 291.0,774.7 348.6,737.0 291.4,769.4 317.7,752.3 534.0,598.3 289.8,772.4 504.5,622.7 309.4,759.7 292.2,772.3 629.2,514.6 307.4,768.0 328.9,746.7 290.1,773.0 379.4,703.3 302.8,765.0 541.4,583.2 287.6,777.3 295.0,768.8 458.6,644.2 310.8,757.5 413.2,679.1 307.2,762.9 292.0,776.7 312.5,758.5 588.1,535.3 360.4,718.5 295.6,772.2 310.1,753.7 334.9,737.8 320.7,750.2 393.7,703.2 288.7,772.4 293.5,768.5 371.8,705.3 292.8,773.2 457.2,651.7 696.6,453.3 309.9,756.8 290.3,770.7 371.5,717.3 433.5,671.8 314.5,756.4 322.1,750.4 289.0,771.4 301.7,768.3 308.4,766.5 325.3,746.1 334.0,743.6 299.4,768.0 309.8,757.4 399.1,701.4 356.0,726.8 348.4,733.8 317.6,753.6 369.7,716.6 339.8,736.5 484.9,636.7 308.0,763.1 305.5,766.3 337.0,737.2 311.0,755.6 381.5,707.1 377.9,707.1 288.2,775.4 429.7,674.5 297.7,764.3 326.0,749.6 306.4,758.6 293.4,763.9 321.2,756.4 314.2,755.6 413.5,685.0 302.4,764.3 298.9,775.1 332.3,742.4 302.3,768.3 353.8,727.2 308.1,760.2 408.0,683.2 329.2,746.8 356.0,725.4 295.4,770.9 310.4,764.9 575.4,559.2 390.3,703.2 343.7,737.2 287.1,774.9 304.3,763.6 318.4,751.0 297.6,762.4 366.2,723.4 379.9,708.0 312.6,757.1 305.4,764.3 448.0,653.1 403.2,702.4 325.7,747.1 304.3,764.9 328.1,754.1 366.3,720.0 293.2,765.5 429.9,671.4 332.0,737.6 318.6,747.0 296.5,768.4 288.7,775.3 346.2,731.4 348.9,726.4 381.6,699.0 288.1,773.7 292.3,774.7 332.4,739.1 392.0,708.3 450.9,656.0 350.0,730.8 300.6,765.0 330.4,747.9 289.7,773.2 296.6,766.4 414.7,682.0 289.3,776.5 459.9,642.9 520.0,599.4 707.1,460.6 292.2,774.3 363.8,712.8 477.2,635.2 301.0,764.6 295.1,771.6 324.8,750.4 290.7,773.2 389.7,703.5 341.8,734.5 313.9,754.0 355.8,723.4 533.8,591.6 296.9,771.0 304.7,770.3 313.3,754.4 289.0,775.1 599.8,545.1 297.3,772.4 535.6,581.7 329.9,747.2 307.5,759.5 315.4,755.8 541.9,575.4 309.7,759.6 309.5,769.0 329.5,741.9 357.4,730.7 310.4,755.0 330.5,745.3 433.5,672.3 332.8,745.9 328.3,750.2 311.5,758.0 308.1,759.9 289.9,777.6 287.2,780.9 304.6,759.9 312.9,757.0 328.4,751.9 295.2,766.9 310.0,756.3 298.8,766.3 305.0,762.1 288.6,776.0 328.4,755.9 287.5,772.8 337.5,743.4 383.5,696.5 307.5,763.3 288.0,773.0 296.5,771.7 373.2,720.1 350.1,733.1 311.9,752.0 420.0,678.2 640.5,520.3 347.6,728.9 322.5,747.6 381.2,711.4 359.2,723.7 299.1,767.6 320.3,755.8 294.3,770.5 297.2,773.9 290.4,772.1 465.6,637.1 287.3,777.9 287.0,773.4 302.8,762.8 340.1,736.5 298.7,763.3 291.8,772.3 300.0,769.5 307.0,759.8 519.3,597.7 317.6,762.2 292.7,771.6 287.3,777.6 333.3,745.2 366.2,718.6 480.3,622.0 374.1,711.2 323.1,753.5 306.5,764.6 299.7,766.6 297.9,767.2 423.3,660.8 454.6,657.7 305.0,765.7 393.1,693.9 351.2,731.7 305.2,763.1 334.1,749.0 327.1,754.1 572.1,552.4 293.4,774.5 317.7,752.4 297.5,770.2 550.1,572.9 355.7,722.0 308.7,763.9 291.4,775.1 346.6,729.3 409.2,686.5 339.2,739.9 348.7,728.6 363.2,725.5 293.5,771.4 357.5,730.8 327.3,752.9 374.8,709.6 308.7,757.3 482.4,629.1 311.3,764.3 310.5,760.4 314.2,756.3 384.8,705.1 314.9,753.1 346.7,736.9 508.9,607.6 373.7,715.0 344.7,735.6 339.5,740.5 310.2,758.6 302.3,769.6 291.8,773.4 302.1,764.7 376.5,707.4 592.6,534.2 305.8,762.7 322.6,747.7 287.6,771.1 350.4,731.4 341.8,730.0 349.9,725.3 331.2,746.4 326.6,749.3 321.6,753.9 306.9,762.9 299.4,766.4 358.6,723.6 342.8,738.2 293.1,770.1 303.0,761.3 299.6,764.5 288.8,772.3 423.2,677.8 300.1,768.1 302.6,760.1 291.1,772.7 287.0,777.9 388.2,698.1 315.1,751.3 389.7,708.6 316.9,750.0 313.7,761.0 310.4,757.2 345.4,734.4 302.0,767.8 302.9,768.3 450.5,661.2 341.0,742.7 359.9,725.3 331.9,741.3 313.1,759.1 290.1,767.5 384.3,706.6 316.3,758.3 306.7,762.7 307.7,756.6 355.1,730.4 312.9,758.4 319.6,750.3 287.2,776.9 375.0,710.1 296.0,770.3 412.6,685.1 371.4,715.7 363.0,722.5 301.4,763.9 293.5,776.3 304.5,768.4 317.0,757.1 363.6,727.6 425.7,679.4 306.0,767.2 303.1,765.6 349.2,738.6 329.2,748.0 340.3,741.1 297.2,765.8 327.5,753.8 319.0,759.8 459.4,658.1 309.2,764.8 289.7,776.8 299.4,765.8 334.1,746.4 421.7,678.7 369.1,717.8 359.3,722.3 360.5,729.5 355.4,730.9 298.4,768.5 327.2,744.1 346.7,736.7 613.7,532.4 408.0,684.2 297.0,769.1 549.8,576.1 503.8,602.1 372.9,717.7 348.0,730.2 289.0,768.6 308.9,762.9 297.8,761.6 430.4,666.9 317.3,754.4 338.8,734.6 317.7,754.5 302.9,773.5 314.6,756.5 344.9,736.0 322.6,756.7 419.6,675.2 308.6,763.3 451.1,660.2 358.1,716.3 714.5,439.7 294.9,765.7 287.9,769.6 426.3,680.9 362.2,714.4 292.0,775.6 322.1,755.5 319.9,752.4 289.5,775.1 327.8,742.2 290.2,774.7 635.0,505.9 466.3,643.2 372.7,717.6 290.4,774.3 443.1,663.6 332.7,743.8 349.6,732.2 300.1,764.5 366.9,719.8 305.0,763.0 300.6,761.6 303.6,763.3 318.5,745.3 380.8,707.6 318.7,753.3 405.6,686.3 301.0,762.8 404.4,686.3 298.5,768.2 411.2,686.2 314.7,758.4 291.1,772.9 335.6,747.6 734.8,441.2 301.5,769.9 328.8,742.4 315.7,755.6 294.2,767.7 291.2,773.6 290.7,772.1 417.4,684.9 420.1,688.9 305.5,764.4 337.4,742.6 320.1,755.5 511.0,617.6 384.9,702.3 292.0,769.9 293.0,770.0 347.8,728.8 295.4,772.7 354.8,725.4 332.2,744.9 287.8,776.6 349.3,731.8 335.1,745.9 399.3,695.9 290.1,773.6 371.0,723.3 292.3,767.5 325.2,746.6 293.8,768.7 291.3,767.5 351.5,727.6 475.9,631.8 395.8,688.8 309.2,762.6 294.9,774.7 291.2,769.9 392.0,700.9 341.9,733.6 378.9,706.6 294.0,773.3 407.0,688.7 325.2,753.6 334.1,743.2 348.2,733.3 346.8,730.6 307.4,756.2 336.1,740.8 426.4,675.2 327.1,748.1 287.1,775.8 318.5,756.0 289.6,773.2 299.2,771.2 314.0,760.4 520.5,598.8 305.1,760.8 416.1,678.7 325.9,750.3 309.1,757.4 314.6,756.1 353.7,721.6 382.0,704.9 317.6,755.1 310.3,764.1 301.4,762.2 292.2,769.1 632.1,502.7 372.3,716.9 294.8,773.9 294.7,766.3 335.5,742.2 357.0,735.9 287.5,773.2 293.1,775.5 508.6,600.6 327.3,744.7 290.5,779.4 301.6,765.1 301.6,766.2 287.2,773.5 375.7,717.4 406.9,695.8 295.0,767.6 297.7,774.9 353.3,729.3 348.8,730.5 360.6,720.2 312.9,757.3 443.9,647.2 294.6,766.9 324.5,750.9 409.2,687.5 297.1,771.4 307.3,761.7 349.8,723.2 339.8,736.4 336.1,742.1 344.0,740.3 346.5,743.3 301.0,766.8 409.9,690.2 486.6,624.8 316.8,759.4 364.7,717.1 318.4,755.4 353.8,730.9 669.6,481.1 373.2,716.0 422.6,676.8 317.7,757.5 291.0,771.6 412.4,693.2 301.9,766.3 404.7,687.3 377.1,707.0 287.3,773.7 293.1,767.6 363.8,719.9 296.2,761.5 302.7,767.1 293.7,777.6 329.3,754.5 287.3,781.2 389.5,701.7 386.5,712.0 288.1,779.4 332.4,742.2 388.4,711.1 462.1,646.0 355.7,723.6 311.2,755.8 322.6,750.9 337.2,746.1 290.8,776.3 308.6,756.8 294.9,765.5 287.1,776.9 300.6,764.1 323.0,748.9 317.3,756.6 294.2,767.7 316.4,759.0 289.2,772.4 425.0,671.5 349.7,732.2 293.0,773.6 320.4,748.1 308.6,764.1 326.8,751.9 331.2,750.5 316.3,756.8 405.0,690.9 288.3,777.3 294.7,767.1 314.6,756.9 299.5,765.7 289.6,778.3 306.0,764.3 315.9,751.1 361.4,718.3 305.9,761.8 300.4,763.2 314.3,755.0 354.5,726.7 304.7,762.8 303.8,763.1 335.7,743.4 306.9,756.8 292.8,764.1 606.8,530.2 290.7,773.2 293.4,763.9 383.3,703.9 467.5,638.1 402.2,689.3 356.0,726.2 557.3,571.3 327.6,745.3 295.8,774.4 287.8,771.6 404.9,681.9 315.6,757.1 287.5,776.2 470.0,627.3 324.5,750.6 292.9,773.3 342.4,733.2 299.8,770.6 470.4,652.5 287.8,774.8 394.1,700.4 297.4,771.1 398.2,698.4 553.2,576.6 307.3,763.1 292.6,778.9 296.7,766.6 440.0,664.9 345.4,736.0 500.7,618.0 313.5,755.1 379.5,707.4 288.0,767.8 477.9,647.6 323.2,748.2 306.4,759.5 290.1,782.5 371.2,712.6 288.9,774.5 296.7,769.6 329.0,747.0 357.3,724.0 420.6,679.9 393.6,701.9 326.6,745.4 292.6,771.8 325.2,746.8 287.7,766.6 413.3,690.7 293.9,773.8 399.9,697.2 302.2,766.0 288.8,769.0 325.4,748.1 300.9,762.9 307.0,756.1 343.2,743.9 298.6,769.1 293.9,773.2 354.7,726.0 298.7,771.2 348.6,725.8 423.8,678.3 304.2,766.9 309.5,764.2 336.9,745.9 334.5,743.1 312.8,760.4 294.5,769.6 358.9,726.6 314.1,755.9 328.2,746.9 419.3,673.0 309.4,758.4 291.8,774.1 339.1,734.8 304.3,766.2 366.3,722.9 345.6,731.2 431.1,677.1 343.5,738.8 287.4,780.1 377.2,717.7 312.5,757.7 303.3,768.1 317.2,749.8 306.1,758.4 296.8,768.1 293.5,773.5 339.8,739.1 294.3,771.7 314.8,753.3 313.7,764.2 292.0,772.9 297.1,768.8 292.7,770.6 288.1,772.7 348.8,733.8 315.3,754.7 308.5,765.4 371.0,710.5 303.4,763.8 390.3,701.6 310.5,756.4 310.1,762.7 503.7,625.5 294.2,769.3 335.5,741.9 365.6,721.1 338.7,742.4 288.2,773.4 336.6,738.2 291.1,775.9 295.5,774.6 607.8,525.9 321.9,755.8 492.9,613.9 294.4,766.3 317.0,757.5 346.2,725.2 295.5,771.0 365.5,720.0 336.6,741.8 439.5,661.2 306.3,760.3 378.0,708.6 386.7,707.1 292.8,772.9 305.3,768.8 341.7,741.4 306.4,762.4 333.9,743.4 347.0,735.8 303.7,764.1 346.8,736.7 548.7,576.8 312.1,758.8 287.3,772.3 389.5,696.6 303.8,768.0 300.5,768.1 316.9,761.6 321.7,745.5 299.8,774.2 315.6,756.8 323.2,756.6 350.7,730.7 351.4,729.4 291.2,771.0 313.6,760.1 291.8,770.3 290.9,775.3 336.9,744.7 327.2,751.3 310.9,762.4 416.0,672.6 304.9,761.1 464.1,640.9 334.9,750.1 414.1,683.6 361.1,720.4 586.2,560.0 440.6,657.3 295.0,773.9 290.9,773.2 290.1,772.8 318.8,754.8 359.2,724.6 316.1,754.7 402.2,686.1 311.7,754.2 349.7,726.2 427.5,672.2 333.6,750.9 355.5,731.8 333.7,745.4 404.7,686.9 340.7,733.9 314.1,758.9 289.3,776.2 308.2,761.4 302.3,765.1 318.7,752.1 315.9,753.8 349.9,732.3 407.6,700.8 354.4,729.8 316.2,764.4 291.6,773.2 435.9,651.1 313.3,754.1 376.6,709.7 429.1,659.2 288.4,778.0 446.9,655.7 399.0,691.8 301.8,768.3 294.8,772.4 313.7,755.5 310.5,759.3 319.7,755.7 292.0,772.7 491.1,619.3 359.7,724.9 311.6,761.8 291.8,771.3 308.7,761.8 302.2,765.4 300.2,770.9 333.8,743.8 313.9,759.0 290.9,777.6 292.1,767.4 303.3,764.6 306.5,762.1 302.6,762.7 302.4,761.1 354.9,723.5 344.9,737.8 288.3,774.0 290.9,774.9 299.3,768.4 324.6,749.0 313.8,753.8 303.7,768.3 377.9,706.7 516.8,601.0 292.6,775.2 306.8,753.1 307.4,762.6 442.2,654.6 481.1,631.8 302.6,764.3 509.9,602.9 311.9,758.9 304.5,764.2 310.7,755.7 330.0,742.5 346.7,724.1 319.4,752.8 291.2,778.4 298.1,773.0 459.3,645.1 298.5,771.4 343.3,741.8 319.0,750.2 327.6,753.8 353.0,735.6 366.4,718.2 290.2,769.7 301.5,763.5 368.9,722.1 587.8,540.1 301.2,769.7 308.6,760.4 296.8,778.4 321.7,756.6 314.0,756.4 335.6,742.7 363.3,719.6 370.5,726.6 459.1,640.0 287.3,772.6 310.0,753.4 328.0,749.8 310.3,757.1 484.6,624.7 305.4,764.2 312.0,757.3 314.9,756.7 348.1,730.0 295.9,770.4 368.8,716.7 440.0,667.8 327.0,750.0 303.9,763.9 513.9,603.7 288.4,773.4 324.7,747.1 459.0,653.2 513.1,611.8 320.2,759.0 301.3,762.1 518.1,588.9 302.9,764.0 298.6,766.0 315.1,759.4 315.9,755.8 345.8,728.8 315.5,755.4 323.5,755.9 296.9,768.2 389.4,701.5 392.6,694.8 460.5,637.0 288.7,774.2 361.9,720.1 296.6,766.1 313.5,760.8 299.1,768.4 347.6,739.5 289.4,773.1 317.4,752.7 387.3,701.3 515.0,601.7 315.3,759.1 331.3,748.2 289.1,770.0 324.7,747.8 318.8,755.4 343.5,733.7 329.7,749.2 332.1,748.2 410.2,683.8 513.8,606.4 405.8,687.5 382.7,695.1 348.7,730.4 348.6,731.5 325.8,742.1 288.4,777.0 304.7,764.4 340.0,740.5 321.4,752.6 304.0,756.9 350.9,738.3 299.3,763.3 309.0,765.4 406.7,696.8 300.2,767.4 298.2,768.5 319.6,754.6 317.1,759.1 324.5,747.9 339.0,744.3 378.2,706.9 518.0,582.5 393.9,704.7 292.3,771.2 422.1,676.0 288.8,779.1 308.7,761.1 376.7,706.4 417.4,675.1 773.7,396.0 330.1,748.2 304.7,764.3 358.5,728.4 346.3,729.2 291.8,774.6 402.1,697.4 314.1,759.3 317.1,749.4 325.1,755.3 295.2,767.2 415.3,677.5 297.5,770.4 304.8,763.1 301.6,770.8 288.0,773.5 291.4,771.0 310.4,762.5 295.3,769.4 301.1,766.2 288.2,772.7 297.3,766.4 334.3,738.9 295.7,770.1 317.7,752.8 295.8,766.8 324.3,744.4 345.5,734.0 339.0,741.1 291.3,774.6 296.5,769.5 318.0,760.5 444.7,665.8 429.8,666.8 307.9,754.9 345.1,729.3 310.7,761.7 323.7,746.3 295.3,768.8 324.6,751.7 297.3,764.3 298.5,764.9 309.4,757.5 520.2,596.0 287.4,771.8 306.0,763.9 289.3,774.7 293.7,772.9 296.8,766.0 395.9,693.8 473.6,630.3 382.7,707.8 313.3,758.7 356.5,726.0 323.6,750.5 321.8,752.6 308.1,756.6 306.8,761.6 335.1,751.2 317.4,757.0 326.1,748.0 323.5,750.1 380.4,707.6 306.8,763.0 397.9,686.9 303.0,767.5 378.6,705.6 289.8,770.4 543.0,573.5 590.6,526.5 349.0,735.1 323.5,752.9 301.3,764.7 309.7,758.4 303.2,762.8 290.1,775.3 303.7,765.6 309.8,754.8 299.2,765.1 522.3,593.3 331.3,741.9 308.8,754.7 291.2,772.9 402.1,689.7 333.2,744.7 477.9,631.0 304.3,761.8 342.2,739.5 389.9,707.3 300.2,769.3 299.7,773.8 303.5,768.0 354.3,728.1 303.8,762.8 296.3,764.4 341.5,736.6 310.0,762.6 312.7,757.4 289.1,775.0 326.6,744.8 301.4,762.4 319.4,759.2 298.9,768.4 287.1,768.6 361.5,717.0 309.0,761.4 421.6,691.0 378.4,706.2 292.3,770.6 511.6,608.1 300.4,763.9 437.0,663.4 385.5,701.3 296.3,770.1 349.0,732.3 310.7,758.3 438.7,665.8 400.6,698.9 291.9,776.1 387.6,701.3 331.7,747.9 295.9,772.4 350.5,733.4 324.3,747.9 309.1,767.9 327.6,756.4 296.0,769.0 372.4,715.2 447.1,648.8 395.3,698.6 321.7,757.2 300.3,766.0 306.2,761.9 292.3,770.9 370.9,713.8 319.7,746.2 295.0,771.4 353.4,727.0 292.1,772.4 370.3,723.7 309.1,765.0 301.9,767.0 312.9,762.5 372.4,708.0 349.5,732.0 291.2,775.9 311.4,761.9 320.8,752.7 304.2,766.5 309.8,764.2 531.5,600.0 313.2,758.3 314.5,751.5 328.9,755.5 312.5,760.0 438.6,664.4 297.7,771.4 293.5,764.4 291.4,772.3 318.2,760.6 349.1,731.1 407.3,694.6 498.8,612.5 295.5,770.2 299.8,763.6 292.6,775.1 287.0,774.5 329.4,741.2 288.0,775.8 336.5,745.4 360.1,725.4 290.6,772.6 302.6,766.8 333.8,742.1 318.9,750.5 383.1,710.6 324.8,755.6 336.0,745.3 327.5,754.0 348.8,735.5 401.7,694.0 317.4,761.3 323.6,751.0 559.4,568.4 399.7,702.6 290.6,774.9 321.9,758.1 296.7,767.7 292.2,773.5 339.7,737.8 298.0,764.4 321.6,750.6 289.0,774.8 306.3,762.5 290.8,775.1 308.5,762.1 538.5,574.0 288.3,777.1 326.0,750.2 300.5,766.6 373.1,713.1 383.3,703.6 293.7,775.5 293.9,773.3 291.9,773.3 452.7,652.9 404.9,687.7 300.7,766.0 294.9,770.8 289.9,777.1 313.8,762.2 328.4,752.3 293.6,769.3 330.0,741.5 288.8,777.6 289.8,778.7 310.7,761.7 340.8,738.1 375.9,715.2 291.4,774.1 289.3,772.6 459.5,647.3 293.7,773.3 413.6,691.3 297.9,769.6 299.3,764.8 292.2,778.1 318.2,750.3 310.4,760.2 353.0,723.8 350.0,734.7 324.2,753.9 372.8,721.0 399.0,694.2 293.4,771.6 482.4,633.1 303.8,765.1 309.6,759.9 340.3,742.3 400.4,689.7 410.2,695.2 294.7,772.7 597.1,537.7 295.7,771.4 321.8,752.3 359.8,731.3 308.2,763.3 324.8,751.0 292.3,777.2 303.1,764.0 313.1,763.0 351.5,734.3 474.3,646.4 425.0,674.8 516.6,610.6 493.2,619.6 293.8,769.2 332.8,746.2 295.1,769.3 392.2,692.0 504.3,626.1 314.2,763.9 301.1,761.5 310.3,763.8 288.0,766.6 301.3,764.2 313.2,766.4 310.1,758.1 489.1,627.5 304.1,764.8 304.2,762.4 352.7,732.4 292.1,773.9 427.9,672.8 370.3,724.4 297.7,770.1 632.0,512.2 292.8,772.3 314.7,757.3 298.9,768.4 307.0,769.5 308.2,765.2 482.3,644.3 296.9,768.7 340.9,735.2 318.7,754.4 329.8,754.1 335.2,744.4 288.2,772.8 313.1,757.2 304.2,762.5 317.8,752.8 289.4,777.8 342.4,736.7 306.0,762.7 373.5,718.8 348.7,735.1 358.2,726.2 303.0,759.4 298.6,765.2 298.2,768.7 287.8,775.3 300.2,772.6 325.3,750.1 398.4,690.5 336.5,743.4 366.6,717.1 331.1,741.1 306.7,764.1 525.9,607.4 298.2,769.1 303.3,765.9 297.2,760.8 397.9,696.3 306.7,763.5 323.3,748.1 314.6,760.1 674.8,482.6 348.5,733.5 327.2,749.5 292.7,771.1 296.3,769.4 347.8,742.4 349.3,727.9 583.8,553.0 337.5,738.6 773.6,402.1 310.1,758.8 656.9,484.4 342.9,737.8 312.3,760.7 301.2,767.1 310.8,754.4 305.6,764.6 320.2,755.7 675.2,465.0 336.6,744.3 293.6,769.1 291.1,775.1 322.5,749.8 356.8,720.1 351.1,725.4 374.2,715.3 367.4,716.1 295.8,766.4 580.7,550.7 311.3,753.6 462.5,636.7 311.0,754.3 292.6,772.0 299.9,766.2 289.3,778.0 395.4,701.8 325.3,748.0 309.2,763.5 298.1,768.4 312.4,762.5 329.2,749.6 330.7,750.3 303.6,764.0 331.2,748.2 292.1,772.0 304.6,762.4 713.7,451.7 385.8,704.5 295.7,762.8 447.2,654.9 338.4,734.3 327.0,743.6 301.5,763.5 323.4,749.4 289.9,778.9 345.4,733.1 298.0,771.8 325.6,754.3 469.1,641.5 345.2,730.6 360.1,721.3 289.0,772.1 299.6,765.0 405.3,685.8 314.2,761.2 317.7,758.9 305.2,763.6 319.3,750.5 330.4,746.3 337.3,743.8 339.7,741.2 374.6,715.2 326.9,751.0 301.4,769.9 304.6,759.1 321.4,752.0 319.4,759.6 378.8,709.0 304.3,762.8 385.9,700.4 289.4,777.3 382.6,715.8 315.9,748.8 295.7,774.2 287.5,779.8 347.0,733.0 592.9,534.2 370.0,712.0 312.9,761.3 296.7,769.4 288.7,776.9 299.1,767.9 288.7,776.7 325.7,741.0 436.9,659.1 580.3,553.1 298.8,768.5 341.8,732.4 301.2,768.8 298.9,768.9 299.1,769.4 434.7,667.5 328.8,741.4 296.0,772.0 299.0,772.0 375.2,717.7 424.5,678.8 416.8,688.7 354.9,732.9 289.9,776.5 320.8,751.4 330.1,745.6 512.9,609.5 400.3,691.8 324.8,750.2 342.5,737.5 363.7,725.0 290.3,771.1 316.5,756.2 344.1,736.8 372.1,716.6 300.7,766.4 324.6,750.8 296.0,773.8 384.6,708.4 295.0,774.4 321.3,760.8 373.6,719.7 348.8,722.2 385.2,713.6 321.3,753.1 289.4,771.8 346.7,734.7 292.9,772.3 349.1,736.3 306.8,765.2 351.7,733.1 382.3,712.8 401.9,693.3 300.4,765.1 352.6,725.9 331.4,739.4 287.9,773.3 299.0,757.4 289.1,773.8 435.4,673.4 402.3,699.6 319.6,753.0 291.0,770.4 287.3,772.5 315.5,756.6 316.4,751.5 290.3,773.3 569.1,562.7 310.3,760.8 327.6,747.9 293.1,769.7 310.7,764.1 382.4,712.0 296.9,765.4 297.6,769.9 295.9,766.0 312.7,756.4 320.6,752.0 428.4,665.3 293.0,772.2 298.4,766.1 343.3,733.2 353.8,724.1 357.3,729.8 356.6,726.4 391.6,692.5 343.1,733.7 298.7,763.6 292.3,767.2 292.4,774.0 317.3,755.4 296.9,764.4 293.5,769.6 360.3,727.2 328.8,745.6 325.1,748.5 391.0,703.0 302.1,767.1 363.2,717.3 315.5,754.1 320.8,756.6 331.7,748.3 287.1,776.4 287.3,775.3 363.4,721.5 328.4,750.5 304.1,763.4 379.3,718.8 318.5,757.4 341.3,737.8 298.2,768.3 376.0,712.2 290.7,772.1 294.3,770.3 287.4,776.3 370.2,708.9 338.2,740.6 290.7,764.9 620.7,533.7 342.4,733.6 299.4,771.7 508.4,622.1 319.2,757.4 366.9,729.1 289.5,775.7 317.6,755.5 292.6,775.2 288.3,776.2 470.2,637.2 366.2,722.0 488.4,619.6 336.5,744.3 303.9,758.6 386.7,703.9 292.6,776.3 330.0,743.9 293.6,770.6 302.2,770.8 306.1,756.7 291.0,774.4 307.7,760.1 314.3,748.3 299.3,769.9 309.6,763.2 296.0,768.3 293.5,779.1 297.8,765.1 435.5,671.9 379.8,702.2 338.9,735.0 296.3,773.2 455.2,659.8 305.8,759.2 366.6,724.3 320.5,753.0 314.1,756.0 364.2,716.8 381.9,707.0 293.2,774.1 496.6,613.6 314.1,756.0 370.0,711.2 362.8,726.2 287.6,770.2 313.0,756.5 293.4,772.4 310.6,757.9 367.5,718.5 315.9,762.6 353.4,731.5 328.8,746.0 361.2,721.7 308.0,761.0 384.6,709.0 354.6,732.2 326.4,748.4 502.7,615.4 292.5,770.9 489.4,629.7 295.1,772.3 296.8,771.3 325.0,751.0 311.5,761.5 289.2,774.4 296.7,770.9 514.6,596.1 288.7,776.8 307.3,765.5 310.9,758.4 288.5,769.4 288.3,775.3 323.2,755.5 327.6,745.5 290.7,776.6 409.8,686.7 321.7,753.3 447.0,665.3 563.0,558.5 322.6,750.5 316.4,756.6 338.0,739.4 292.4,776.0 292.5,773.1 318.0,753.8 548.9,571.4 330.7,752.6 290.0,772.3 333.0,748.1 289.6,780.8 298.0,765.9 428.6,665.9 366.9,723.3 367.3,714.8 329.8,746.4 294.5,768.2 345.2,727.6 325.4,745.4 398.2,694.2 308.0,765.7 329.7,749.2 442.3,663.7 331.9,747.3 769.0,402.7 525.7,591.9 563.9,550.0 417.1,674.3 296.0,774.0 439.8,648.9 312.6,758.7 293.8,772.6 294.0,776.8 298.9,767.4 339.3,730.6 314.9,757.0 320.4,751.3 288.7,773.1 290.1,770.2 346.5,736.8 316.3,758.8 379.2,706.2 290.0,770.5 314.4,759.6 312.1,757.6 333.6,739.9 502.0,612.5 434.8,669.7 291.5,765.8 293.9,766.3 323.3,748.9 357.2,726.4 306.1,767.4 314.3,758.9 318.8,754.1 497.2,625.5 287.2,772.1 362.2,727.5 306.8,757.0 293.3,772.8 511.6,613.2 291.9,773.3 320.5,751.3 323.8,747.1 317.1,759.2 303.7,762.6 357.0,727.9 722.5,452.1 294.6,774.4 294.2,767.0 384.9,711.7 302.8,767.5 390.2,700.9 308.7,756.2 477.2,648.8 306.8,762.2 332.9,743.6 299.0,773.4 345.8,736.3 313.8,759.0 319.8,751.7 292.6,773.1 346.9,735.9 325.7,748.9 311.6,755.7 319.9,758.2 339.0,739.5 290.2,774.3 335.8,742.3 293.0,768.8 326.6,751.1 335.9,747.7 367.0,719.6 348.1,738.1 307.1,757.0 336.2,736.6 320.9,756.7 287.2,775.5 287.1,780.9 329.5,747.5 394.0,700.8 359.5,716.1 328.0,746.2 550.6,573.4 383.3,700.9 308.7,762.8 361.7,719.6 303.2,767.5 441.1,666.3 364.2,712.1 299.5,776.3 365.8,716.8 319.1,756.8 404.0,685.7 313.2,760.9 305.9,762.8 519.7,611.0 320.5,749.3 358.9,728.0 297.6,773.6 289.0,784.5 384.5,714.5 294.2,768.6 289.2,778.4 303.6,769.5 307.0,762.6 372.9,715.0 310.2,760.0 299.8,768.4 319.4,747.5 292.6,775.9 353.5,731.7 327.6,749.3 432.0,666.4 486.9,617.0 336.2,738.7 291.6,771.4 317.8,744.7 592.6,547.5 470.3,630.9 373.8,713.7 305.8,762.6 293.9,768.9 311.6,755.0 354.6,730.8 344.3,736.3 287.5,778.4 298.2,777.3 386.9,693.0 295.0,770.0 306.1,763.5 312.2,761.8 289.0,775.2 338.4,738.8 297.1,765.1 337.5,739.7 292.9,771.4 356.9,729.0 561.2,566.1 296.3,776.0 359.5,726.6 573.6,556.4 295.5,764.9 301.5,772.2 289.0,778.8 312.2,756.3 414.9,695.7 339.9,730.4 528.1,592.8 351.2,726.8 307.8,760.0 367.6,725.9 356.1,724.3 318.4,758.0 335.2,743.4 300.6,766.9 287.2,774.8 344.5,732.4 417.8,680.2 318.5,750.7 327.5,747.3 288.1,776.8 349.8,729.8 317.3,757.0 385.6,700.7 311.8,760.6 355.7,728.6 386.1,699.4 328.0,754.6 377.2,708.8 344.7,737.5 346.0,731.6 350.7,728.3 293.1,774.9 318.1,753.3 456.0,641.0 357.0,727.8 325.3,747.2 318.5,746.2 313.0,765.1 372.1,715.8 298.2,762.3 341.8,738.2 320.2,754.0 393.7,704.0 298.0,777.5 337.0,738.3 312.7,754.2 384.7,702.5 313.6,761.6 354.1,736.5 299.8,766.6 298.7,763.2 287.8,773.9 331.0,743.8 353.3,721.6 389.7,704.2 365.4,720.7 355.8,723.1 336.3,743.3 288.2,777.3 333.4,745.6 300.3,764.9 288.1,777.5 312.3,760.2 302.1,765.0 301.3,769.4 312.7,760.6 307.5,761.6 314.7,756.5 363.6,724.7 357.0,728.6 295.8,767.0 354.2,730.3 349.2,732.2 300.3,767.6 363.1,724.6 355.3,724.5 361.7,724.0 291.5,778.5 428.9,662.6 382.4,708.4 379.9,708.4 308.0,761.0 287.5,776.8 459.2,655.8 290.7,776.4 299.8,769.5 337.1,738.7 292.9,773.0 294.6,769.3 309.6,768.9 287.2,778.8 390.4,700.7 324.0,754.9 293.8,769.0 320.2,754.3 297.4,770.1 469.3,647.6 449.0,658.1 298.9,773.1 288.9,771.6 305.9,762.5 347.0,735.1 323.3,755.3 388.0,700.9 361.0,727.0 292.5,768.9 345.3,732.5 304.8,766.7 292.4,773.0 471.0,628.3 337.5,738.6 605.9,525.5 396.5,699.4 289.2,771.9 332.6,749.4 308.6,759.5 353.5,725.0 302.8,766.4 295.3,769.0 371.0,717.6 302.5,766.7 338.5,739.3 418.7,677.5 348.8,731.9 397.6,693.4 371.3,720.3 364.5,727.1 404.3,688.4 301.0,774.8 288.9,779.9 326.3,754.1 454.3,648.2 345.5,732.4 294.1,761.2 328.1,749.2 388.1,704.7 288.2,775.4 306.2,767.9 323.1,748.1 305.3,767.0 315.6,759.5 288.9,774.0 372.0,717.5 407.5,685.8 307.5,760.0 288.8,772.2 338.3,740.5 290.0,776.6 295.7,770.2 320.5,757.2 304.0,769.9 333.3,750.0 490.4,618.0 291.2,777.6 358.8,720.1 562.3,566.1 569.2,562.9 404.3,690.5 358.8,718.2 368.1,724.5 338.3,738.8 332.6,746.5 309.4,764.7 529.7,608.3 303.5,768.5 324.5,754.1 324.8,750.3 422.8,672.0 343.1,735.3 310.6,761.2 326.8,743.0 376.9,714.3 524.3,597.5 307.5,763.5 322.9,749.4 452.4,651.3 329.7,746.9 287.0,773.8 289.2,773.5 338.6,742.6 325.5,746.5 301.3,768.2 287.8,777.3 306.4,760.7 427.4,676.0 422.5,676.8 393.9,685.5 363.3,717.7 322.1,754.0 329.8,748.6 296.7,766.2 288.3,773.7 359.2,728.5 301.0,764.5 289.6,779.2 541.0,574.0 301.7,762.0 335.2,736.5 294.4,775.1 600.0,532.3 299.5,761.1 315.7,755.0 306.3,763.7 316.8,751.2 362.6,728.1 332.4,744.9 312.8,757.1 376.8,713.4 535.3,587.7 291.0,770.1 295.2,767.7 289.9,773.9 339.0,744.2 290.6,778.2 292.3,775.1 445.2,662.7 364.4,723.9 287.0,766.7 354.0,729.2 350.2,731.8 374.7,709.9 295.0,774.7 334.3,745.4 420.3,675.1 323.3,753.8 380.7,703.5 448.8,660.6 310.4,759.4 527.1,584.8 336.7,737.3 289.7,773.5 369.7,716.0 400.0,690.0 319.6,755.2 291.9,775.9 329.1,743.6 323.1,747.4 309.2,760.1 333.6,744.6 296.3,773.3 321.9,754.3 453.5,655.2 326.2,748.3 330.3,743.2 346.8,733.5 343.0,735.1 320.2,757.8 469.9,639.5 544.6,571.8 345.0,737.8 340.6,745.6 291.9,770.3 354.1,722.2 302.4,763.3 296.2,771.2 311.6,757.3 306.7,769.7 382.1,706.9 296.0,772.2 406.6,682.8 287.1,778.6 301.4,759.6 352.5,719.7 301.5,759.9 318.7,751.1 287.5,777.6 299.2,768.7 327.4,744.9 309.8,759.4 367.8,720.8 316.6,756.7 422.6,681.2 294.3,769.6 408.1,688.0 371.1,709.7 293.6,769.1 391.9,701.6 288.6,770.2 315.7,764.2 344.7,740.9 312.5,760.7 347.8,730.9 311.5,753.1 531.9,585.3 377.8,709.1 295.8,770.0 345.0,742.0 296.7,771.3 300.7,763.3 343.6,734.9 308.0,763.8 490.0,624.9 355.6,729.9 387.0,712.9 307.3,763.1 289.9,775.8 293.3,775.5 309.5,761.5 298.1,769.5 288.9,773.9 313.7,757.9 299.3,767.1 472.0,640.3 300.7,769.2 332.1,745.3 327.1,748.7 295.6,767.0 610.1,529.0 323.2,753.7 330.0,743.6 412.8,684.3 299.1,765.2 304.3,757.4 316.7,753.1 672.4,490.8 290.5,776.3 306.5,761.3 372.2,722.2 289.1,775.8 327.6,747.6 298.8,769.7 299.2,770.6 293.2,771.8 364.9,722.0 322.0,754.0 442.5,658.7 363.3,724.3 305.9,764.2 321.8,748.1 410.8,681.1 302.1,765.9 316.4,756.8 307.0,761.8 302.9,764.7 346.4,739.2 355.8,730.3 312.6,755.1 301.5,769.5 518.7,590.8 392.7,695.9 291.3,773.0 292.5,773.6 309.8,760.2 292.9,769.3 334.2,741.6 338.4,735.2 292.1,770.8 311.3,761.7 311.0,757.9 287.9,772.6 298.0,768.9 298.0,771.4 384.7,709.0 409.6,683.5 341.7,740.9 436.7,655.7 442.7,656.9 316.8,761.8 302.8,769.0 288.0,774.7 288.1,778.8 310.1,760.9 371.9,710.8 467.4,638.2 314.8,760.8 303.3,762.6 433.0,663.0 321.4,754.9 505.2,608.5 368.3,720.3 363.5,727.0 413.9,676.8 329.8,742.5 545.4,586.1 464.5,661.0 321.8,748.8 317.5,757.3 385.2,703.2 373.6,719.6 325.8,747.8 304.5,760.7 297.6,768.3 288.2,772.3 302.4,764.7 568.1,553.5 298.4,770.0 335.7,744.3 465.2,656.3 300.1,768.6 297.6,769.8 649.4,507.9 319.4,750.5 289.7,774.8 518.2,581.9 396.6,693.4 367.1,722.1 327.6,748.3 287.9,772.8 314.5,753.7 344.3,729.9 326.5,750.6 449.0,650.7 388.6,702.6 563.2,557.4 393.7,699.2 353.1,729.2 304.5,763.2 299.0,770.0 293.7,771.3 336.0,740.5 333.1,750.7 317.4,757.1 429.1,674.4 512.0,600.6 327.6,747.8 297.5,768.9 289.7,776.2 348.6,730.7 320.9,753.9 438.6,658.9 297.0,770.0 294.8,770.7 290.7,771.3 307.3,760.8 353.5,735.1 296.1,769.1 408.4,687.7 301.8,772.1 418.8,686.2 380.1,704.3 318.1,753.7 547.3,581.2 341.6,734.2 520.3,613.0 736.8,420.3 292.8,773.7 363.9,714.5 535.3,590.9 320.6,754.9 311.8,758.3 372.3,715.8 292.3,768.9 296.5,766.9 435.8,668.6 293.8,771.8 324.2,750.6 294.9,765.0 315.3,756.9 295.4,766.9 300.2,767.2 296.1,772.4 346.4,740.5 304.5,763.5 369.4,714.7 323.5,750.2 378.2,704.2 361.5,719.6 327.9,741.6 316.5,753.8 308.4,764.6 304.5,760.6 328.2,751.5 431.2,670.9 294.9,774.7 724.5,433.3 307.3,757.7 300.1,771.6 662.8,495.5 289.9,776.0 292.2,778.3 288.6,775.0 410.2,687.6 304.1,769.3 350.3,740.5 314.9,762.3 292.7,771.3 295.0,775.6 322.6,752.0 288.7,774.0 293.1,769.7 320.9,753.4 557.9,567.7 297.0,764.7 312.9,760.7 309.2,761.2 571.3,549.5 309.3,765.1 308.3,759.8 464.3,661.3 292.8,777.3 294.8,775.9 309.0,762.0 317.7,755.4 287.5,782.8 287.4,769.7 577.5,538.5 471.9,631.0 371.8,716.1 301.7,764.7 323.7,753.5 289.3,776.0 350.8,734.0 436.6,664.5 305.1,765.7 288.7,776.1 290.9,767.6 301.0,767.8 424.5,672.0 347.0,732.2 306.2,764.7 296.5,770.9 301.4,762.7 393.3,701.5 289.3,772.1 422.7,679.1 319.9,754.9 289.4,769.4 620.6,534.4 301.7,768.5 294.9,772.5 305.9,762.0 405.5,693.3 343.4,736.0 328.0,745.6 313.0,751.9 306.9,759.6 340.2,744.1 306.3,757.4 406.1,689.3 393.8,703.4 378.4,709.1 304.3,767.8 308.8,762.7 305.8,766.5 314.1,759.4 337.8,749.3 328.1,743.5 410.4,685.8 325.6,746.9 287.8,774.0 300.5,767.4 436.4,658.6 306.6,758.7 344.1,737.4 362.1,719.0 334.1,744.8 314.0,759.5 409.5,684.5 319.7,753.6 341.6,738.3 502.7,629.0 305.1,766.9 437.8,664.8 334.7,740.5 415.4,678.8 304.2,766.5 321.7,750.9 315.9,760.8 320.3,752.0 310.8,753.9 338.6,741.0 311.0,763.4 631.0,506.2 293.1,772.3 290.4,773.6 296.7,767.8 300.2,768.3 331.2,743.1 374.7,716.3 302.3,768.4 342.0,736.5 339.2,738.1 324.9,749.5 339.2,737.2 322.4,752.2 358.1,728.2 298.8,766.6 310.6,765.5 288.7,774.7 328.7,744.2 327.3,746.6 314.5,753.7 308.2,762.7 619.4,524.4 310.1,762.2 372.6,716.8 298.6,767.6 335.3,739.0 306.1,763.4 327.0,743.4 298.6,766.7 291.4,779.4 427.9,669.1 293.7,772.9 679.8,474.9 290.9,775.5 366.7,721.3 444.1,648.3 487.4,619.9 380.8,710.0 299.5,770.1 348.4,734.2 309.7,762.8 309.1,759.1 299.9,763.6 324.6,755.7 300.7,765.4 300.0,767.5 416.5,682.7 316.2,753.5 348.9,735.3 667.1,491.8 418.5,680.3 312.5,761.2 352.5,731.6 296.0,767.2 384.3,711.8 318.9,750.1 287.2,771.2 355.2,728.8 332.2,742.4 303.4,768.5 318.8,755.2 440.9,665.3 307.1,765.1 298.6,765.0 352.0,728.3 294.5,767.6 391.2,707.9 297.5,769.1 376.5,713.2 323.6,756.1 424.7,668.8 287.9,774.6 438.3,662.3 367.3,711.5 300.9,768.2 506.8,600.3 361.3,730.4 325.4,744.7 287.3,772.7 424.1,681.6 332.1,749.1 294.6,762.3 308.1,763.5 304.2,760.3 289.6,772.4 359.1,723.6 289.3,774.4 300.4,770.8 373.8,718.4 405.8,693.2 289.2,771.0 318.6,760.8 318.7,757.8 327.4,746.6 297.2,769.2 297.0,770.5 321.4,755.7 302.4,771.2 302.1,768.3 296.6,773.1 391.6,702.5 350.5,734.7 315.4,761.8 490.2,615.3 303.7,771.6 327.7,745.3 514.8,608.3 317.9,756.9 315.7,760.7 299.0,771.0 581.6,553.9 455.9,664.0 287.7,772.0 327.1,748.1 315.0,757.1 408.1,688.0 317.1,751.9 353.5,728.9 397.5,691.8 299.2,769.9 325.8,743.5 371.3,718.5 613.0,535.1 291.8,774.7 306.1,760.3 305.0,758.8 322.0,751.0 293.4,764.7 303.5,768.4 380.4,712.1 298.2,770.0 380.3,702.6 287.2,778.6 424.2,675.6 364.8,725.5 301.7,765.6 315.0,760.0 295.7,760.4 296.4,767.1 304.0,766.5 330.0,743.5 301.9,766.3 329.8,748.9 296.2,768.1 385.5,712.0 408.4,679.6 295.6,766.1 419.7,685.2 290.7,773.8 290.3,779.7 312.3,757.1 304.0,763.7 320.7,752.4 434.0,671.3 314.7,757.5 297.0,771.5 328.3,748.6 319.7,756.2 350.4,733.9 595.7,545.4 296.6,777.9 728.0,444.0 394.7,693.5 303.0,760.6 316.1,758.4 306.2,763.0 394.6,691.5 351.5,737.0 370.7,714.3 367.9,725.7 355.9,725.4 389.7,702.8 335.8,742.7 316.4,757.0 366.1,710.9 333.2,752.6 311.0,764.8 387.0,702.7 376.4,710.6 297.8,771.2 288.5,773.7 326.6,749.1 295.8,769.7 302.2,762.2 308.0,764.9 373.7,712.8 364.3,716.8 366.8,721.4 372.4,709.0 312.8,761.6 642.8,517.3 388.8,707.9 287.5,775.1 382.2,702.5 295.0,771.8 353.5,729.2 308.8,761.6 290.7,771.4 329.0,750.9 346.9,734.5 295.4,773.4 377.6,708.7 314.1,754.9 392.1,711.5 367.2,717.7 312.4,759.7 416.6,677.5 334.2,746.2 431.6,670.0 306.6,767.1 308.1,759.3 326.9,740.8 395.4,696.2 307.2,757.4 292.1,767.5 306.3,764.1 287.8,775.0 319.3,753.6 298.6,764.8 305.1,766.3 453.4,648.9 335.4,745.7 321.9,750.1 314.7,757.5 307.1,768.4 436.0,669.0 309.5,759.3 312.8,759.2 296.6,768.8 324.6,742.6 328.1,752.6 349.8,734.7 297.3,771.7 411.1,685.5 446.3,661.9 295.7,770.9 339.9,742.3 388.7,706.3 293.7,765.2 318.8,745.8 324.7,751.0 319.1,754.0 360.8,730.7 336.6,743.1 295.0,768.1 361.6,721.0 297.6,769.6 326.9,742.4 309.9,750.7 308.6,762.2 302.4,769.2 299.0,766.0 515.9,598.6 485.0,634.6 293.2,771.9 296.6,766.0 299.6,766.3 301.8,769.0 448.6,651.6 336.3,744.9 287.3,770.6 569.3,559.9 474.7,649.2 299.5,770.5 327.7,745.4 389.0,693.1 305.9,762.2 299.3,768.7 312.5,751.0 296.8,773.7 298.2,765.1 315.5,762.0 493.3,634.4 331.6,749.2 305.5,761.0 335.4,741.5 429.7,672.6 292.1,771.0 294.0,773.5 338.1,734.6 332.2,744.5 382.3,704.6 324.9,754.8 302.6,765.9 296.9,773.3 316.0,754.1 315.2,762.5 295.5,767.8 372.9,709.4 322.5,749.9 337.1,736.4 357.7,719.1 367.5,719.7 374.8,715.1 300.3,768.7 390.8,700.8 343.4,737.2 581.2,552.8 441.3,652.3 298.3,768.2 544.8,583.4 333.0,738.8 299.2,771.6 326.3,749.5 361.2,720.7 307.4,760.2 296.7,773.6 288.1,779.4 299.3,771.8 321.6,755.5 740.8,418.8 313.8,758.3 362.1,720.9 374.3,717.2 308.4,763.5 369.8,713.8 332.7,743.3 287.7,776.2 316.1,753.1 317.1,757.7 348.3,735.1 305.2,765.4 338.6,742.4 555.6,565.1 353.1,735.3 309.2,759.8 299.6,773.7 397.7,704.8 320.4,753.4 290.6,772.5 290.6,773.9 306.4,770.0 305.1,760.2 288.9,771.1 384.5,709.8 379.1,703.5 290.1,775.7 322.7,751.7 394.0,702.5 322.8,755.3 460.5,657.5 319.8,754.8 445.5,655.6 335.5,743.8 393.2,696.0 308.3,759.0 321.2,747.7 292.1,769.1 304.7,764.1 382.3,706.0 344.9,735.9 312.6,761.7 312.4,763.0 377.9,702.6 295.3,773.3 306.5,761.1 332.2,739.6 304.7,763.6 292.9,773.7 288.2,773.7 307.3,757.3 347.7,737.0 290.9,776.0 301.1,768.3 303.0,762.9 489.8,619.5 295.0,772.4 450.3,655.2 301.9,763.1 294.1,775.0 390.9,701.4 401.3,690.7 331.5,742.9 326.1,747.0 304.0,769.4 307.6,762.4 328.0,750.0 619.3,520.9 345.3,733.3 309.3,761.4 328.0,747.2 299.8,760.3 327.6,741.8 291.5,769.8 295.1,770.3 310.0,753.7 666.4,490.8 637.2,522.2 349.7,732.5 519.2,608.4 362.5,732.1 292.5,775.6 305.8,764.8 309.7,762.3 303.2,764.0 317.0,753.6 422.8,673.3 309.1,765.0 298.4,766.0 288.5,769.6 289.9,774.6 311.6,760.3 362.6,720.0 287.7,773.3 295.8,770.0 329.0,745.9 309.9,763.8 304.4,770.4 444.9,663.5 293.5,772.9 405.1,690.5 363.0,724.1 314.8,760.5 330.4,745.6 297.7,767.3 734.1,435.3 321.5,754.0 304.6,764.2 438.5,668.1 309.8,759.2 319.0,756.2 347.9,740.8 307.0,756.7 293.3,770.4 359.8,720.4 337.0,742.0 303.7,765.5 311.0,759.7 290.1,773.3 359.4,725.0 292.5,774.9 290.1,771.8 334.8,742.8 291.0,766.9 319.8,756.5 317.8,756.4 290.0,773.9 325.7,756.3 353.5,732.4 304.4,771.0 305.0,763.6 294.6,770.4 297.5,765.6 324.7,749.6 295.2,767.2 305.7,761.8 299.8,774.7 397.6,695.0 351.8,736.3 287.2,773.5 307.1,758.4 428.6,664.6 327.8,747.0 377.7,710.5 361.4,728.7 330.4,743.5 351.2,729.6 348.4,733.7 295.9,774.1 495.4,629.9 312.3,760.6 375.4,708.6 317.3,755.6 308.6,764.4 565.0,557.4 513.7,599.0 379.3,708.3 332.2,745.7 330.3,745.4 316.6,756.4 501.1,612.4 377.2,716.1 304.7,760.2 290.0,773.6 296.3,762.3 365.3,729.1 288.4,777.5 381.7,714.8 325.3,749.8 301.4,765.1 403.9,694.0 294.7,770.2 310.5,759.5 350.3,734.4 571.9,558.3 317.2,759.5 330.6,747.7 334.9,745.0 287.2,777.8 295.9,773.5 292.0,771.4 352.8,729.5 343.1,729.9 287.7,782.0 307.9,762.4 321.7,752.2 338.4,738.2 385.1,704.0 429.4,658.6 422.0,681.5 345.3,741.4 296.5,767.8 412.4,689.1 296.6,769.0 394.1,699.9 377.9,700.9 388.6,707.4 299.1,762.8 331.2,744.1 290.1,773.1 288.3,774.5 320.8,756.6 293.5,771.4 335.0,742.3 340.8,739.8 349.4,736.9 353.2,731.3 302.4,766.6 330.6,746.7 292.1,777.0 321.5,752.1 330.5,742.1 296.6,770.0 315.6,751.9 307.1,761.7 322.8,753.2 370.8,720.4 348.1,737.8 340.8,741.1 473.7,638.8 340.5,742.7 436.7,667.8 356.2,719.7 306.9,769.2 298.4,767.6 289.3,773.8 298.6,767.0 296.3,768.7 292.3,772.3 321.7,753.7 358.2,726.3 322.0,755.3 305.9,765.8 302.8,765.3 295.3,770.1 301.1,766.1 334.2,746.0 337.4,745.4 656.0,478.6 370.0,714.2 304.7,761.3 295.9,769.2 304.0,762.3 288.9,771.3 295.6,765.7 338.7,740.2 300.1,765.5 328.2,744.8 307.2,767.6 366.8,718.8 326.1,748.0 291.3,775.7 302.1,767.9 354.0,723.8 381.3,705.8 307.3,762.6 313.8,759.6 290.8,772.6 293.3,760.9 294.7,770.2 378.3,714.7 340.7,744.6 292.7,768.5 361.4,720.7 415.3,687.2 398.4,687.8 420.8,670.9 334.4,745.8 298.0,770.9 390.0,699.3 531.9,591.1 295.1,768.8 289.5,770.5 300.8,768.7 312.8,757.6 315.1,761.3 307.4,760.2 604.4,525.6 314.5,765.5 335.8,746.5 444.9,657.7 391.3,708.3 299.1,767.7 322.2,750.0 353.2,728.5 312.7,756.3 342.0,737.7 311.1,756.1 293.2,772.6 292.3,773.8 293.7,774.3 348.2,739.8 289.1,774.7 334.2,743.2 334.6,743.8 344.8,739.2 374.1,715.2 336.4,738.1 291.9,771.9 386.0,698.6 304.5,762.9 1059.3,169.3 1050.5,190.6 1028.2,194.4 988.3,223.2 983.3,235.1 948.0,264.1 934.0,274.6 923.9,283.7 924.1,283.9 894.3,298.2 893.3,302.4 910.1,299.6 910.5,302.7 916.4,295.7 905.2,309.4 918.5,309.4 874.4,305.2 869.5,310.4 879.3,309.4 878.3,317.1 883.5,323.4 860.4,321.3 829.3,331.4 845.0,344.1 844.3,354.2 863.2,353.2 834.5,359.5 829.3,363.7 823.3,359.1 824.7,359.1 806.5,359.4 802.7,366.1 809.3,367.1 814.2,367.9 808.3,371.7 800.2,376.6 786.5,379.1 794.6,382.9 825.1,379.8 789.0,387.8 796.7,386.4 791.5,392.4 785.5,391.3 812.1,394.4 803.4,397.3 786.5,399.3 779.9,402.2 775.0,400.4 782.3,410.5"/></g><path d="M209.5 91.5V839.5M209.5 839.5H1177.5M327.5 91.5V839.5M209.5 748.5H1177.5M445.5 91.5V839.5M209.5 657.5H1177.5M563.5 91.5V839.5M209.5 565.5H1177.5M681.5 91.5V839.5M209.5 474.5H1177.5M799.5 91.5V839.5M209.5 383.5H1177.5M917.5 91.5V839.5M209.5 292.5H1177.5M1035.5 91.5V839.5M209.5 200.5H1177.5M1153.5 91.5V839.5M209.5 109.5H1177.5" stroke="#b0b0b0" stroke-width="2.78" fill="none"/><g clip-path="url(#cl)"><path d="M209.5 839.5L1177.1 91.5" stroke="#808080" stroke-width="3.47" fill="none"/></g><path d="M1480.5 91.5V839.5M1480.5 839.5H2228.5M1646.5 91.5V839.5M1480.5 673.5H2228.5M1812.5 91.5V839.5M1480.5 507.5H2228.5M1979.5 91.5V839.5M1480.5 340.5H2228.5M2145.5 91.5V839.5M1480.5 174.5H2228.5" stroke="#b0b0b0" stroke-width="2.78" fill="none"/><g clip-path="url(#cr)"><path d="M1609.9 709.4L2232 87.3" stroke="#808080" stroke-opacity="0.5" stroke-width="4.9" fill="none"/><path d="M1627.4 497.05V801.95M1644.5 677.4V685.4M1661.4 644.5V654.5M1678.4 641.6V659.2M1695.4 612.8V632.8M1712.2 596.6V617.4M1729.4 596.6V620.6M1746.4 551.6V579.2M1763.4 539.1V570.1M1780.4 504.5V538.5M1797.4 502.9V541.9M1814.4 485.4V525.4M1831.4 492.1V534.7M1848.6 440.4V488.4M1865.4 387.4V435.6M1882.4 417.4V467.4M1899.4 412.4V464.4M1916.6 420.4V472M1933.4 383.8V436.6M1950.4 370.3V422.5M1967.4 278.5V329.5M1984.4 348V400.8M2001.4 217.6V271.6M2018.4 238V290.8M2035.4 261.6V317.6M2052.4 289.7V347.1M2068.6 250.6V298.6M2085.4 204.5V251.9M2102.4 187.6V230M2119.4 180.2V212.2M2136.6 175V191" stroke="#1f77b4" stroke-width="5.21" fill="none"/><circle cx="1627.4" cy="649.5" r="6.94" fill="#1f77b4"/><circle cx="1644.5" cy="681.4" r="6.94" fill="#1f77b4"/><circle cx="1661.4" cy="649.5" r="6.94" fill="#1f77b4"/><circle cx="1678.4" cy="650.4" r="6.94" fill="#1f77b4"/><circle cx="1695.4" cy="622.8" r="6.94" fill="#1f77b4"/><circle cx="1712.2" cy="607" r="6.94" fill="#1f77b4"/><circle cx="1729.4" cy="608.6" r="6.94" fill="#1f77b4"/><circle cx="1746.4" cy="565.4" r="6.94" fill="#1f77b4"/><circle cx="1763.4" cy="554.6" r="6.94" fill="#1f77b4"/><circle cx="1780.4" cy="521.5" r="6.94" fill="#1f77b4"/><circle cx="1797.4" cy="522.4" r="6.94" fill="#1f77b4"/><circle cx="1814.4" cy="505.4" r="6.94" fill="#1f77b4"/><circle cx="1831.4" cy="513.4" r="6.94" fill="#1f77b4"/><circle cx="1848.6" cy="464.4" r="6.94" fill="#1f77b4"/><circle cx="1865.4" cy="411.5" r="6.94" fill="#1f77b4"/><circle cx="1882.4" cy="442.4" r="6.94" fill="#1f77b4"/><circle cx="1899.4" cy="438.4" r="6.94" fill="#1f77b4"/><circle cx="1916.6" cy="446.2" r="6.94" fill="#1f77b4"/><circle cx="1933.4" cy="410.2" r="6.94" fill="#1f77b4"/><circle cx="1950.4" cy="396.4" r="6.94" fill="#1f77b4"/><circle cx="1967.4" cy="304" r="6.94" fill="#1f77b4"/><circle cx="1984.4" cy="374.4" r="6.94" fill="#1f77b4"/><circle cx="2001.4" cy="244.6" r="6.94" fill="#1f77b4"/><circle cx="2018.4" cy="264.4" r="6.94" fill="#1f77b4"/><circle cx="2035.4" cy="289.6" r="6.94" fill="#1f77b4"/><circle cx="2052.4" cy="318.4" r="6.94" fill="#1f77b4"/><circle cx="2068.6" cy="274.6" r="6.94" fill="#1f77b4"/><circle cx="2085.4" cy="228.2" r="6.94" fill="#1f77b4"/><circle cx="2102.4" cy="208.8" r="6.94" fill="#1f77b4"/><circle cx="2119.4" cy="196.2" r="6.94" fill="#1f77b4"/><circle cx="2136.6" cy="183" r="6.94" fill="#1f77b4"/><path d="M1644.6 674V686.8M1661.4 642.6V655.8M1678.4 621.6V639.2M1695.4 612.2V633.8M1712.2 608.1V631.9M1729.4 573.7V601.1M1746.4 552.2V581M1763.4 533.5V565.3M1780.4 504.1V538.3M1797.4 473.4V509.4M1814.4 507.6V546M1831.4 502.8V543.6M1848.6 440.6V488.2M1865.4 414.1V462.3M1882.4 413.7V463.1M1899.4 382.9V433.9M1916.6 408.4V460M1933.4 404.2V454.6M1950.4 364V419.2M1967.4 292.5V342.3M1984.4 331.7V385.1M2001.4 242.9V299.9M2018.4 246.1V298.7M2035.4 262V317.2M2052.4 272.8V325.6M2068.6 256.8V306M2085.4 182.3V232.5M2102.4 177V220.2M2119.4 190.8V222M2136.6 174.3V191.7" stroke="#ff7f0e" stroke-opacity="0.6" stroke-width="6.94" fill="none"/><path d="M1644.6 680.4 L1661.4 649.2 L1678.4 630.4 L1695.4 623 L1712.2 620 L1729.4 587.4 L1746.4 566.6 L1763.4 549.4 L1780.4 521.2 L1797.4 491.4 L1814.4 526.8 L1831.4 523.2 L1848.6 464.4 L1865.4 438.2 L1882.4 438.4 L1899.4 408.4 L1916.6 434.2 L1933.4 429.4 L1950.4 391.6 L1967.4 317.4 L1984.4 358.4 L2001.4 271.4 L2018.4 272.4 L2035.4 289.6 L2052.4 299.2 L2068.6 281.4 L2085.4 207.4 L2102.4 198.6 L2119.4 206.4 L2136.6 183" stroke="#ff7f0e" stroke-opacity="0.6" stroke-width="6.94" stroke-dasharray="6.94 11.46" fill="none"/><path d="M1634.18 680.4H1655.02" stroke="#ff7f0e" stroke-opacity="0.6" stroke-width="3.47"/><path d="M1650.98 649.2H1671.82" stroke="#ff7f0e" stroke-opacity="0.6" stroke-width="3.47"/><path d="M1667.98 630.4H1688.82" stroke="#ff7f0e" stroke-opacity="0.6" stroke-width="3.47"/><path d="M1684.98 623H1705.82" stroke="#ff7f0e" stroke-opacity="0.6" stroke-width="3.47"/><path d="M1701.78 620H1722.62" stroke="#ff7f0e" stroke-opacity="0.6" stroke-width="3.47"/><path d="M1718.98 587.4H1739.82" stroke="#ff7f0e" stroke-opacity="0.6" stroke-width="3.47"/><path d="M1735.98 566.6H1756.82" stroke="#ff7f0e" stroke-opacity="0.6" stroke-width="3.47"/><path d="M1752.98 549.4H1773.82" stroke="#ff7f0e" stroke-opacity="0.6" stroke-width="3.47"/><path d="M1769.98 521.2H1790.82" stroke="#ff7f0e" stroke-opacity="0.6" stroke-width="3.47"/><path d="M1786.98 491.4H1807.82" stroke="#ff7f0e" stroke-opacity="0.6" stroke-width="3.47"/><path d="M1803.98 526.8H1824.82" stroke="#ff7f0e" stroke-opacity="0.6" stroke-width="3.47"/><path d="M1820.98 523.2H1841.82" stroke="#ff7f0e" stroke-opacity="0.6" stroke-width="3.47"/><path d="M1838.18 464.4H1859.02" stroke="#ff7f0e" stroke-opacity="0.6" stroke-width="3.47"/><path d="M1854.98 438.2H1875.82" stroke="#ff7f0e" stroke-opacity="0.6" stroke-width="3.47"/><path d="M1871.98 438.4H1892.82" stroke="#ff7f0e" stroke-opacity="0.6" stroke-width="3.47"/><path d="M1888.98 408.4H1909.82" stroke="#ff7f0e" stroke-opacity="0.6" stroke-width="3.47"/><path d="M1906.18 434.2H1927.02" stroke="#ff7f0e" stroke-opacity="0.6" stroke-width="3.47"/><path d="M1922.98 429.4H1943.82" stroke="#ff7f0e" stroke-opacity="0.6" stroke-width="3.47"/><path d="M1939.98 391.6H1960.82" stroke="#ff7f0e" stroke-opacity="0.6" stroke-width="3.47"/><path d="M1956.98 317.4H1977.82" stroke="#ff7f0e" stroke-opacity="0.6" stroke-width="3.47"/><path d="M1973.98 358.4H1994.82" stroke="#ff7f0e" stroke-opacity="0.6" stroke-width="3.47"/><path d="M1990.98 271.4H2011.82" stroke="#ff7f0e" stroke-opacity="0.6" stroke-width="3.47"/><path d="M2007.98 272.4H2028.82" stroke="#ff7f0e" stroke-opacity="0.6" stroke-width="3.47"/><path d="M2024.98 289.6H2045.82" stroke="#ff7f0e" stroke-opacity="0.6" stroke-width="3.47"/><path d="M2041.98 299.2H2062.82" stroke="#ff7f0e" stroke-opacity="0.6" stroke-width="3.47"/><path d="M2058.18 281.4H2079.02" stroke="#ff7f0e" stroke-opacity="0.6" stroke-width="3.47"/><path d="M2074.98 207.4H2095.82" stroke="#ff7f0e" stroke-opacity="0.6" stroke-width="3.47"/><path d="M2091.98 198.6H2112.82" stroke="#ff7f0e" stroke-opacity="0.6" stroke-width="3.47"/><path d="M2108.98 206.4H2129.82" stroke="#ff7f0e" stroke-opacity="0.6" stroke-width="3.47"/><path d="M2126.18 183H2147.02" stroke="#ff7f0e" stroke-opacity="0.6" stroke-width="3.47"/></g><rect x="1499.5" y="110.5" width="520" height="122" rx="6.94" fill="#fff" fill-opacity="0.8" stroke="#ccc" stroke-opacity="0.8" stroke-width="3.47"/><path d="M1552.5 121V160" stroke="#1f77b4" stroke-width="5.21"/><circle cx="1552.5" cy="140.5" r="6.94" fill="#1f77b4"/><path d="M1552.5 176V215.5" stroke="#ff7f0e" stroke-opacity="0.6" stroke-width="6.94"/><path d="M1514 195.5H1590.4" stroke="#ff7f0e" stroke-opacity="0.6" stroke-width="6.94" stroke-dasharray="6.94 11.46"/><path d="M1542.08 195.5H1562.92" stroke="#ff7f0e" stroke-opacity="0.6" stroke-width="3.47"/><path d="M209.5 839.5v12.15M209.5 839.5h-12.15M327.5 839.5v12.15M209.5 748.5h-12.15M445.5 839.5v12.15M209.5 657.5h-12.15M563.5 839.5v12.15M209.5 565.5h-12.15M681.5 839.5v12.15M209.5 474.5h-12.15M799.5 839.5v12.15M209.5 383.5h-12.15M917.5 839.5v12.15M209.5 292.5h-12.15M1035.5 839.5v12.15M209.5 200.5h-12.15M1153.5 839.5v12.15M209.5 109.5h-12.15M1480.5 839.5v12.15M1480.5 839.5h-12.15M1646.5 839.5v12.15M1480.5 673.5h-12.15M1812.5 839.5v12.15M1480.5 507.5h-12.15M1979.5 839.5v12.15M1480.5 340.5h-12.15M2145.5 839.5v12.15M1480.5 174.5h-12.15" stroke="#000" stroke-width="2.78" fill="none"/><rect x="209.5" y="91.5" width="968.0" height="748.0" fill="none" stroke="#000" stroke-width="2.78"/><rect x="1480.5" y="91.5" width="748.0" height="748.0" fill="none" stroke="#000" stroke-width="2.78"/><path d="M104 840.8H127V843.65H104ZM171 879H194V881.85H171Z" fill="#000"/><text transform="translate(368.22 70.18) scale(1.0766 1)" style="font-size:49.37px;">100 parameters, RMSE=0.017</text><text transform="translate(1475.40 71.96) scale(1.1299 1)" style="font-size:47.18px;">Model posterior blind coverage test</text><text transform="translate(196.26 892.14) scale(1.0718 1)" style="font-size:40.67px;">0.5</text><text transform="translate(300.62 892.14) scale(1.0279 1)" style="font-size:40.82px;">0.0</text><text transform="translate(418.62 892.14) scale(1.0279 1)" style="font-size:40.82px;">0.5</text><text transform="translate(536.42 891.98) scale(1.0204 1)" style="font-size:41.18px;">1.0</text><text transform="translate(654.42 891.58) scale(1.0054 1)" style="font-size:41.79px;">1.5</text><text transform="translate(772.09 892.14) scale(1.0485 1)" style="font-size:40.82px;">2.0</text><text transform="translate(890.09 892.15) scale(1.0331 1)" style="font-size:41.43px;">2.5</text><text transform="translate(1009.09 892.14) scale(1.0359 1)" style="font-size:40.82px;">3.0</text><text transform="translate(1127.26 892.15) scale(1.0309 1)" style="font-size:41.43px;">3.5</text><text transform="translate(129.26 853.14) scale(1.0718 1)" style="font-size:40.67px;">0.5</text><text transform="translate(130.62 762.14) scale(1.0279 1)" style="font-size:40.82px;">0.0</text><text transform="translate(130.62 671.14) scale(1.0279 1)" style="font-size:40.82px;">0.5</text><text transform="translate(130.42 579.98) scale(1.0204 1)" style="font-size:41.18px;">1.0</text><text transform="translate(130.42 487.58) scale(1.0054 1)" style="font-size:41.79px;">1.5</text><text transform="translate(130.09 397.14) scale(1.0485 1)" style="font-size:40.82px;">2.0</text><text transform="translate(130.09 306.15) scale(1.0331 1)" style="font-size:41.43px;">2.5</text><text transform="translate(131.09 215.14) scale(1.0359 1)" style="font-size:40.82px;">3.0</text><text transform="translate(131.26 124.15) scale(1.0309 1)" style="font-size:41.43px;">3.5</text><text transform="translate(1452.92 892.14) scale(1.0288 1)" style="font-size:40.82px;">0.2</text><text transform="translate(1618.63 891.98) scale(1.0146 1)" style="font-size:41.18px;">0.4</text><text transform="translate(1785.64 892.14) scale(1.0192 1)" style="font-size:40.82px;">0.6</text><text transform="translate(1951.62 892.14) scale(1.0279 1)" style="font-size:40.82px;">0.8</text><text transform="translate(2117.42 891.98) scale(1.0204 1)" style="font-size:41.18px;">1.0</text><text transform="translate(1400.92 853.14) scale(1.0288 1)" style="font-size:40.82px;">0.2</text><text transform="translate(1400.63 686.98) scale(1.0146 1)" style="font-size:41.18px;">0.4</text><text transform="translate(1400.64 521.14) scale(1.0192 1)" style="font-size:40.82px;">0.6</text><text transform="translate(1400.62 355.14) scale(1.0279 1)" style="font-size:40.82px;">0.8</text><text transform="translate(1400.42 187.98) scale(1.0204 1)" style="font-size:41.18px;">1.0</text><text transform="translate(1622.16 154.83) scale(1.1969 1)" style="font-size:40.05px;">Evidence Network</text><text transform="translate(1621.03 209.93) scale(1.1287 1)" style="font-size:41.93px;">Analytic calculation</text><text transform="translate(537.04 941.64) scale(1.0294 1)" style="font-size:36.87px;">log</text><text transform="translate(586.90 949.07) scale(0.9042 1)" style="font-size:29.49px;">10</text><text transform="translate(624.00 942.13) scale(0.8281 1)" style="font-size:42.22px;">(</text><text transform="translate(638.22 941.74) scale(1.0250 1)" style="font-size:40.83px;font-style:italic;">K</text><text transform="translate(670.32 943.13) scale(0.7762 1)" style="font-size:42.22px;">)</text><text transform="translate(696.55 943.18) scale(1.1728 1)" style="font-size:41.13px;">analytic</text><text transform="translate(1743.56 941.98) scale(1.0185 1)" style="font-size:35.28px;font-style:italic;">p</text><text transform="translate(1763.00 942.13) scale(0.8281 1)" style="font-size:42.22px;">(</text><text transform="translate(1777.19 941.74) scale(0.9662 1)" style="font-size:40.83px;font-style:italic;">M</text><text transform="translate(1813.11 948.00) scale(0.8927 1)" style="font-size:27.27px;">1</text><text transform="translate(1831.84 943.00) scale(0.5185 1)" style="font-size:42.86px;">|</text><text transform="translate(1840.23 942.26) scale(1.2232 1)" style="font-size:34.90px;font-style:italic;">x</text><text transform="translate(1862.32 943.13) scale(0.7762 1)" style="font-size:42.22px;">)</text><text transform="translate(1889.40 942.83) scale(1.1802 1)" style="font-size:40.05px;">bins</text><text transform="translate(74.00 644.76) rotate(-90) scale(1.0214 1)" style="font-size:37.11px;">log</text><text transform="translate(80.73 595.48) rotate(-90) scale(0.9273 1)" style="font-size:29.75px;">10</text><text transform="translate(73.81 558.54) rotate(-90) scale(0.9343 1)" style="font-size:41.17px;">(</text><text transform="translate(74.18 543.58) rotate(-90) scale(1.0189 1)" style="font-size:40.89px;font-style:italic;">K</text><text transform="translate(74.81 512.04) rotate(-90) scale(0.8408 1)" style="font-size:41.17px;">)</text><text transform="translate(75.10 485.49) rotate(-90) scale(1.2046 1)" style="font-size:40.58px;">prediction</text><text transform="translate(1334.95 710.48) rotate(-90) scale(1.2152 1)" style="font-size:39.37px;">Validation model fraction</text><text transform="translate(1377.66 624.92) rotate(-90) scale(1.1682 1)" style="font-size:41.10px;">(20000 samples)</text></svg></body></html>
